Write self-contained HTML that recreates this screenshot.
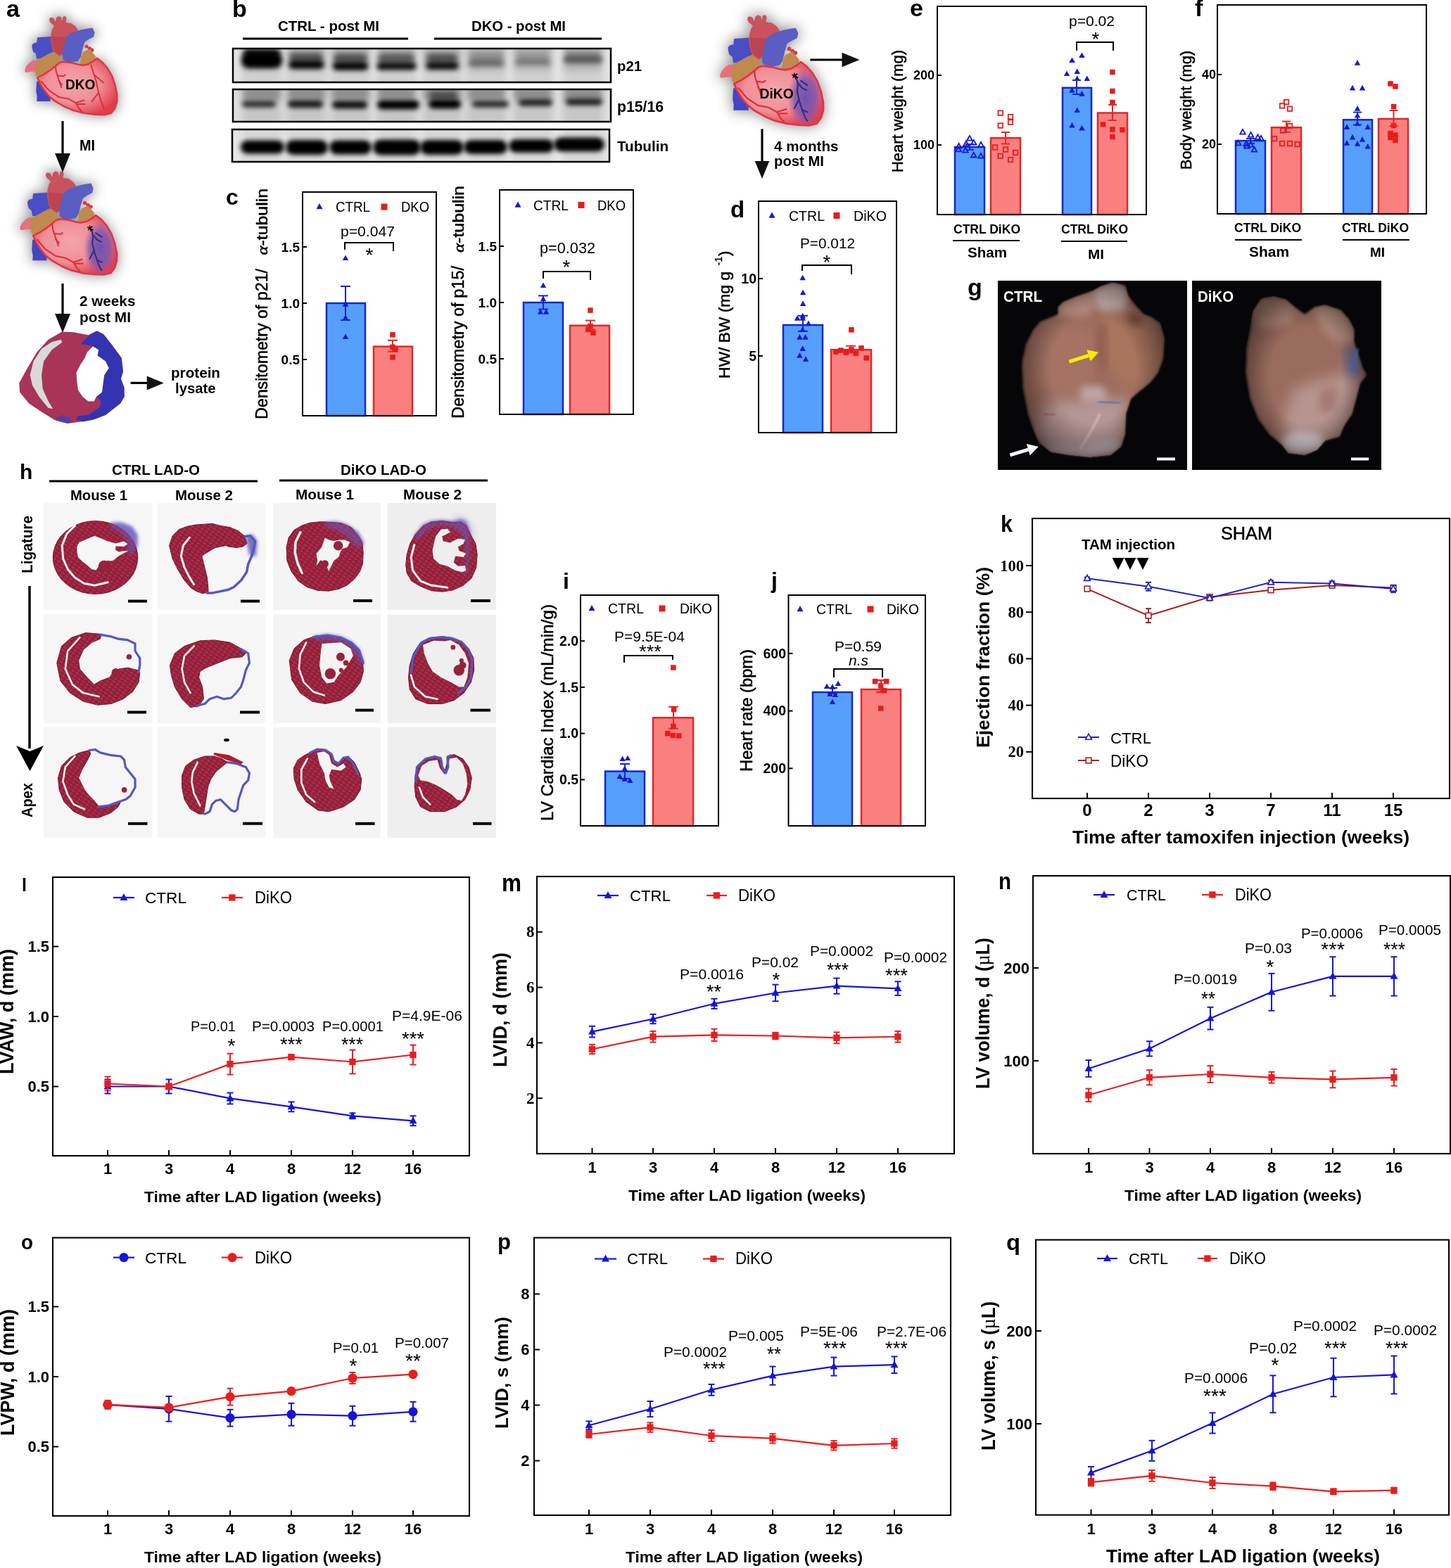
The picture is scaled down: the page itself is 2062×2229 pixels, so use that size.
<!DOCTYPE html>
<html><head><meta charset="utf-8"><title>Figure</title>
<style>html,body{margin:0;padding:0;background:#fff;overflow:hidden;width:2062px;height:2229px;} svg{display:block;}</style></head>
<body>
<svg width="2062" height="2229" viewBox="0 0 2062 2229">
<defs><filter id="bl3" x="-50%" y="-50%" width="200%" height="200%"><feGaussianBlur stdDeviation="3"/></filter>
<filter id="bl5" x="-50%" y="-50%" width="200%" height="200%"><feGaussianBlur stdDeviation="5"/></filter>
<filter id="bl3b" x="-50%" y="-80%" width="200%" height="260%"><feGaussianBlur stdDeviation="3.6 3"/></filter>
<filter id="bl2" x="-50%" y="-50%" width="200%" height="200%"><feGaussianBlur stdDeviation="2"/></filter>
<clipPath id="blotclip0"><rect x="331" y="69" width="537" height="48"/></clipPath>
<clipPath id="blotclip1"><rect x="331" y="127" width="537" height="46"/></clipPath>
<clipPath id="blotclip2"><rect x="330" y="184" width="536" height="46"/></clipPath>
<radialGradient id="ventg" cx="0.45" cy="0.45" r="0.6"><stop offset="0" stop-color="#f4a4ab"/><stop offset="0.55" stop-color="#f09098"/><stop offset="1" stop-color="#e0404e"/></radialGradient>
<radialGradient id="infg" cx="0.5" cy="0.5" r="0.5"><stop offset="0" stop-color="#6a4fb0" stop-opacity="0.95"/><stop offset="0.6" stop-color="#7a55b0" stop-opacity="0.8"/><stop offset="1" stop-color="#9a5aa8" stop-opacity="0"/></radialGradient>
<filter id="hsh" x="-50%" y="-50%" width="200%" height="200%"><feGaussianBlur stdDeviation="8.5"/></filter>
<filter id="hb1" x="-30%" y="-30%" width="160%" height="160%"><feGaussianBlur stdDeviation="0.6"/></filter>
<clipPath id="ventclip"><polygon points="53.1,110.3 62.3,105.7 71.5,99.7 78.9,93.7 84.4,89.1 89.9,87.7 101.0,89.1 112.0,91.9 117.5,92.8 125.8,91.0 133.2,86.4 137.8,82.7 145.1,88.2 152.5,96.5 158.9,107.5 163.5,120.4 166.3,134.2 166.3,144.3 163.5,153.5 158.0,160.9 148.8,163.2 135.0,162.7 119.4,160.9 104.6,157.2 91.8,151.7 78.9,144.3 69.7,137.0 62.3,127.8 56.8,118.6"/></clipPath>
<filter id="gb3" x="-30%" y="-30%" width="160%" height="160%"><feGaussianBlur stdDeviation="3"/></filter>
<filter id="gb6" x="-30%" y="-30%" width="160%" height="160%"><feGaussianBlur stdDeviation="6"/></filter>
<filter id="gb10" x="-30%" y="-30%" width="160%" height="160%"><feGaussianBlur stdDeviation="10"/></filter>
<filter id="gb2" x="-30%" y="-30%" width="160%" height="160%"><feGaussianBlur stdDeviation="1.8"/></filter>
<radialGradient id="vig" cx="0.5" cy="0.5" r="0.55"><stop offset="0.55" stop-color="#000" stop-opacity="0"/><stop offset="1" stop-color="#000" stop-opacity="0.45"/></radialGradient>
<clipPath id="gc1"><rect x="1418" y="399" width="269" height="269"/></clipPath>
<clipPath id="gc2"><rect x="1694" y="399" width="269" height="269"/></clipPath>
<clipPath id="gclipA"><polygon points="1503.9,436.8 1511.2,429.6 1528.6,422.3 1553.4,413.6 1563.6,407.7 1581.0,401.9 1598.5,406.3 1602.9,420.8 1611.6,432.5 1624.7,447.0 1636.3,451.4 1648.0,460.1 1653.8,480.5 1652.4,509.6 1645.1,530.0 1633.4,544.6 1618.9,556.2 1607.2,566.4 1600.0,588.2 1598.5,617.3 1592.7,634.8 1578.1,646.5 1549.0,649.4 1519.9,646.5 1493.7,642.1 1477.7,629.0 1470.4,613.0 1461.7,588.2 1454.4,551.8 1452.9,515.4 1458.8,489.2 1468.9,468.9 1479.1,457.2 1493.7,451.4 1503.9,447.0"/></clipPath>
<clipPath id="gclipB"><polygon points="1781.3,442.7 1793.0,425.2 1810.4,422.3 1827.9,426.7 1839.6,436.8 1854.1,447.0 1868.7,436.8 1883.2,433.9 1905.1,441.2 1916.7,454.3 1924.0,468.9 1924.0,486.3 1929.8,503.8 1935.6,522.7 1941.5,532.9 1932.7,544.6 1926.9,566.4 1921.1,588.2 1909.4,605.7 1903.6,620.3 1883.2,626.1 1871.6,639.2 1854.1,646.5 1830.8,643.5 1822.1,631.9 1804.6,617.3 1788.6,595.5 1777.0,566.4 1771.1,530.0 1772.6,493.6 1777.0,471.8"/></clipPath>
<filter id="hbl" x="-30%" y="-30%" width="160%" height="160%"><feGaussianBlur stdDeviation="2.5"/></filter>
<pattern id="hstreak" width="7" height="5" patternUnits="userSpaceOnUse" patternTransform="rotate(35)"><rect width="7" height="5" fill="none"/><line x1="0" y1="1" x2="4" y2="1" stroke="#e07a8c" stroke-width="0.8" opacity="0.55"/><line x1="3" y1="3.5" x2="6" y2="3.5" stroke="#6a0c20" stroke-width="0.8" opacity="0.5"/></pattern></defs>
<rect x="0" y="0" width="2062" height="2229" fill="#fff"/>
<g clip-path="url(#blotclip0)">
<rect x="331.0" y="69.0" width="537.0" height="48.0" fill="#e2e2e2" />
<rect x="344.0" y="64" width="56" height="58" fill="#000" opacity="0.08" filter="url(#bl5)"/>
<rect x="345.0" y="65" width="54" height="34" fill="#000" opacity="0.16" filter="url(#bl5)"/>
<rect x="407.5" y="64" width="56" height="58" fill="#000" opacity="0.08" filter="url(#bl5)"/>
<rect x="408.5" y="65" width="54" height="34" fill="#000" opacity="0.16" filter="url(#bl5)"/>
<rect x="470.0" y="64" width="56" height="58" fill="#000" opacity="0.08" filter="url(#bl5)"/>
<rect x="471.0" y="65" width="54" height="34" fill="#000" opacity="0.16" filter="url(#bl5)"/>
<rect x="535.5" y="64" width="56" height="58" fill="#000" opacity="0.08" filter="url(#bl5)"/>
<rect x="536.5" y="65" width="54" height="34" fill="#000" opacity="0.16" filter="url(#bl5)"/>
<rect x="600.6" y="64" width="56" height="58" fill="#000" opacity="0.08" filter="url(#bl5)"/>
<rect x="601.6" y="65" width="54" height="34" fill="#000" opacity="0.16" filter="url(#bl5)"/>
<rect x="663.0" y="64" width="56" height="58" fill="#000" opacity="0.08" filter="url(#bl5)"/>
<rect x="664.0" y="65" width="54" height="34" fill="#000" opacity="0.16" filter="url(#bl5)"/>
<rect x="729.0" y="64" width="56" height="58" fill="#000" opacity="0.08" filter="url(#bl5)"/>
<rect x="730.0" y="65" width="54" height="34" fill="#000" opacity="0.16" filter="url(#bl5)"/>
<rect x="800.5" y="64" width="56" height="58" fill="#000" opacity="0.08" filter="url(#bl5)"/>
<rect x="801.5" y="65" width="54" height="34" fill="#000" opacity="0.16" filter="url(#bl5)"/>
<rect x="343.0" y="75.0" width="58.0" height="22.0" rx="11.0" fill="#000" opacity="1.00" filter="url(#bl3b)"/>
<rect x="346.0" y="70.0" width="52.0" height="12.0" rx="6.0" fill="#000" opacity="0.90" filter="url(#bl3b)"/>
<rect x="410.5" y="86.0" width="50.0" height="12.0" rx="6.0" fill="#000" opacity="0.95" filter="url(#bl3b)"/>
<rect x="411.0" y="75.0" width="48.0" height="14.0" rx="7.0" fill="#000" opacity="0.50" filter="url(#bl3b)"/>
<rect x="473.0" y="88.0" width="50.0" height="12.0" rx="6.0" fill="#000" opacity="0.95" filter="url(#bl3b)"/>
<rect x="474.0" y="76.0" width="48.0" height="14.0" rx="7.0" fill="#000" opacity="0.50" filter="url(#bl3b)"/>
<rect x="535.5" y="88.5" width="56.0" height="11.0" rx="5.5" fill="#000" opacity="0.90" filter="url(#bl3b)"/>
<rect x="537.0" y="76.0" width="52.0" height="14.0" rx="7.0" fill="#000" opacity="0.45" filter="url(#bl3b)"/>
<rect x="605.6" y="88.0" width="46.0" height="11.0" rx="5.5" fill="#000" opacity="0.90" filter="url(#bl3b)"/>
<rect x="606.0" y="76.0" width="44.0" height="14.0" rx="7.0" fill="#000" opacity="0.50" filter="url(#bl3b)"/>
<rect x="666.0" y="85.0" width="50.0" height="10.0" rx="5.0" fill="#000" opacity="0.35" filter="url(#bl3b)"/>
<rect x="667.0" y="75.0" width="48.0" height="12.0" rx="6.0" fill="#000" opacity="0.18" filter="url(#bl3b)"/>
<rect x="732.0" y="83.5" width="50.0" height="9.0" rx="4.5" fill="#000" opacity="0.28" filter="url(#bl3b)"/>
<rect x="734.0" y="75.0" width="46.0" height="10.0" rx="5.0" fill="#000" opacity="0.12" filter="url(#bl3b)"/>
<rect x="800.5" y="80.0" width="56.0" height="10.0" rx="5.0" fill="#000" opacity="0.45" filter="url(#bl3b)"/>
<rect x="802.0" y="73.0" width="52.0" height="10.0" rx="5.0" fill="#000" opacity="0.20" filter="url(#bl3b)"/>
</g>
<rect x="331.0" y="69.0" width="537.0" height="48.0" fill="none" stroke="#000" stroke-width="2.5" />
<g clip-path="url(#blotclip1)">
<rect x="331.0" y="127.0" width="537.0" height="46.0" fill="#dedede" />
<rect x="344.0" y="122" width="56" height="56" fill="#000" opacity="0.1" filter="url(#bl5)"/>
<rect x="345.0" y="123" width="54" height="20" fill="#000" opacity="0.28" filter="url(#bl5)"/>
<rect x="407.5" y="122" width="56" height="56" fill="#000" opacity="0.1" filter="url(#bl5)"/>
<rect x="408.5" y="123" width="54" height="20" fill="#000" opacity="0.28" filter="url(#bl5)"/>
<rect x="470.0" y="122" width="56" height="56" fill="#000" opacity="0.1" filter="url(#bl5)"/>
<rect x="471.0" y="123" width="54" height="20" fill="#000" opacity="0.28" filter="url(#bl5)"/>
<rect x="535.5" y="122" width="56" height="56" fill="#000" opacity="0.1" filter="url(#bl5)"/>
<rect x="536.5" y="123" width="54" height="20" fill="#000" opacity="0.28" filter="url(#bl5)"/>
<rect x="600.6" y="122" width="56" height="56" fill="#000" opacity="0.1" filter="url(#bl5)"/>
<rect x="601.6" y="123" width="54" height="20" fill="#000" opacity="0.28" filter="url(#bl5)"/>
<rect x="663.0" y="122" width="56" height="56" fill="#000" opacity="0.1" filter="url(#bl5)"/>
<rect x="664.0" y="123" width="54" height="20" fill="#000" opacity="0.28" filter="url(#bl5)"/>
<rect x="729.0" y="122" width="56" height="56" fill="#000" opacity="0.1" filter="url(#bl5)"/>
<rect x="730.0" y="123" width="54" height="20" fill="#000" opacity="0.28" filter="url(#bl5)"/>
<rect x="800.5" y="122" width="56" height="56" fill="#000" opacity="0.1" filter="url(#bl5)"/>
<rect x="801.5" y="123" width="54" height="20" fill="#000" opacity="0.28" filter="url(#bl5)"/>
<rect x="344.0" y="143.0" width="48.0" height="10.0" rx="5.0" fill="#000" opacity="0.72" filter="url(#bl3b)"/>
<rect x="409.0" y="142.5" width="50.0" height="11.0" rx="5.5" fill="#000" opacity="0.85" filter="url(#bl3b)"/>
<rect x="472.0" y="143.5" width="50.0" height="11.0" rx="5.5" fill="#000" opacity="0.92" filter="url(#bl3b)"/>
<rect x="536.0" y="142.5" width="60.0" height="13.0" rx="6.5" fill="#000" opacity="1.00" filter="url(#bl3b)"/>
<rect x="609.0" y="141.5" width="46.0" height="13.0" rx="6.5" fill="#000" opacity="1.00" filter="url(#bl3b)"/>
<rect x="610.0" y="130.0" width="40.0" height="12.0" rx="6.0" fill="#000" opacity="0.45" filter="url(#bl3b)"/>
<rect x="671.0" y="143.0" width="52.0" height="10.0" rx="5.0" fill="#000" opacity="0.75" filter="url(#bl3b)"/>
<rect x="737.0" y="141.0" width="48.0" height="10.0" rx="5.0" fill="#000" opacity="0.80" filter="url(#bl3b)"/>
<rect x="804.0" y="140.0" width="52.0" height="10.0" rx="5.0" fill="#000" opacity="0.80" filter="url(#bl3b)"/>
</g>
<rect x="331.0" y="127.0" width="537.0" height="46.0" fill="none" stroke="#000" stroke-width="2.5" />
<g clip-path="url(#blotclip2)">
<rect x="330.0" y="184.0" width="536.0" height="46.0" fill="#e6e6e6" />
<rect x="344.0" y="179" width="56" height="56" fill="#000" opacity="0.06" filter="url(#bl5)"/>
<rect x="407.5" y="179" width="56" height="56" fill="#000" opacity="0.06" filter="url(#bl5)"/>
<rect x="470.0" y="179" width="56" height="56" fill="#000" opacity="0.06" filter="url(#bl5)"/>
<rect x="535.5" y="179" width="56" height="56" fill="#000" opacity="0.06" filter="url(#bl5)"/>
<rect x="600.6" y="179" width="56" height="56" fill="#000" opacity="0.06" filter="url(#bl5)"/>
<rect x="663.0" y="179" width="56" height="56" fill="#000" opacity="0.06" filter="url(#bl5)"/>
<rect x="729.0" y="179" width="56" height="56" fill="#000" opacity="0.06" filter="url(#bl5)"/>
<rect x="800.5" y="179" width="56" height="56" fill="#000" opacity="0.06" filter="url(#bl5)"/>
<rect x="342.0" y="199.5" width="62.0" height="19.0" rx="9.5" fill="#000" opacity="1.00" filter="url(#bl3b)"/>
<rect x="406.0" y="199.0" width="60.0" height="21.0" rx="10.5" fill="#000" opacity="1.00" filter="url(#bl3b)"/>
<rect x="468.0" y="199.5" width="60.0" height="20.0" rx="10.0" fill="#000" opacity="1.00" filter="url(#bl3b)"/>
<rect x="530.0" y="198.5" width="68.0" height="22.0" rx="11.0" fill="#000" opacity="1.00" filter="url(#bl3b)"/>
<rect x="597.0" y="199.0" width="62.0" height="21.0" rx="10.5" fill="#000" opacity="1.00" filter="url(#bl3b)"/>
<rect x="659.0" y="199.0" width="62.0" height="20.0" rx="10.0" fill="#000" opacity="1.00" filter="url(#bl3b)"/>
<rect x="723.0" y="198.0" width="64.0" height="19.0" rx="9.5" fill="#000" opacity="1.00" filter="url(#bl3b)"/>
<rect x="787.0" y="195.5" width="72.0" height="20.0" rx="10.0" fill="#000" opacity="1.00" filter="url(#bl3b)"/>
</g>
<rect x="330.0" y="184.0" width="536.0" height="46.0" fill="none" stroke="#000" stroke-width="2.5" />
<text x="395.0" y="43.5" font-size="20.5" font-family="'Liberation Sans', Arial, sans-serif" font-weight="bold" textLength="144.0" lengthAdjust="spacingAndGlyphs" >CTRL - post MI</text>
<text x="670.0" y="43.5" font-size="20.3" font-family="'Liberation Sans', Arial, sans-serif" font-weight="bold" textLength="134.0" lengthAdjust="spacingAndGlyphs" >DKO - post MI</text>
<line x1="345.0" y1="55.0" x2="580.0" y2="55.0" stroke="#000" stroke-width="3.2" />
<line x1="617.0" y1="55.0" x2="855.0" y2="55.0" stroke="#000" stroke-width="3.2" />
<text x="877.0" y="101.0" font-size="21" font-family="'Liberation Sans', Arial, sans-serif" font-weight="bold" textLength="35.0" lengthAdjust="spacingAndGlyphs" >p21</text>
<text x="877.0" y="159.0" font-size="21.2" font-family="'Liberation Sans', Arial, sans-serif" font-weight="bold" textLength="66.0" lengthAdjust="spacingAndGlyphs" >p15/16</text>
<text x="877.0" y="214.5" font-size="20.7" font-family="'Liberation Sans', Arial, sans-serif" font-weight="bold" textLength="73.0" lengthAdjust="spacingAndGlyphs" >Tubulin</text>
<text x="330.0" y="24.0" font-size="34" font-family="'Liberation Sans', Arial, sans-serif" font-weight="bold" >b</text>
<text x="9.0" y="24.0" font-size="34" font-family="'Liberation Sans', Arial, sans-serif" font-weight="bold" >a</text>
<g transform="translate(0,0)">
<g filter="url(#hsh)" opacity="0.9">
<polygon points="53.1,110.3 62.3,105.7 71.5,99.7 78.9,93.7 84.4,89.1 89.9,87.7 101.0,89.1 112.0,91.9 117.5,92.8 125.8,91.0 133.2,86.4 137.8,82.7 145.1,88.2 152.5,96.5 158.9,107.5 163.5,120.4 166.3,134.2 166.3,144.3 163.5,153.5 158.0,160.9 148.8,163.2 135.0,162.7 119.4,160.9 104.6,157.2 91.8,151.7 78.9,144.3 69.7,137.0 62.3,127.8 56.8,118.6" fill="#8a8a8a" stroke="#8a8a8a" stroke-width="4"/>
<polygon points="45.3,64.3 47.6,61.5 52.2,60.6 53.1,53.2 71.5,51.9 77.0,57.8 78.9,74.4 71.5,79.9 58.6,83.6 52.2,83.6 50.8,76.2 47.1,73.5 45.8,68.9" fill="#8a8a8a" stroke="#8a8a8a" stroke-width="4"/>
<polygon points="93.6,53.2 99.1,48.6 106.5,45.0 115.7,42.2 124.9,40.4 131.3,39.4 134.5,45.9 133.2,52.3 125.8,56.0 120.3,59.7 117.5,68.9 114.8,80.8 111.1,86.4 102.8,88.2 93.6,87.7 89.0,83.6 88.5,74.4 90.8,65.2" fill="#8a8a8a" stroke="#8a8a8a" stroke-width="4"/>
<polygon points="69.7,28.4 71.5,24.7 76.1,25.6 78.9,31.2 79.8,25.6 83.5,22.9 87.2,24.7 88.1,30.2 89.5,23.8 92.7,22.9 94.5,25.6 93.6,32.1 101.0,33.0 107.4,37.6 111.1,43.1 107.4,46.8 100.0,49.6 94.5,54.2 93.6,61.5 92.7,69.8 89.0,77.2 84.4,79.9 78.9,77.2 74.3,69.8 72.0,57.8 72.4,48.6 74.3,41.3 77.0,36.7 71.5,32.1" fill="#8a8a8a" stroke="#8a8a8a" stroke-width="4"/>
<polygon points="50.4,86.4 59.6,81.8 69.7,76.2 76.1,73.5 84.4,79.9 86.2,86.4 80.7,91.9 72.4,97.4 63.2,103.8 55.0,108.9 50.8,107.5 49.9,97.4" fill="#8a8a8a" stroke="#8a8a8a" stroke-width="4"/>
<polygon points="35.2,99.2 37.5,93.7 42.1,89.1 47.6,85.4 50.8,86.4 50.4,102.0 44.8,101.5 38.4,102.9 35.6,102.5" fill="#8a8a8a" stroke="#8a8a8a" stroke-width="4"/>
<polygon points="52.2,115.8 65.1,115.8 71.5,129.6 71.5,143.9 52.2,143.9 52.7,137.0 51.3,129.6" fill="#8a8a8a" stroke="#8a8a8a" stroke-width="4"/>
</g>
<polygon points="52.2,115.8 65.1,115.8 71.5,129.6 71.5,143.9 52.2,143.9 52.7,137.0 51.3,129.6" fill="#4246c2"/>
<polygon points="45.3,64.3 47.6,61.5 52.2,60.6 53.1,53.2 71.5,51.9 77.0,57.8 78.9,74.4 71.5,79.9 58.6,83.6 52.2,83.6 50.8,76.2 47.1,73.5 45.8,68.9" fill="#4a4ec4"/>
<polygon points="69.7,28.4 71.5,24.7 76.1,25.6 78.9,31.2 79.8,25.6 83.5,22.9 87.2,24.7 88.1,30.2 89.5,23.8 92.7,22.9 94.5,25.6 93.6,32.1 101.0,33.0 107.4,37.6 111.1,43.1 107.4,46.8 100.0,49.6 94.5,54.2 93.6,61.5 92.7,69.8 89.0,77.2 84.4,79.9 78.9,77.2 74.3,69.8 72.0,57.8 72.4,48.6 74.3,41.3 77.0,36.7 71.5,32.1" fill="#c9525c"/>
<polygon points="73.4,51.4 93.6,53.2 92.7,69.8 89.0,76.2 84.4,78.1 78.9,74.4 74.7,67.0" fill="#b9404f" opacity="0.8"/>
<polygon points="93.6,53.2 99.1,48.6 106.5,45.0 115.7,42.2 124.9,40.4 131.3,39.4 134.5,45.9 133.2,52.3 125.8,56.0 120.3,59.7 117.5,68.9 114.8,80.8 111.1,86.4 102.8,88.2 93.6,87.7 89.0,83.6 88.5,74.4 90.8,65.2" fill="#5a5dc2"/>
<polygon points="35.2,99.2 37.5,93.7 42.1,89.1 47.6,85.4 50.8,86.4 50.4,102.0 44.8,101.5 38.4,102.9 35.6,102.5" fill="#e6707e"/>
<polygon points="50.4,86.4 59.6,81.8 69.7,76.2 76.1,73.5 84.4,79.9 86.2,86.4 80.7,91.9 72.4,97.4 63.2,103.8 55.0,108.9 50.8,107.5 49.9,97.4" fill="#c08a4e"/>
<circle cx="123.0" cy="66.1" r="2.6" fill="#d83a48"/>
<circle cx="127.2" cy="68.9" r="2.6" fill="#d83a48"/>
<circle cx="130.9" cy="71.2" r="2.6" fill="#d83a48"/>
<polygon points="114.8,80.8 117.5,74.4 122.1,71.6 127.6,69.8 135.9,79.9 135.0,86.4 128.6,91.0 121.2,94.6 115.7,95.6 113.8,91.0" fill="#c08a4e"/>
<polygon points="53.1,110.3 62.3,105.7 71.5,99.7 78.9,93.7 84.4,89.1 89.9,87.7 101.0,89.1 112.0,91.9 117.5,92.8 125.8,91.0 133.2,86.4 137.8,82.7 145.1,88.2 152.5,96.5 158.9,107.5 163.5,120.4 166.3,134.2 166.3,144.3 163.5,153.5 158.0,160.9 148.8,163.2 135.0,162.7 119.4,160.9 104.6,157.2 91.8,151.7 78.9,144.3 69.7,137.0 62.3,127.8 56.8,118.6" fill="url(#ventg)" stroke="#e03444" stroke-width="2.4" stroke-linejoin="round"/>
<polyline points="78.9,94.6 79.8,102.0 83.5,113.0 87.2,124.1" fill="none" stroke="#d8303e" stroke-width="2" stroke-linecap="round" stroke-linejoin="round"/>
<polyline points="82.6,107.5 89.9,108.4 92.7,106.6" fill="none" stroke="#d8303e" stroke-width="2" stroke-linecap="round" stroke-linejoin="round"/>
<polyline points="83.5,114.9 88.1,120.4" fill="none" stroke="#d8303e" stroke-width="2" stroke-linecap="round" stroke-linejoin="round"/>
<polyline points="58.6,115.8 69.7,128.7 83.5,137.9 97.3,140.6 107.4,146.2 112.0,153.5 116.6,159.0" fill="none" stroke="#d8303e" stroke-width="2" stroke-linecap="round" stroke-linejoin="round"/>
<polyline points="107.4,146.2 119.4,142.5" fill="none" stroke="#d8303e" stroke-width="2" stroke-linecap="round" stroke-linejoin="round"/>
<polyline points="110.2,148.0 120.3,148.0" fill="none" stroke="#d8303e" stroke-width="2" stroke-linecap="round" stroke-linejoin="round"/>
<polyline points="129.5,92.8 132.2,102.0 136.8,115.8 139.6,129.6 143.3,143.4 147.9,154.4" fill="none" stroke="#d8303e" stroke-width="2" stroke-linecap="round" stroke-linejoin="round"/>
<polyline points="135.0,107.5 147.0,117.6" fill="none" stroke="#d8303e" stroke-width="2" stroke-linecap="round" stroke-linejoin="round"/>
<polyline points="139.6,132.4 130.4,144.3" fill="none" stroke="#d8303e" stroke-width="2" stroke-linecap="round" stroke-linejoin="round"/>
</g>
<text x="93.0" y="126.8" font-size="21" font-family="'Liberation Sans', Arial, sans-serif" font-weight="bold" textLength="42.5" lengthAdjust="spacingAndGlyphs" >DKO</text>
<g transform="translate(-8.6,219.2) scale(1.05)">
<g filter="url(#hsh)" opacity="0.9">
<polygon points="53.1,110.3 62.3,105.7 71.5,99.7 78.9,93.7 84.4,89.1 89.9,87.7 101.0,89.1 112.0,91.9 117.5,92.8 125.8,91.0 133.2,86.4 137.8,82.7 145.1,88.2 152.5,96.5 158.9,107.5 163.5,120.4 166.3,134.2 166.3,144.3 163.5,153.5 158.0,160.9 148.8,163.2 135.0,162.7 119.4,160.9 104.6,157.2 91.8,151.7 78.9,144.3 69.7,137.0 62.3,127.8 56.8,118.6" fill="#8a8a8a" stroke="#8a8a8a" stroke-width="4"/>
<polygon points="45.3,64.3 47.6,61.5 52.2,60.6 53.1,53.2 71.5,51.9 77.0,57.8 78.9,74.4 71.5,79.9 58.6,83.6 52.2,83.6 50.8,76.2 47.1,73.5 45.8,68.9" fill="#8a8a8a" stroke="#8a8a8a" stroke-width="4"/>
<polygon points="93.6,53.2 99.1,48.6 106.5,45.0 115.7,42.2 124.9,40.4 131.3,39.4 134.5,45.9 133.2,52.3 125.8,56.0 120.3,59.7 117.5,68.9 114.8,80.8 111.1,86.4 102.8,88.2 93.6,87.7 89.0,83.6 88.5,74.4 90.8,65.2" fill="#8a8a8a" stroke="#8a8a8a" stroke-width="4"/>
<polygon points="69.7,28.4 71.5,24.7 76.1,25.6 78.9,31.2 79.8,25.6 83.5,22.9 87.2,24.7 88.1,30.2 89.5,23.8 92.7,22.9 94.5,25.6 93.6,32.1 101.0,33.0 107.4,37.6 111.1,43.1 107.4,46.8 100.0,49.6 94.5,54.2 93.6,61.5 92.7,69.8 89.0,77.2 84.4,79.9 78.9,77.2 74.3,69.8 72.0,57.8 72.4,48.6 74.3,41.3 77.0,36.7 71.5,32.1" fill="#8a8a8a" stroke="#8a8a8a" stroke-width="4"/>
<polygon points="50.4,86.4 59.6,81.8 69.7,76.2 76.1,73.5 84.4,79.9 86.2,86.4 80.7,91.9 72.4,97.4 63.2,103.8 55.0,108.9 50.8,107.5 49.9,97.4" fill="#8a8a8a" stroke="#8a8a8a" stroke-width="4"/>
<polygon points="35.2,99.2 37.5,93.7 42.1,89.1 47.6,85.4 50.8,86.4 50.4,102.0 44.8,101.5 38.4,102.9 35.6,102.5" fill="#8a8a8a" stroke="#8a8a8a" stroke-width="4"/>
<polygon points="52.2,115.8 65.1,115.8 71.5,129.6 71.5,143.9 52.2,143.9 52.7,137.0 51.3,129.6" fill="#8a8a8a" stroke="#8a8a8a" stroke-width="4"/>
</g>
<polygon points="52.2,115.8 65.1,115.8 71.5,129.6 71.5,143.9 52.2,143.9 52.7,137.0 51.3,129.6" fill="#4246c2"/>
<polygon points="45.3,64.3 47.6,61.5 52.2,60.6 53.1,53.2 71.5,51.9 77.0,57.8 78.9,74.4 71.5,79.9 58.6,83.6 52.2,83.6 50.8,76.2 47.1,73.5 45.8,68.9" fill="#4a4ec4"/>
<polygon points="69.7,28.4 71.5,24.7 76.1,25.6 78.9,31.2 79.8,25.6 83.5,22.9 87.2,24.7 88.1,30.2 89.5,23.8 92.7,22.9 94.5,25.6 93.6,32.1 101.0,33.0 107.4,37.6 111.1,43.1 107.4,46.8 100.0,49.6 94.5,54.2 93.6,61.5 92.7,69.8 89.0,77.2 84.4,79.9 78.9,77.2 74.3,69.8 72.0,57.8 72.4,48.6 74.3,41.3 77.0,36.7 71.5,32.1" fill="#c9525c"/>
<polygon points="73.4,51.4 93.6,53.2 92.7,69.8 89.0,76.2 84.4,78.1 78.9,74.4 74.7,67.0" fill="#b9404f" opacity="0.8"/>
<polygon points="93.6,53.2 99.1,48.6 106.5,45.0 115.7,42.2 124.9,40.4 131.3,39.4 134.5,45.9 133.2,52.3 125.8,56.0 120.3,59.7 117.5,68.9 114.8,80.8 111.1,86.4 102.8,88.2 93.6,87.7 89.0,83.6 88.5,74.4 90.8,65.2" fill="#5a5dc2"/>
<polygon points="35.2,99.2 37.5,93.7 42.1,89.1 47.6,85.4 50.8,86.4 50.4,102.0 44.8,101.5 38.4,102.9 35.6,102.5" fill="#e6707e"/>
<polygon points="50.4,86.4 59.6,81.8 69.7,76.2 76.1,73.5 84.4,79.9 86.2,86.4 80.7,91.9 72.4,97.4 63.2,103.8 55.0,108.9 50.8,107.5 49.9,97.4" fill="#c08a4e"/>
<circle cx="123.0" cy="66.1" r="2.6" fill="#d83a48"/>
<circle cx="127.2" cy="68.9" r="2.6" fill="#d83a48"/>
<circle cx="130.9" cy="71.2" r="2.6" fill="#d83a48"/>
<polygon points="114.8,80.8 117.5,74.4 122.1,71.6 127.6,69.8 135.9,79.9 135.0,86.4 128.6,91.0 121.2,94.6 115.7,95.6 113.8,91.0" fill="#c08a4e"/>
<polygon points="53.1,110.3 62.3,105.7 71.5,99.7 78.9,93.7 84.4,89.1 89.9,87.7 101.0,89.1 112.0,91.9 117.5,92.8 125.8,91.0 133.2,86.4 137.8,82.7 145.1,88.2 152.5,96.5 158.9,107.5 163.5,120.4 166.3,134.2 166.3,144.3 163.5,153.5 158.0,160.9 148.8,163.2 135.0,162.7 119.4,160.9 104.6,157.2 91.8,151.7 78.9,144.3 69.7,137.0 62.3,127.8 56.8,118.6" fill="url(#ventg)" stroke="#e03444" stroke-width="2.4" stroke-linejoin="round"/>
<g clip-path="url(#ventclip)"><ellipse cx="143.3" cy="127.8" rx="22.1" ry="38.6" fill="url(#infg)"/></g>
<polyline points="78.9,94.6 79.8,102.0 83.5,113.0 87.2,124.1" fill="none" stroke="#d8303e" stroke-width="2" stroke-linecap="round" stroke-linejoin="round"/>
<polyline points="82.6,107.5 89.9,108.4 92.7,106.6" fill="none" stroke="#d8303e" stroke-width="2" stroke-linecap="round" stroke-linejoin="round"/>
<polyline points="83.5,114.9 88.1,120.4" fill="none" stroke="#d8303e" stroke-width="2" stroke-linecap="round" stroke-linejoin="round"/>
<polyline points="58.6,115.8 69.7,128.7 83.5,137.9 97.3,140.6 107.4,146.2 112.0,153.5 116.6,159.0" fill="none" stroke="#d8303e" stroke-width="2" stroke-linecap="round" stroke-linejoin="round"/>
<polyline points="107.4,146.2 119.4,142.5" fill="none" stroke="#d8303e" stroke-width="2" stroke-linecap="round" stroke-linejoin="round"/>
<polyline points="110.2,148.0 120.3,148.0" fill="none" stroke="#d8303e" stroke-width="2" stroke-linecap="round" stroke-linejoin="round"/>
<polyline points="132.2,102.0 134.1,111.2 133.2,120.4 135.9,132.4 139.6,143.4 143.3,153.5 146.0,157.2" fill="none" stroke="#3a2a80" stroke-width="2" stroke-linecap="round" stroke-linejoin="round"/>
<polyline points="134.1,109.4 139.6,115.8 145.1,118.6" fill="none" stroke="#3a2a80" stroke-width="2" stroke-linecap="round" stroke-linejoin="round"/>
<polyline points="135.9,129.6 129.5,141.6" fill="none" stroke="#3a2a80" stroke-width="2" stroke-linecap="round" stroke-linejoin="round"/>
<polyline points="139.6,143.4 146.0,146.2" fill="none" stroke="#3a2a80" stroke-width="2" stroke-linecap="round" stroke-linejoin="round"/>
<polyline points="137.8,106.6 146.0,112.1" fill="none" stroke="#3a2a80" stroke-width="2" stroke-linecap="round" stroke-linejoin="round"/>
<path d="M126.4,98.6 L134.4,102.6 M129.4,96.6 L131.4,104.6 M127.4,102.6 L133.4,97.6" stroke="#1a0a10" stroke-width="1.6"/>
</g>
<line x1="89.0" y1="172.0" x2="89.0" y2="220.0" stroke="#000" stroke-width="3.2" />
<polygon points="78.0,218.0 100.0,218.0 89.0,245.0" fill="#111" />
<text x="113.0" y="214.0" font-size="22.5" font-family="'Liberation Sans', Arial, sans-serif" font-weight="bold" textLength="22.0" lengthAdjust="spacingAndGlyphs" >MI</text>
<line x1="89.0" y1="403.0" x2="89.0" y2="448.0" stroke="#000" stroke-width="3.2" />
<polygon points="78.0,446.0 100.0,446.0 89.0,473.0" fill="#111" />
<text x="113.0" y="434.5" font-size="20.7" font-family="'Liberation Sans', Arial, sans-serif" font-weight="bold" textLength="79.4" lengthAdjust="spacingAndGlyphs" >2 weeks</text>
<text x="113.0" y="458.0" font-size="20.9" font-family="'Liberation Sans', Arial, sans-serif" font-weight="bold" textLength="73.0" lengthAdjust="spacingAndGlyphs" >post MI</text>
<polygon points="88.2,471.4 104.4,472.2 125.5,476.2 136.9,470.6 146.6,474.6 159.6,490.8 172.6,508.7 175.0,528.2 171.8,537.9 175.8,550.9 176.7,563.9 171.0,573.6 149.9,589.9 125.5,598.0 96.3,602.0 76.8,596.4 60.6,586.6 41.1,573.6 28.1,557.4 27.3,544.4 37.9,524.9 52.5,500.6 68.7,482.7" fill="#a83458"/>
<polygon points="114.2,489.2 125.5,477.9 138.5,470.6 148.2,476.2 172.6,508.7 175.0,528.2 171.8,537.9 176.7,550.9 176.7,563.9 171.0,573.6 149.9,589.9 133.6,596.4 117.4,599.6 107.7,596.4 110.9,591.5 125.5,589.9 141.8,578.5 143.4,570.4 136.9,563.9 145.0,557.4 146.6,544.4 148.2,533.1 154.7,523.3 149.9,513.6 138.5,505.5 140.1,497.3 132.0,492.5 123.9,490.0" fill="#3434b0"/>
<polygon points="76.8,596.4 88.2,589.9 96.3,593.1 104.4,599.6 96.3,602.0 84.9,599.6" fill="#4040b0" opacity="0.8"/>
<polygon points="132.0,492.5 140.1,497.3 138.5,505.5 149.9,513.6 154.7,523.3 148.2,533.1 146.6,544.4 145.0,557.4 136.9,563.9 133.6,570.4 125.5,570.4 117.4,563.9 110.9,554.2 109.3,541.2 108.5,529.8 114.2,518.4 120.6,508.7 123.9,500.6" fill="#fff"/>
<polygon points="86.6,482.7 88.2,486.8 73.6,497.3 62.2,513.6 59.0,533.1 60.6,552.5 68.7,570.4 75.2,580.9 68.7,580.1 55.7,563.9 46.0,547.7 42.7,533.1 47.6,513.6 59.0,495.7 73.6,486.0" fill="#d9d9d9"/>
<line x1="185.6" y1="544.4" x2="210.7" y2="544.4" stroke="#000" stroke-width="3.2" />
<polygon points="208.7,534.4 208.7,554.4 232.7,544.4" fill="#111" />
<text x="243.0" y="537.0" font-size="20.6" font-family="'Liberation Sans', Arial, sans-serif" font-weight="bold" textLength="70.0" lengthAdjust="spacingAndGlyphs" >protein</text>
<text x="249.0" y="558.5" font-size="20.3" font-family="'Liberation Sans', Arial, sans-serif" font-weight="bold" textLength="57.5" lengthAdjust="spacingAndGlyphs" >lysate</text>
<g transform="translate(983.7,-4.5) scale(1.12)">
<g filter="url(#hsh)" opacity="0.9">
<polygon points="53.1,110.3 62.3,105.7 71.5,99.7 78.9,93.7 84.4,89.1 89.9,87.7 101.0,89.1 112.0,91.9 117.5,92.8 125.8,91.0 133.2,86.4 137.8,82.7 145.1,88.2 152.5,96.5 158.9,107.5 163.5,120.4 166.3,134.2 166.3,144.3 163.5,153.5 158.0,160.9 148.8,163.2 135.0,162.7 119.4,160.9 104.6,157.2 91.8,151.7 78.9,144.3 69.7,137.0 62.3,127.8 56.8,118.6" fill="#8a8a8a" stroke="#8a8a8a" stroke-width="4"/>
<polygon points="45.3,64.3 47.6,61.5 52.2,60.6 53.1,53.2 71.5,51.9 77.0,57.8 78.9,74.4 71.5,79.9 58.6,83.6 52.2,83.6 50.8,76.2 47.1,73.5 45.8,68.9" fill="#8a8a8a" stroke="#8a8a8a" stroke-width="4"/>
<polygon points="93.6,53.2 99.1,48.6 106.5,45.0 115.7,42.2 124.9,40.4 131.3,39.4 134.5,45.9 133.2,52.3 125.8,56.0 120.3,59.7 117.5,68.9 114.8,80.8 111.1,86.4 102.8,88.2 93.6,87.7 89.0,83.6 88.5,74.4 90.8,65.2" fill="#8a8a8a" stroke="#8a8a8a" stroke-width="4"/>
<polygon points="69.7,28.4 71.5,24.7 76.1,25.6 78.9,31.2 79.8,25.6 83.5,22.9 87.2,24.7 88.1,30.2 89.5,23.8 92.7,22.9 94.5,25.6 93.6,32.1 101.0,33.0 107.4,37.6 111.1,43.1 107.4,46.8 100.0,49.6 94.5,54.2 93.6,61.5 92.7,69.8 89.0,77.2 84.4,79.9 78.9,77.2 74.3,69.8 72.0,57.8 72.4,48.6 74.3,41.3 77.0,36.7 71.5,32.1" fill="#8a8a8a" stroke="#8a8a8a" stroke-width="4"/>
<polygon points="50.4,86.4 59.6,81.8 69.7,76.2 76.1,73.5 84.4,79.9 86.2,86.4 80.7,91.9 72.4,97.4 63.2,103.8 55.0,108.9 50.8,107.5 49.9,97.4" fill="#8a8a8a" stroke="#8a8a8a" stroke-width="4"/>
<polygon points="35.2,99.2 37.5,93.7 42.1,89.1 47.6,85.4 50.8,86.4 50.4,102.0 44.8,101.5 38.4,102.9 35.6,102.5" fill="#8a8a8a" stroke="#8a8a8a" stroke-width="4"/>
<polygon points="52.2,115.8 65.1,115.8 71.5,129.6 71.5,143.9 52.2,143.9 52.7,137.0 51.3,129.6" fill="#8a8a8a" stroke="#8a8a8a" stroke-width="4"/>
</g>
<polygon points="52.2,115.8 65.1,115.8 71.5,129.6 71.5,143.9 52.2,143.9 52.7,137.0 51.3,129.6" fill="#4246c2"/>
<polygon points="45.3,64.3 47.6,61.5 52.2,60.6 53.1,53.2 71.5,51.9 77.0,57.8 78.9,74.4 71.5,79.9 58.6,83.6 52.2,83.6 50.8,76.2 47.1,73.5 45.8,68.9" fill="#4a4ec4"/>
<polygon points="69.7,28.4 71.5,24.7 76.1,25.6 78.9,31.2 79.8,25.6 83.5,22.9 87.2,24.7 88.1,30.2 89.5,23.8 92.7,22.9 94.5,25.6 93.6,32.1 101.0,33.0 107.4,37.6 111.1,43.1 107.4,46.8 100.0,49.6 94.5,54.2 93.6,61.5 92.7,69.8 89.0,77.2 84.4,79.9 78.9,77.2 74.3,69.8 72.0,57.8 72.4,48.6 74.3,41.3 77.0,36.7 71.5,32.1" fill="#c9525c"/>
<polygon points="73.4,51.4 93.6,53.2 92.7,69.8 89.0,76.2 84.4,78.1 78.9,74.4 74.7,67.0" fill="#b9404f" opacity="0.8"/>
<polygon points="93.6,53.2 99.1,48.6 106.5,45.0 115.7,42.2 124.9,40.4 131.3,39.4 134.5,45.9 133.2,52.3 125.8,56.0 120.3,59.7 117.5,68.9 114.8,80.8 111.1,86.4 102.8,88.2 93.6,87.7 89.0,83.6 88.5,74.4 90.8,65.2" fill="#5a5dc2"/>
<polygon points="35.2,99.2 37.5,93.7 42.1,89.1 47.6,85.4 50.8,86.4 50.4,102.0 44.8,101.5 38.4,102.9 35.6,102.5" fill="#e6707e"/>
<polygon points="50.4,86.4 59.6,81.8 69.7,76.2 76.1,73.5 84.4,79.9 86.2,86.4 80.7,91.9 72.4,97.4 63.2,103.8 55.0,108.9 50.8,107.5 49.9,97.4" fill="#c08a4e"/>
<circle cx="123.0" cy="66.1" r="2.6" fill="#d83a48"/>
<circle cx="127.2" cy="68.9" r="2.6" fill="#d83a48"/>
<circle cx="130.9" cy="71.2" r="2.6" fill="#d83a48"/>
<polygon points="114.8,80.8 117.5,74.4 122.1,71.6 127.6,69.8 135.9,79.9 135.0,86.4 128.6,91.0 121.2,94.6 115.7,95.6 113.8,91.0" fill="#c08a4e"/>
<polygon points="53.1,110.3 62.3,105.7 71.5,99.7 78.9,93.7 84.4,89.1 89.9,87.7 101.0,89.1 112.0,91.9 117.5,92.8 125.8,91.0 133.2,86.4 137.8,82.7 145.1,88.2 152.5,96.5 158.9,107.5 163.5,120.4 166.3,134.2 166.3,144.3 163.5,153.5 158.0,160.9 148.8,163.2 135.0,162.7 119.4,160.9 104.6,157.2 91.8,151.7 78.9,144.3 69.7,137.0 62.3,127.8 56.8,118.6" fill="url(#ventg)" stroke="#e03444" stroke-width="2.4" stroke-linejoin="round"/>
<g clip-path="url(#ventclip)"><ellipse cx="143.3" cy="127.8" rx="22.1" ry="38.6" fill="url(#infg)"/></g>
<polyline points="78.9,94.6 79.8,102.0 83.5,113.0 87.2,124.1" fill="none" stroke="#d8303e" stroke-width="2" stroke-linecap="round" stroke-linejoin="round"/>
<polyline points="82.6,107.5 89.9,108.4 92.7,106.6" fill="none" stroke="#d8303e" stroke-width="2" stroke-linecap="round" stroke-linejoin="round"/>
<polyline points="83.5,114.9 88.1,120.4" fill="none" stroke="#d8303e" stroke-width="2" stroke-linecap="round" stroke-linejoin="round"/>
<polyline points="58.6,115.8 69.7,128.7 83.5,137.9 97.3,140.6 107.4,146.2 112.0,153.5 116.6,159.0" fill="none" stroke="#d8303e" stroke-width="2" stroke-linecap="round" stroke-linejoin="round"/>
<polyline points="107.4,146.2 119.4,142.5" fill="none" stroke="#d8303e" stroke-width="2" stroke-linecap="round" stroke-linejoin="round"/>
<polyline points="110.2,148.0 120.3,148.0" fill="none" stroke="#d8303e" stroke-width="2" stroke-linecap="round" stroke-linejoin="round"/>
<polyline points="132.2,102.0 134.1,111.2 133.2,120.4 135.9,132.4 139.6,143.4 143.3,153.5 146.0,157.2" fill="none" stroke="#3a2a80" stroke-width="2" stroke-linecap="round" stroke-linejoin="round"/>
<polyline points="134.1,109.4 139.6,115.8 145.1,118.6" fill="none" stroke="#3a2a80" stroke-width="2" stroke-linecap="round" stroke-linejoin="round"/>
<polyline points="135.9,129.6 129.5,141.6" fill="none" stroke="#3a2a80" stroke-width="2" stroke-linecap="round" stroke-linejoin="round"/>
<polyline points="139.6,143.4 146.0,146.2" fill="none" stroke="#3a2a80" stroke-width="2" stroke-linecap="round" stroke-linejoin="round"/>
<polyline points="137.8,106.6 146.0,112.1" fill="none" stroke="#3a2a80" stroke-width="2" stroke-linecap="round" stroke-linejoin="round"/>
<path d="M126.4,98.6 L134.4,102.6 M129.4,96.6 L131.4,104.6 M127.4,102.6 L133.4,97.6" stroke="#1a0a10" stroke-width="1.6"/>
</g>
<text x="1079.5" y="140.0" font-size="20" font-family="'Liberation Sans', Arial, sans-serif" font-weight="bold" textLength="48.1" lengthAdjust="spacingAndGlyphs" >DiKO</text>
<line x1="1151.4" y1="85.0" x2="1198.5" y2="85.0" stroke="#000" stroke-width="3.2" />
<polygon points="1196.5,74.7 1196.5,95.3 1221.5,85.0" fill="#111" />
<line x1="1083.0" y1="183.3" x2="1083.0" y2="231.0" stroke="#000" stroke-width="3.2" />
<polygon points="1072.7,229.0 1093.3,229.0 1083.0,254.0" fill="#111" />
<text x="1100.0" y="215.3" font-size="20.6" font-family="'Liberation Sans', Arial, sans-serif" font-weight="bold" textLength="91.5" lengthAdjust="spacingAndGlyphs" >4 months</text>
<text x="1100.0" y="236.0" font-size="20.3" font-family="'Liberation Sans', Arial, sans-serif" font-weight="bold" textLength="71.0" lengthAdjust="spacingAndGlyphs" >post MI</text>
<text x="1375.0" y="420.0" font-size="34" font-family="'Liberation Sans', Arial, sans-serif" font-weight="bold" >g</text>
<rect x="1418.0" y="399.0" width="269.0" height="269.0" fill="#060608" />
<rect x="1694.0" y="399.0" width="269.0" height="269.0" fill="#060608" />
<g clip-path="url(#gc1)">
<polygon points="1503.9,436.8 1511.2,429.6 1528.6,422.3 1553.4,413.6 1563.6,407.7 1581.0,401.9 1598.5,406.3 1602.9,420.8 1611.6,432.5 1624.7,447.0 1636.3,451.4 1648.0,460.1 1653.8,480.5 1652.4,509.6 1645.1,530.0 1633.4,544.6 1618.9,556.2 1607.2,566.4 1600.0,588.2 1598.5,617.3 1592.7,634.8 1578.1,646.5 1549.0,649.4 1519.9,646.5 1493.7,642.1 1477.7,629.0 1470.4,613.0 1461.7,588.2 1454.4,551.8 1452.9,515.4 1458.8,489.2 1468.9,468.9 1479.1,457.2 1493.7,451.4 1503.9,447.0" fill="#9c6c5e" filter="url(#gb2)"/>
<g clip-path="url(#gclipA)">
<polygon points="1476.2,471.8 1519.9,460.1 1556.3,464.5 1563.6,515.4 1549.0,559.1 1505.3,566.4 1476.2,544.6" fill="#a87466" opacity="0.8" filter="url(#gb10)"/>
<polygon points="1563.6,442.7 1600.0,442.7 1624.7,447.0 1648.0,460.1 1653.8,480.5 1652.4,509.6 1645.1,530.0 1633.4,544.6 1618.9,556.2 1600.0,551.8 1585.4,537.3 1570.8,515.4 1563.6,486.3 1560.6,457.2" fill="#b07a5e" opacity="0.65" filter="url(#gb10)"/>
<polygon points="1601.4,447.0 1621.8,448.5 1624.7,460.1 1611.6,463.0 1602.9,457.2" fill="#5a2a1c" opacity="0.6" filter="url(#gb6)"/>
<polygon points="1560.6,460.1 1572.3,463.0 1572.3,515.4 1563.6,530.0 1557.7,500.9" fill="#7a4038" opacity="0.4" filter="url(#gb6)"/>
<polygon points="1503.9,436.8 1511.2,429.6 1528.6,422.3 1553.4,415.0 1557.7,435.4 1549.0,447.0 1528.6,449.9 1505.3,448.5" fill="#c4968a" opacity="0.9" filter="url(#gb6)"/>
<polygon points="1553.4,413.6 1563.6,407.7 1581.0,401.9 1598.5,406.3 1602.9,420.8 1600.0,439.8 1578.1,442.7 1560.6,439.8 1554.8,428.1" fill="#d4c0bc" opacity="0.9" filter="url(#gb6)"/>
<polygon points="1470.4,605.7 1487.9,573.7 1534.4,567.9 1578.1,564.9 1607.2,567.9 1600.0,588.2 1598.5,617.3 1592.7,634.8 1578.1,646.5 1549.0,649.4 1519.9,646.5 1493.7,642.1 1477.7,629.0" fill="#b89c9c" opacity="0.9" filter="url(#gb10)"/>
<polygon points="1534.4,548.9 1569.4,548.9 1572.3,569.3 1537.4,570.8" fill="#c8b4b8" opacity="0.8" filter="url(#gb6)"/>
<polygon points="1483.5,631.9 1534.4,637.7 1585.4,626.1 1592.7,640.6 1549.0,649.4 1493.7,645.0" fill="#d0ccd8" opacity="0.7" filter="url(#gb6)"/>
<polyline points="1563.6,588.2 1551.9,610.1 1534.4,639.2" fill="none" stroke="#ddd8e0" stroke-width="2.5" opacity="0.7" filter="url(#gb2)"/>
<polyline points="1560.6,570.8 1591.2,572.9" fill="none" stroke="#4a70c0" stroke-width="3" opacity="0.8" filter="url(#gb2)"/>
<polyline points="1483.5,588.2 1499.5,589.7" fill="none" stroke="#c03040" stroke-width="2.5" opacity="0.6" filter="url(#gb2)"/>
<polygon points="1503.9,436.8 1511.2,429.6 1528.6,422.3 1553.4,413.6 1563.6,407.7 1581.0,401.9 1598.5,406.3 1602.9,420.8 1611.6,432.5 1624.7,447.0 1636.3,451.4 1648.0,460.1 1653.8,480.5 1652.4,509.6 1645.1,530.0 1633.4,544.6 1618.9,556.2 1607.2,566.4 1600.0,588.2 1598.5,617.3 1592.7,634.8 1578.1,646.5 1549.0,649.4 1519.9,646.5 1493.7,642.1 1477.7,629.0 1470.4,613.0 1461.7,588.2 1454.4,551.8 1452.9,515.4 1458.8,489.2 1468.9,468.9 1479.1,457.2 1493.7,451.4 1503.9,447.0" fill="url(#vig)"/>
</g></g>
<line x1="1519.3" y1="514.2" x2="1547.0" y2="505.4" stroke="#f8ec00" stroke-width="5" />
<polygon points="1561.3,500.8 1549.6,513.5 1544.4,497.3" fill="#f8ec00" />
<line x1="1435.4" y1="646.8" x2="1461.3" y2="639.2" stroke="#ffffff" stroke-width="5" />
<polygon points="1475.7,635.0 1463.7,647.4 1458.9,631.1" fill="#ffffff" />
<rect x="1644.0" y="650.5" width="26.0" height="4.0" fill="#fff" />
<text x="1426.0" y="429.0" font-size="21.5" font-family="'Liberation Sans', Arial, sans-serif" font-weight="bold" fill="#fff" textLength="55.0" lengthAdjust="spacingAndGlyphs" >CTRL</text>
<g clip-path="url(#gc2)">
<polygon points="1781.3,442.7 1793.0,425.2 1810.4,422.3 1827.9,426.7 1839.6,436.8 1854.1,447.0 1868.7,436.8 1883.2,433.9 1905.1,441.2 1916.7,454.3 1924.0,468.9 1924.0,486.3 1929.8,503.8 1935.6,522.7 1941.5,532.9 1932.7,544.6 1926.9,566.4 1921.1,588.2 1909.4,605.7 1903.6,620.3 1883.2,626.1 1871.6,639.2 1854.1,646.5 1830.8,643.5 1822.1,631.9 1804.6,617.3 1788.6,595.5 1777.0,566.4 1771.1,530.0 1772.6,493.6 1777.0,471.8" fill="#9a6c60" filter="url(#gb2)"/>
<g clip-path="url(#gclipB)">
<polygon points="1781.3,442.7 1793.0,425.2 1810.4,422.3 1827.9,426.7 1839.6,436.8 1836.6,460.1 1810.4,466.0 1784.2,464.5" fill="#bc9080" opacity="0.85" filter="url(#gb6)"/>
<polygon points="1868.7,436.8 1883.2,433.9 1905.1,441.2 1916.7,454.3 1924.0,468.9 1924.0,486.3 1905.1,489.2 1883.2,471.8 1871.6,454.3" fill="#c09888" opacity="0.85" filter="url(#gb6)"/>
<polygon points="1839.6,551.8 1883.2,537.3 1919.6,530.0 1934.2,544.6 1926.9,566.4 1921.1,588.2 1909.4,605.7 1903.6,620.3 1883.2,626.1 1871.6,639.2 1854.1,646.5 1830.8,643.5 1822.1,631.9 1825.0,588.2" fill="#bc9c98" opacity="0.85" filter="url(#gb10)"/>
<polygon points="1822.1,624.6 1839.6,614.4 1876.0,617.3 1883.2,631.9 1868.7,643.5 1839.6,645.0 1825.0,637.7" fill="#e0d8e0" opacity="0.85" filter="url(#gb6)"/>
<polygon points="1878.9,553.3 1900.7,550.4 1897.8,581.0 1880.3,588.2 1874.5,573.7" fill="#7a3a34" opacity="0.3" filter="url(#gb6)"/>
<polygon points="1912.3,493.6 1932.7,492.2 1935.6,537.3 1912.3,532.9" fill="#4a6ab0" opacity="0.55" filter="url(#gb6)"/>
<polygon points="1781.3,442.7 1793.0,425.2 1810.4,422.3 1827.9,426.7 1839.6,436.8 1854.1,447.0 1868.7,436.8 1883.2,433.9 1905.1,441.2 1916.7,454.3 1924.0,468.9 1924.0,486.3 1929.8,503.8 1935.6,522.7 1941.5,532.9 1932.7,544.6 1926.9,566.4 1921.1,588.2 1909.4,605.7 1903.6,620.3 1883.2,626.1 1871.6,639.2 1854.1,646.5 1830.8,643.5 1822.1,631.9 1804.6,617.3 1788.6,595.5 1777.0,566.4 1771.1,530.0 1772.6,493.6 1777.0,471.8" fill="url(#vig)"/>
</g>
<polyline points="1929.8,495.1 1921.1,527.1" fill="none" stroke="#3a60c0" stroke-width="3" opacity="0.8" filter="url(#gb2)"/>
</g>
<rect x="1920.0" y="650.5" width="25.0" height="4.0" fill="#fff" />
<text x="1702.0" y="429.0" font-size="21.5" font-family="'Liberation Sans', Arial, sans-serif" font-weight="bold" fill="#fff" textLength="51.0" lengthAdjust="spacingAndGlyphs" >DiKO</text>
<text x="28.0" y="681.0" font-size="30" font-family="'Liberation Sans', Arial, sans-serif" font-weight="bold" >h</text>
<text x="159.0" y="675.0" font-size="20.5" font-family="'Liberation Sans', Arial, sans-serif" font-weight="bold" textLength="125.0" lengthAdjust="spacingAndGlyphs" >CTRL LAD-O</text>
<text x="484.0" y="675.0" font-size="20.5" font-family="'Liberation Sans', Arial, sans-serif" font-weight="bold" textLength="122.0" lengthAdjust="spacingAndGlyphs" >DiKO LAD-O</text>
<line x1="70.0" y1="684.0" x2="366.0" y2="684.0" stroke="#000" stroke-width="3.2" />
<line x1="397.0" y1="683.0" x2="693.0" y2="683.0" stroke="#000" stroke-width="3.2" />
<text x="100.0" y="711.0" font-size="20.2" font-family="'Liberation Sans', Arial, sans-serif" font-weight="bold" textLength="81.0" lengthAdjust="spacingAndGlyphs" >Mouse 1</text>
<text x="249.0" y="711.0" font-size="20.5" font-family="'Liberation Sans', Arial, sans-serif" font-weight="bold" textLength="82.0" lengthAdjust="spacingAndGlyphs" >Mouse 2</text>
<text x="420.0" y="709.5" font-size="20.8" font-family="'Liberation Sans', Arial, sans-serif" font-weight="bold" textLength="83.0" lengthAdjust="spacingAndGlyphs" >Mouse 1</text>
<text x="573.0" y="709.5" font-size="20.8" font-family="'Liberation Sans', Arial, sans-serif" font-weight="bold" textLength="83.0" lengthAdjust="spacingAndGlyphs" >Mouse 2</text>
<text x="46.0" y="815.0" font-size="22" font-family="'Liberation Sans', Arial, sans-serif" font-weight="bold" textLength="82.0" lengthAdjust="spacingAndGlyphs" transform="rotate(-90 46.0 815.0)" >Ligature</text>
<text x="46.0" y="1162.0" font-size="22" font-family="'Liberation Sans', Arial, sans-serif" font-weight="bold" textLength="49.0" lengthAdjust="spacingAndGlyphs" transform="rotate(-90 46.0 1162.0)" >Apex</text>
<line x1="42.0" y1="833.0" x2="42.0" y2="1064.0" stroke="#000" stroke-width="3.5" />
<polygon points="23.0,1060.0 42.5,1068.0 62.0,1060.0 42.5,1096.0" fill="#000" />
<rect x="62.0" y="715.0" width="154.5" height="152.0" fill="#f6f6f6" />
<rect x="224.0" y="715.0" width="153.5" height="152.0" fill="#f6f6f6" />
<rect x="388.0" y="715.0" width="153.0" height="152.0" fill="#f4f4f4" />
<rect x="550.5" y="715.0" width="154.5" height="152.0" fill="#eeeeee" />
<rect x="62.0" y="873.5" width="154.5" height="154.5" fill="#f6f6f6" />
<rect x="224.0" y="873.5" width="153.5" height="154.5" fill="#f6f6f6" />
<rect x="388.0" y="873.5" width="153.0" height="154.5" fill="#f4f4f4" />
<rect x="550.5" y="873.5" width="154.5" height="154.5" fill="#efefef" />
<rect x="62.0" y="1033.5" width="154.5" height="157.5" fill="#f5f5f5" />
<rect x="224.0" y="1033.5" width="153.5" height="157.5" fill="#f6f6f6" />
<rect x="388.0" y="1033.5" width="153.0" height="157.5" fill="#f4f4f4" />
<rect x="550.5" y="1033.5" width="154.5" height="157.5" fill="#efefef" />
<polygon points="157.1,743.6 172.3,742.9 187.4,748.9 195.0,760.3 195.0,775.5 188.2,790.6 180.6,783.0 180.6,769.4 170.0,757.3 157.1,749.7" fill="#6a62c0" opacity="0.75" filter="url(#hbl)"/>
<polygon points="195.8,792.5 195.0,800.6 192.8,808.5 189.2,816.1 184.3,823.0 178.1,829.2 170.9,834.5 162.9,838.7 154.1,841.9 145.0,843.8 135.5,844.4 126.1,843.8 116.9,841.9 108.2,838.7 100.1,834.5 92.9,829.2 86.8,823.0 81.9,816.1 78.3,808.5 76.0,800.6 75.3,792.5 76.0,784.4 78.3,776.5 81.9,768.9 86.8,762.0 92.9,755.8 100.1,750.5 108.2,746.3 116.9,743.1 126.1,741.2 135.5,740.6 145.0,741.2 154.1,743.1 162.9,746.3 170.9,750.5 178.1,755.8 184.3,762.0 189.2,768.9 192.8,776.5 195.0,784.4" fill="#98213c" stroke="#7c1028" stroke-width="1" stroke-linejoin="round"/>
<polygon points="195.8,792.5 195.0,800.6 192.8,808.5 189.2,816.1 184.3,823.0 178.1,829.2 170.9,834.5 162.9,838.7 154.1,841.9 145.0,843.8 135.5,844.4 126.1,843.8 116.9,841.9 108.2,838.7 100.1,834.5 92.9,829.2 86.8,823.0 81.9,816.1 78.3,808.5 76.0,800.6 75.3,792.5 76.0,784.4 78.3,776.5 81.9,768.9 86.8,762.0 92.9,755.8 100.1,750.5 108.2,746.3 116.9,743.1 126.1,741.2 135.5,740.6 145.0,741.2 154.1,743.1 162.9,746.3 170.9,750.5 178.1,755.8 184.3,762.0 189.2,768.9 192.8,776.5 195.0,784.4" fill="url(#hstreak)"/>
<polygon points="157.1,743.6 172.3,742.9 187.4,748.9 195.0,760.3 195.0,775.5 188.2,790.6 180.6,783.0 180.6,769.4 170.0,757.3 157.1,749.7" fill="#6a5cc0" opacity="0.55" filter="url(#hbl)"/>
<polygon points="109.4,777.0 112.4,770.9 123.0,766.4 134.4,761.8 144.2,765.6 153.3,769.4 164.7,772.4 176.1,769.4 181.4,773.2 176.1,777.0 164.7,776.2 163.9,781.5 168.5,784.5 177.6,783.0 182.1,783.0 168.5,790.6 160.9,796.7 157.1,797.4 153.3,796.7 145.8,800.5 139.7,805.8 136.7,810.3 130.6,809.5 123.0,802.7 117.0,798.2 110.9,792.1 109.4,784.5" fill="#f6f6f6" stroke-linejoin="round"/>
<circle cx="148.0" cy="805.0" r="8.3" fill="#98213c"/>
<polyline points="106.4,747.4 95.0,758.8 88.2,775.5 89.7,794.4 96.5,809.5 106.4,820.9 119.2,829.2 134.4,832.3 153.3,827.7" fill="none" stroke="#fbf4f6" stroke-width="3" stroke-linecap="round" stroke-linejoin="round"/>
<polygon points="349.7,762.6 358.8,760.3 364.8,769.4 363.3,790.6 355.0,789.1" fill="#6a62c0" opacity="0.75" filter="url(#hbl)"/>
<polygon points="240.6,775.5 245.2,761.8 254.2,752.7 266.4,748.2 279.2,745.9 290.6,745.2 302.0,744.4 313.3,747.4 327.0,749.7 337.6,754.2 347.4,761.8 351.2,772.4 345.2,777.0 336.1,778.5 324.7,777.0 320.9,775.5 313.3,777.0 305.8,778.5 298.2,783.0 290.6,787.6 286.8,790.6 290.6,805.8 294.4,820.9 295.9,836.1 295.9,842.1 287.6,843.6 279.2,840.6 271.7,836.1 261.8,824.7 252.7,809.5 245.2,794.4" fill="#98213c" stroke="#7c1028" stroke-width="1" stroke-linejoin="round"/>
<polygon points="240.6,775.5 245.2,761.8 254.2,752.7 266.4,748.2 279.2,745.9 290.6,745.2 302.0,744.4 313.3,747.4 327.0,749.7 337.6,754.2 347.4,761.8 351.2,772.4 345.2,777.0 336.1,778.5 324.7,777.0 320.9,775.5 313.3,777.0 305.8,778.5 298.2,783.0 290.6,787.6 286.8,790.6 290.6,805.8 294.4,820.9 295.9,836.1 295.9,842.1 287.6,843.6 279.2,840.6 271.7,836.1 261.8,824.7 252.7,809.5 245.2,794.4" fill="url(#hstreak)"/>
<polygon points="349.7,762.6 358.8,760.3 364.8,769.4 363.3,790.6 355.0,789.1" fill="#6a5cc0" opacity="0.55" filter="url(#hbl)"/>
<polyline points="348.2,762.6 355.8,761.8 362.6,769.4 361.1,778.5 358.0,789.8 352.7,802.0 350.5,813.3 342.9,824.7 332.3,834.5 324.7,838.3 313.3,840.6 302.0,842.9 294.4,842.9" fill="none" stroke="#5458c0" stroke-width="3.5" stroke-linejoin="round" stroke-linecap="round"/>
<polyline points="269.4,764.1 260.3,775.5 257.3,790.6 261.8,805.8 269.4,820.9 275.5,830.8" fill="none" stroke="#fbf4f6" stroke-width="3" stroke-linecap="round" stroke-linejoin="round"/>
<polygon points="459.4,743.2 478.3,741.7 493.5,746.2 508.6,756.8 516.2,770.5 514.7,778.0 504.8,776.5 493.5,762.9 478.3,753.8 463.2,749.2" fill="#6a62c0" opacity="0.75" filter="url(#hbl)"/>
<polygon points="407.1,778.0 410.2,764.4 417.7,753.8 429.1,747.0 440.5,743.2 455.6,741.7 470.8,742.4 485.9,743.9 499.5,750.0 508.6,760.6 514.7,770.5 516.2,785.6 515.5,800.8 511.7,812.1 503.3,823.5 493.5,831.8 482.1,837.1 467.0,840.2 451.8,839.4 436.7,834.8 423.8,825.8 413.9,812.1 407.9,797.0" fill="#98213c" stroke="#7c1028" stroke-width="1" stroke-linejoin="round"/>
<polygon points="407.1,778.0 410.2,764.4 417.7,753.8 429.1,747.0 440.5,743.2 455.6,741.7 470.8,742.4 485.9,743.9 499.5,750.0 508.6,760.6 514.7,770.5 516.2,785.6 515.5,800.8 511.7,812.1 503.3,823.5 493.5,831.8 482.1,837.1 467.0,840.2 451.8,839.4 436.7,834.8 423.8,825.8 413.9,812.1 407.9,797.0" fill="url(#hstreak)"/>
<polygon points="459.4,743.2 478.3,741.7 493.5,746.2 508.6,756.8 516.2,770.5 514.7,778.0 504.8,776.5 493.5,762.9 478.3,753.8 463.2,749.2" fill="#6a5cc0" opacity="0.55" filter="url(#hbl)"/>
<polygon points="449.5,787.1 457.1,778.0 461.7,764.4 467.7,767.4 474.5,768.9 482.1,767.4 489.7,767.4 497.3,770.5 493.5,778.0 485.9,780.3 483.6,785.6 481.4,791.7 474.5,797.0 470.8,804.5 467.0,812.1 463.2,800.8 455.6,796.2 449.5,804.5 451.1,797.0" fill="#f4f4f4" stroke-linejoin="round"/>
<circle cx="480.6" cy="775.8" r="6.8" fill="#98213c"/>
<circle cx="461.7" cy="801.5" r="5.3" fill="#98213c"/>
<polyline points="426.8,756.8 420.0,770.5 419.2,785.6 423.0,800.8 429.1,814.4" fill="none" stroke="#fbf4f6" stroke-width="3.5" stroke-linecap="round" stroke-linejoin="round"/>
<polygon points="639.5,731.4 654.7,729.8 669.8,738.9 678.2,754.1 678.2,769.2 669.8,765.5 662.3,750.3 647.1,739.7" fill="#dcdce6" opacity="0.8" filter="url(#hbl)"/>
<polygon points="588.8,762.4 601.7,745.8 613.0,741.2 628.2,739.7 643.3,741.2 654.7,738.2 662.3,741.2 667.6,754.1 667.6,773.0 666.1,795.8 664.5,814.7 658.5,818.5 661.5,795.8 660.8,773.0 654.7,757.9 643.3,750.3 628.2,746.5 613.0,750.3 601.7,759.4 591.8,769.2" fill="#6a62c0" opacity="0.75" filter="url(#hbl)"/>
<polygon points="576.7,803.3 578.2,788.2 582.7,773.0 590.3,759.4 601.7,747.3 613.0,742.0 628.2,740.5 643.3,742.7 654.7,742.0 662.3,746.5 669.8,761.7 675.9,773.0 678.2,788.2 676.7,807.1 669.8,822.3 658.5,832.1 643.3,838.9 628.2,841.2 613.0,839.7 597.9,833.6 585.0,826.1 578.2,814.7" fill="#98213c" stroke="#7c1028" stroke-width="1" stroke-linejoin="round"/>
<polygon points="576.7,803.3 578.2,788.2 582.7,773.0 590.3,759.4 601.7,747.3 613.0,742.0 628.2,740.5 643.3,742.7 654.7,742.0 662.3,746.5 669.8,761.7 675.9,773.0 678.2,788.2 676.7,807.1 669.8,822.3 658.5,832.1 643.3,838.9 628.2,841.2 613.0,839.7 597.9,833.6 585.0,826.1 578.2,814.7" fill="url(#hstreak)"/>
<polygon points="588.8,762.4 601.7,745.8 613.0,741.2 628.2,739.7 643.3,741.2 654.7,738.2 662.3,741.2 667.6,754.1 667.6,773.0 666.1,795.8 664.5,814.7 658.5,818.5 661.5,795.8 660.8,773.0 654.7,757.9 643.3,750.3 628.2,746.5 613.0,750.3 601.7,759.4 591.8,769.2" fill="#6a5cc0" opacity="0.55" filter="url(#hbl)"/>
<polygon points="614.5,782.1 619.1,762.4 626.7,752.6 635.8,751.8 640.3,756.4 628.2,762.4 629.7,769.2 639.5,771.5 650.9,765.5 660.8,767.0 658.5,773.0 650.9,777.6 652.4,782.9 662.3,786.7 658.5,792.0 647.1,790.5 644.8,799.5 650.9,804.8 660.8,804.1 662.3,810.9 657.0,813.2 647.1,810.9 635.8,804.8 624.4,801.8 616.1,794.2" fill="#eeeeee" stroke-linejoin="round"/>
<polyline points="588.8,774.5 584.2,792.0 586.5,810.9 597.9,826.1 613.0,832.1 635.8,835.2" fill="none" stroke="#fbf4f6" stroke-width="3" stroke-linecap="round" stroke-linejoin="round"/>
<polygon points="80.8,942.4 87.6,918.5 101.3,906.5 121.8,899.6 144.1,901.4 142.4,908.2 130.4,913.3 118.4,923.6 111.6,939.0 113.3,950.9 123.6,962.9 133.8,973.2 142.4,968.0 156.0,962.9 161.2,954.4 169.7,950.9 181.7,949.2 195.4,952.7 198.8,956.1 197.1,969.8 188.5,983.4 174.9,993.7 157.8,1000.5 138.9,1002.2 118.4,997.1 99.6,985.1 85.9,968.0" fill="#98213c" stroke="#7c1028" stroke-width="1" stroke-linejoin="round"/>
<polygon points="80.8,942.4 87.6,918.5 101.3,906.5 121.8,899.6 144.1,901.4 142.4,908.2 130.4,913.3 118.4,923.6 111.6,939.0 113.3,950.9 123.6,962.9 133.8,973.2 142.4,968.0 156.0,962.9 161.2,954.4 169.7,950.9 181.7,949.2 195.4,952.7 198.8,956.1 197.1,969.8 188.5,983.4 174.9,993.7 157.8,1000.5 138.9,1002.2 118.4,997.1 99.6,985.1 85.9,968.0" fill="url(#hstreak)"/>
<circle cx="183.4" cy="933.8" r="3.8" fill="#98213c"/>
<circle cx="164.6" cy="956.1" r="6.0" fill="#98213c"/>
<polyline points="142.4,902.2 157.8,904.8 168.0,908.2 181.7,909.9 192.0,915.0 192.0,925.3 198.8,935.6 198.8,945.8 197.1,954.4" fill="none" stroke="#5458c0" stroke-width="3.2" stroke-linejoin="round" stroke-linecap="round"/>
<polyline points="113.3,906.5 96.2,925.3 92.8,950.9 103.0,973.2 118.4,985.1 140.7,990.3" fill="none" stroke="#fbf4f6" stroke-width="2.6" stroke-linecap="round" stroke-linejoin="round"/>
<polygon points="241.5,945.8 248.4,928.7 262.1,918.5 284.3,910.8 304.8,909.9 327.0,913.3 342.4,921.9 349.3,928.7 344.1,933.8 327.0,935.6 309.9,942.4 292.8,949.2 284.3,954.4 282.6,962.9 287.7,976.6 289.4,993.7 284.3,1000.5 279.2,1004.0 270.6,1005.7 258.6,993.7 248.4,976.6 243.3,959.5" fill="#98213c" stroke="#7c1028" stroke-width="1" stroke-linejoin="round"/>
<polygon points="241.5,945.8 248.4,928.7 262.1,918.5 284.3,910.8 304.8,909.9 327.0,913.3 342.4,921.9 349.3,928.7 344.1,933.8 327.0,935.6 309.9,942.4 292.8,949.2 284.3,954.4 282.6,962.9 287.7,976.6 289.4,993.7 284.3,1000.5 279.2,1004.0 270.6,1005.7 258.6,993.7 248.4,976.6 243.3,959.5" fill="url(#hstreak)"/>
<polyline points="342.4,922.7 352.7,928.7 354.4,942.4 349.3,952.7 345.9,966.3 342.4,976.6 335.6,985.1 328.8,992.0 318.5,993.7 308.2,990.3 298.0,993.7 291.1,1000.5 284.3,1001.9 279.2,1004.0" fill="none" stroke="#5458c0" stroke-width="3.2" stroke-linejoin="round" stroke-linecap="round"/>
<polyline points="275.7,918.5 262.1,932.1 258.6,950.9 262.1,969.8 270.6,985.1" fill="none" stroke="#fbf4f6" stroke-width="2.6" stroke-linecap="round" stroke-linejoin="round"/>
<polygon points="445.4,904.8 465.9,902.2 484.8,905.6 500.1,913.3 510.4,923.6 516.4,942.4 512.1,945.8 505.3,932.1 495.0,920.2 481.3,913.3 465.9,910.8 450.6,911.6" fill="#6a62c0" opacity="0.75" filter="url(#hbl)"/>
<polygon points="411.2,939.0 418.1,921.9 431.7,909.9 448.8,903.9 465.9,903.1 483.0,906.5 498.4,913.3 508.7,923.6 515.5,939.0 516.4,954.4 512.1,969.8 501.9,983.4 484.8,995.4 462.5,1000.5 443.7,997.1 426.6,985.1 414.6,966.3" fill="#98213c" stroke="#7c1028" stroke-width="1" stroke-linejoin="round"/>
<polygon points="411.2,939.0 418.1,921.9 431.7,909.9 448.8,903.9 465.9,903.1 483.0,906.5 498.4,913.3 508.7,923.6 515.5,939.0 516.4,954.4 512.1,969.8 501.9,983.4 484.8,995.4 462.5,1000.5 443.7,997.1 426.6,985.1 414.6,966.3" fill="url(#hstreak)"/>
<polygon points="445.4,904.8 465.9,902.2 484.8,905.6 500.1,913.3 510.4,923.6 516.4,942.4 512.1,945.8 505.3,932.1 495.0,920.2 481.3,913.3 465.9,910.8 450.6,911.6" fill="#6a5cc0" opacity="0.55" filter="url(#hbl)"/>
<polygon points="457.4,915.0 484.8,913.3 498.4,921.9 501.9,932.1 491.6,949.2 481.3,959.5 474.5,969.8 464.2,971.5 457.4,962.9 454.0,945.8 455.7,928.7" fill="#f4f4f4" stroke-linejoin="round"/>
<circle cx="483.9" cy="933.8" r="6.0" fill="#98213c"/>
<circle cx="469.4" cy="957.8" r="7.7" fill="#98213c"/>
<circle cx="491.6" cy="942.4" r="3.8" fill="#98213c"/>
<circle cx="484.8" cy="952.7" r="3.1" fill="#98213c"/>
<polyline points="445.4,905.6 465.9,903.1 484.8,906.5 500.1,914.2 510.4,924.4 516.4,942.4" fill="none" stroke="#5458c0" stroke-width="3.2" stroke-linejoin="round" stroke-linecap="round"/>
<polyline points="435.2,913.3 426.6,930.4 424.9,950.9 431.7,969.8 445.4,983.4 460.8,988.6" fill="none" stroke="#fbf4f6" stroke-width="2.6" stroke-linecap="round" stroke-linejoin="round"/>
<polygon points="582.2,945.8 587.4,928.7 597.6,913.3 611.3,906.5 628.4,904.8 642.1,906.5 655.8,911.6 666.0,921.9 672.9,935.6 673.7,952.7 669.4,969.8 659.2,985.1 645.5,995.4 628.4,1000.5 607.9,1000.5 590.8,993.7 582.2,980.0 580.5,962.9" fill="#98213c" stroke="#7c1028" stroke-width="1" stroke-linejoin="round"/>
<polygon points="582.2,945.8 587.4,928.7 597.6,913.3 611.3,906.5 628.4,904.8 642.1,906.5 655.8,911.6 666.0,921.9 672.9,935.6 673.7,952.7 669.4,969.8 659.2,985.1 645.5,995.4 628.4,1000.5 607.9,1000.5 590.8,993.7 582.2,980.0 580.5,962.9" fill="url(#hstreak)"/>
<polygon points="601.0,916.7 616.4,910.8 631.8,911.6 640.4,909.9 652.3,916.7 660.9,928.7 666.0,942.4 664.3,962.9 659.2,976.6 652.3,976.6 640.4,969.8 626.7,962.9 614.7,954.4 607.9,942.4 602.7,928.7" fill="#efefef" stroke-linejoin="round"/>
<circle cx="643.8" cy="920.2" r="3.4" fill="#98213c"/>
<circle cx="652.3" cy="952.7" r="7.7" fill="#98213c"/>
<circle cx="657.5" cy="945.8" r="5.1" fill="#98213c"/>
<circle cx="655.8" cy="939.0" r="3.1" fill="#98213c"/>
<polyline points="583.9,956.1 587.4,932.1 599.3,913.3 611.3,907.3 628.4,905.6 642.1,907.3 655.8,912.5 666.0,923.6 671.1,939.0 669.4,962.9 662.6,976.6 650.6,985.1" fill="none" stroke="#5458c0" stroke-width="3.2" stroke-linejoin="round" stroke-linecap="round"/>
<polyline points="583.9,959.5 589.1,976.6 604.5,990.3 621.6,993.7" fill="none" stroke="#fbf4f6" stroke-width="2.6" stroke-linecap="round" stroke-linejoin="round"/>
<polygon points="82.5,1105.8 87.6,1088.7 99.6,1076.7 113.3,1069.9 127.0,1066.5 128.7,1071.6 123.6,1081.9 116.7,1093.8 111.6,1105.8 120.1,1122.9 127.0,1131.5 133.8,1138.3 140.7,1146.9 152.6,1146.9 164.6,1143.4 171.4,1140.0 168.0,1146.9 157.8,1155.4 140.7,1162.2 123.6,1162.2 104.7,1153.7 91.1,1140.0 84.2,1122.9" fill="#98213c" stroke="#7c1028" stroke-width="1" stroke-linejoin="round"/>
<polygon points="82.5,1105.8 87.6,1088.7 99.6,1076.7 113.3,1069.9 127.0,1066.5 128.7,1071.6 123.6,1081.9 116.7,1093.8 111.6,1105.8 120.1,1122.9 127.0,1131.5 133.8,1138.3 140.7,1146.9 152.6,1146.9 164.6,1143.4 171.4,1140.0 168.0,1146.9 157.8,1155.4 140.7,1162.2 123.6,1162.2 104.7,1153.7 91.1,1140.0 84.2,1122.9" fill="url(#hstreak)"/>
<circle cx="176.6" cy="1122.9" r="3.8" fill="#98213c"/>
<polyline points="127.0,1066.5 135.5,1065.6 142.4,1069.9 156.0,1073.3 171.4,1075.0 176.6,1080.2 178.3,1090.4 185.1,1099.0 192.0,1107.5 192.0,1119.5 185.1,1131.5 178.3,1136.6 168.0,1140.0 154.3,1145.1 140.7,1146.9" fill="none" stroke="#5458c0" stroke-width="3.2" stroke-linejoin="round" stroke-linecap="round"/>
<polyline points="106.5,1075.0 92.8,1090.4 89.4,1110.9 96.2,1129.8 104.7,1143.4 120.1,1150.3" fill="none" stroke="#fbf4f6" stroke-width="2.6" stroke-linecap="round" stroke-linejoin="round"/>
<polygon points="258.6,1102.4 263.8,1088.7 275.7,1080.2 291.1,1075.0 304.8,1075.0 315.1,1078.5 323.6,1083.6 316.8,1088.7 306.5,1097.3 299.7,1107.5 296.3,1116.1 294.6,1124.6 292.8,1136.6 291.1,1146.9 289.4,1157.1 282.6,1157.1 270.6,1150.3 262.1,1136.6 258.6,1119.5" fill="#98213c" stroke="#7c1028" stroke-width="1" stroke-linejoin="round"/>
<polygon points="258.6,1102.4 263.8,1088.7 275.7,1080.2 291.1,1075.0 304.8,1075.0 315.1,1078.5 323.6,1083.6 316.8,1088.7 306.5,1097.3 299.7,1107.5 296.3,1116.1 294.6,1124.6 292.8,1136.6 291.1,1146.9 289.4,1157.1 282.6,1157.1 270.6,1150.3 262.1,1136.6 258.6,1119.5" fill="url(#hstreak)"/>
<polyline points="323.6,1083.6 335.6,1085.3 349.3,1090.4 354.4,1099.0 352.7,1109.2 345.9,1116.1 342.4,1126.3 339.0,1136.6 337.3,1150.3 333.9,1153.7 328.8,1152.0 320.2,1143.4 313.4,1136.6 306.5,1138.3 301.4,1143.4 298.0,1153.7 291.1,1157.1" fill="none" stroke="#5458c0" stroke-width="3.2" stroke-linejoin="round" stroke-linecap="round"/>
<polyline points="280.9,1083.6 274.0,1097.3 272.3,1110.9 275.7,1128.0 284.3,1145.1" fill="none" stroke="#fbf4f6" stroke-width="2.6" stroke-linecap="round" stroke-linejoin="round"/>
<polygon points="304.8,1069.9 325.3,1073.3 345.9,1083.6 342.4,1086.2 321.9,1080.2 303.1,1072.5" fill="#b01c30"/>
<polygon points="417.2,1092.1 423.2,1080.2 433.5,1073.3 442.0,1069.1 450.6,1064.8 460.8,1065.6 469.4,1069.9 474.5,1080.2 481.3,1085.3 488.2,1078.5 495.0,1075.0 503.6,1083.6 510.4,1097.3 513.8,1107.5 512.1,1122.9 503.6,1136.6 488.2,1146.9 467.7,1153.7 452.3,1152.0 435.2,1140.0 423.2,1122.9 418.1,1107.5" fill="#98213c" stroke="#7c1028" stroke-width="1" stroke-linejoin="round"/>
<polygon points="417.2,1092.1 423.2,1080.2 433.5,1073.3 442.0,1069.1 450.6,1064.8 460.8,1065.6 469.4,1069.9 474.5,1080.2 481.3,1085.3 488.2,1078.5 495.0,1075.0 503.6,1083.6 510.4,1097.3 513.8,1107.5 512.1,1122.9 503.6,1136.6 488.2,1146.9 467.7,1153.7 452.3,1152.0 435.2,1140.0 423.2,1122.9 418.1,1107.5" fill="url(#hstreak)"/>
<polygon points="450.6,1069.9 460.8,1068.2 467.7,1073.3 471.1,1085.3 479.6,1090.4 488.2,1085.3 491.6,1090.4 484.8,1095.6 471.1,1093.8 467.7,1102.4 469.4,1110.9 474.5,1121.2 467.7,1119.5 462.5,1109.2 460.8,1099.0 454.0,1085.3" fill="#f4f4f4" stroke-linejoin="round"/>
<polyline points="440.3,1070.3 450.6,1065.1 462.5,1066.0 471.1,1072.0 474.5,1081.9 481.3,1085.3 488.2,1077.1 495.0,1076.2 501.9,1085.3 508.7,1100.7" fill="none" stroke="#5458c0" stroke-width="3.2" stroke-linejoin="round" stroke-linecap="round"/>
<polyline points="436.9,1078.5 428.3,1093.8 428.3,1112.7 435.2,1129.8 447.1,1140.0" fill="none" stroke="#fbf4f6" stroke-width="2.6" stroke-linecap="round" stroke-linejoin="round"/>
<polygon points="589.9,1102.4 594.2,1087.0 604.5,1078.5 618.1,1075.0 626.7,1076.7 628.4,1088.7 631.8,1097.3 635.2,1085.3 635.2,1075.0 645.5,1072.5 657.5,1078.5 666.0,1090.4 670.3,1105.8 667.7,1122.9 660.9,1136.6 648.9,1146.9 631.8,1153.7 611.3,1153.7 597.6,1146.9 590.8,1133.2 589.1,1117.8" fill="#98213c" stroke="#7c1028" stroke-width="1" stroke-linejoin="round"/>
<polygon points="589.9,1102.4 594.2,1087.0 604.5,1078.5 618.1,1075.0 626.7,1076.7 628.4,1088.7 631.8,1097.3 635.2,1085.3 635.2,1075.0 645.5,1072.5 657.5,1078.5 666.0,1090.4 670.3,1105.8 667.7,1122.9 660.9,1136.6 648.9,1146.9 631.8,1153.7 611.3,1153.7 597.6,1146.9 590.8,1133.2 589.1,1117.8" fill="url(#hstreak)"/>
<polygon points="594.2,1102.4 599.3,1088.7 609.6,1081.9 621.6,1080.2 625.0,1092.1 631.8,1100.7 636.9,1093.8 638.7,1078.5 648.9,1076.7 657.5,1085.3 662.6,1099.0 664.3,1114.4 660.9,1129.8 655.8,1138.3 648.9,1136.6 642.1,1129.8 631.8,1122.9 619.8,1116.1 607.9,1110.9 597.6,1109.2" fill="#efefef" stroke-linejoin="round"/>
<polyline points="590.4,1110.9 592.5,1090.4 604.5,1078.8 618.1,1075.4 626.7,1078.8 628.4,1090.4 633.5,1099.0 636.9,1090.4 636.1,1076.7 640.4,1073.7" fill="none" stroke="#5458c0" stroke-width="3.2" stroke-linejoin="round" stroke-linecap="round"/>
<polyline points="595.9,1119.5 601.0,1133.2 611.3,1143.4" fill="none" stroke="#fbf4f6" stroke-width="2.6" stroke-linecap="round" stroke-linejoin="round"/>
<ellipse cx="322" cy="1052" rx="4" ry="2.2" fill="#111"/>
<rect x="182.0" y="852.6" width="27.0" height="4.0" fill="#000" />
<rect x="342.0" y="852.6" width="27.0" height="4.0" fill="#000" />
<rect x="502.0" y="852.0" width="27.0" height="4.0" fill="#000" />
<rect x="669.0" y="852.0" width="28.0" height="4.0" fill="#000" />
<rect x="181.0" y="1010.5" width="27.0" height="4.0" fill="#000" />
<rect x="341.0" y="1010.5" width="28.0" height="4.0" fill="#000" />
<rect x="505.0" y="1007.6" width="26.0" height="4.0" fill="#000" />
<rect x="668.5" y="1007.6" width="28.5" height="4.0" fill="#000" />
<rect x="182.0" y="1168.8" width="27.5" height="4.0" fill="#000" />
<rect x="345.0" y="1168.7" width="28.0" height="4.0" fill="#000" />
<rect x="505.0" y="1168.8" width="27.6" height="4.0" fill="#000" />
<rect x="672.0" y="1168.8" width="26.5" height="4.0" fill="#000" />
<text x="321.0" y="290.5" font-size="32" font-family="'Liberation Sans', Arial, sans-serif" font-weight="bold" >c</text>
<rect x="464.0" y="431.0" width="55.0" height="160.0" fill="#559ffa" stroke="#1428c8" stroke-width="2.5" />
<rect x="531.0" y="492.6" width="55.0" height="98.4" fill="#fa8080" stroke="#e02828" stroke-width="2.5" />
<rect x="430.0" y="273.0" width="190.0" height="318.0" fill="none" stroke="#000" stroke-width="2" />
<line x1="430.0" y1="351.0" x2="436.0" y2="351.0" stroke="#000" stroke-width="2" />
<line x1="430.0" y1="431.0" x2="436.0" y2="431.0" stroke="#000" stroke-width="2" />
<line x1="430.0" y1="511.0" x2="436.0" y2="511.0" stroke="#000" stroke-width="2" />
<text x="426.0" y="357.6" font-size="19" font-family="'Liberation Sans', Arial, sans-serif" font-weight="bold" text-anchor="end" >1.5</text>
<text x="426.0" y="437.6" font-size="19" font-family="'Liberation Sans', Arial, sans-serif" font-weight="bold" text-anchor="end" >1.0</text>
<text x="426.0" y="517.6" font-size="19" font-family="'Liberation Sans', Arial, sans-serif" font-weight="bold" text-anchor="end" >0.5</text>
<text x="380.0" y="596.0" font-size="23.2" font-family="'Liberation Sans', Arial, sans-serif" textLength="214.0" lengthAdjust="spacingAndGlyphs" transform="rotate(-90 380.0 596.0)" stroke="#000" stroke-width="0.55">Densitometry of p21/</text>
<text x="380.0" y="362.5" font-size="22" font-family="'Liberation Sans', Arial, sans-serif" textLength="94.5" lengthAdjust="spacingAndGlyphs" stroke="#000" stroke-width="0.55" transform="rotate(-90 380.0 362.5)"><tspan font-family="'Liberation Serif', 'Times New Roman', serif" font-style="italic">α</tspan>-tubulin</text>
<polygon points="454.0,289.1 458.5,297.2 449.5,297.2" fill="#1717d0"/>
<text x="477.0" y="301.0" font-size="19.5" font-family="'Liberation Sans', Arial, sans-serif" textLength="49.0" lengthAdjust="spacingAndGlyphs" >CTRL</text>
<rect x="541.5" y="289.5" width="9.0" height="9.0" fill="#e81c1c"/>
<text x="570.0" y="301.0" font-size="19.5" font-family="'Liberation Sans', Arial, sans-serif" textLength="40.0" lengthAdjust="spacingAndGlyphs" >DKO</text>
<text x="484.0" y="335.5" font-size="21.1" font-family="'Liberation Sans', Arial, sans-serif" textLength="77.0" lengthAdjust="spacingAndGlyphs" >p=0.047</text>
<polyline points="490.0,355.0 490.0,345.0 559.0,345.0 559.0,357.0" fill="none" stroke="#000" stroke-width="2" />
<text x="525.0" y="372.0" font-size="28" font-family="'Liberation Sans', Arial, sans-serif" text-anchor="middle" >*</text>
<line x1="491.0" y1="407.0" x2="491.0" y2="455.0" stroke="#1428c8" stroke-width="2" />
<line x1="484.0" y1="407.0" x2="498.0" y2="407.0" stroke="#1428c8" stroke-width="2" />
<line x1="484.0" y1="455.0" x2="498.0" y2="455.0" stroke="#1428c8" stroke-width="2" />
<polygon points="491.0,362.4 495.2,370.1 486.8,370.1" fill="#1717d0"/>
<polygon points="491.0,428.0 495.2,435.7 486.8,435.7" fill="#1717d0"/>
<polygon points="491.0,447.2 495.2,454.9 486.8,454.9" fill="#1717d0"/>
<polygon points="491.0,474.4 495.2,482.1 486.8,482.1" fill="#1717d0"/>
<line x1="558.0" y1="483.8" x2="558.0" y2="499.8" stroke="#e02828" stroke-width="2" />
<line x1="551.0" y1="483.8" x2="565.0" y2="483.8" stroke="#e02828" stroke-width="2" />
<line x1="551.0" y1="499.8" x2="565.0" y2="499.8" stroke="#e02828" stroke-width="2" />
<rect x="554.2" y="472.1" width="7.5" height="7.5" fill="#e81c1c"/>
<rect x="554.2" y="489.6" width="7.5" height="7.5" fill="#e81c1c"/>
<rect x="558.2" y="492.9" width="7.5" height="7.5" fill="#e81c1c"/>
<rect x="554.2" y="504.1" width="7.5" height="7.5" fill="#e81c1c"/>
<rect x="744.0" y="430.0" width="56.0" height="159.0" fill="#559ffa" stroke="#1428c8" stroke-width="2.5" />
<rect x="810.0" y="462.8" width="56.0" height="126.2" fill="#fa8080" stroke="#e02828" stroke-width="2.5" />
<rect x="710.0" y="270.0" width="190.0" height="319.0" fill="none" stroke="#000" stroke-width="2" />
<line x1="710.0" y1="350.0" x2="716.0" y2="350.0" stroke="#000" stroke-width="2" />
<line x1="710.0" y1="430.0" x2="716.0" y2="430.0" stroke="#000" stroke-width="2" />
<line x1="710.0" y1="510.0" x2="716.0" y2="510.0" stroke="#000" stroke-width="2" />
<text x="706.0" y="356.6" font-size="19" font-family="'Liberation Sans', Arial, sans-serif" font-weight="bold" text-anchor="end" >1.5</text>
<text x="706.0" y="436.6" font-size="19" font-family="'Liberation Sans', Arial, sans-serif" font-weight="bold" text-anchor="end" >1.0</text>
<text x="706.0" y="516.6" font-size="19" font-family="'Liberation Sans', Arial, sans-serif" font-weight="bold" text-anchor="end" >0.5</text>
<text x="659.0" y="595.0" font-size="23.5" font-family="'Liberation Sans', Arial, sans-serif" textLength="217.0" lengthAdjust="spacingAndGlyphs" transform="rotate(-90 659.0 595.0)" stroke="#000" stroke-width="0.55">Densitometry of p15/</text>
<text x="659.0" y="359.0" font-size="22" font-family="'Liberation Sans', Arial, sans-serif" textLength="95.0" lengthAdjust="spacingAndGlyphs" stroke="#000" stroke-width="0.55" transform="rotate(-90 659.0 359.0)"><tspan font-family="'Liberation Serif', 'Times New Roman', serif" font-style="italic">α</tspan>-tubulin</text>
<polygon points="736.0,286.6 740.5,294.7 731.5,294.7" fill="#1717d0"/>
<text x="758.0" y="298.5" font-size="19.5" font-family="'Liberation Sans', Arial, sans-serif" textLength="50.0" lengthAdjust="spacingAndGlyphs" >CTRL</text>
<rect x="821.5" y="287.0" width="9.0" height="9.0" fill="#e81c1c"/>
<text x="849.0" y="298.5" font-size="19.5" font-family="'Liberation Sans', Arial, sans-serif" textLength="40.0" lengthAdjust="spacingAndGlyphs" >DKO</text>
<text x="767.0" y="359.5" font-size="21.7" font-family="'Liberation Sans', Arial, sans-serif" textLength="79.0" lengthAdjust="spacingAndGlyphs" >p=0.032</text>
<polyline points="772.0,396.0 772.0,386.0 839.0,386.0 839.0,398.0" fill="none" stroke="#000" stroke-width="2" />
<text x="805.0" y="389.4" font-size="28" font-family="'Liberation Sans', Arial, sans-serif" text-anchor="middle" >*</text>
<line x1="772.0" y1="420.4" x2="772.0" y2="439.6" stroke="#1428c8" stroke-width="2" />
<line x1="765.0" y1="420.4" x2="779.0" y2="420.4" stroke="#1428c8" stroke-width="2" />
<line x1="765.0" y1="439.6" x2="779.0" y2="439.6" stroke="#1428c8" stroke-width="2" />
<polygon points="772.0,401.4 776.2,409.1 767.8,409.1" fill="#1717d0"/>
<polygon points="772.0,420.6 776.2,428.3 767.8,428.3" fill="#1717d0"/>
<polygon points="768.0,439.0 772.2,446.7 763.8,446.7" fill="#1717d0"/>
<polygon points="776.0,439.0 780.2,446.7 771.8,446.7" fill="#1717d0"/>
<line x1="839.0" y1="455.6" x2="839.0" y2="468.4" stroke="#e02828" stroke-width="2" />
<line x1="832.0" y1="455.6" x2="846.0" y2="455.6" stroke="#e02828" stroke-width="2" />
<line x1="832.0" y1="468.4" x2="846.0" y2="468.4" stroke="#e02828" stroke-width="2" />
<rect x="835.2" y="437.4" width="7.5" height="7.5" fill="#e81c1c"/>
<rect x="835.2" y="459.9" width="7.5" height="7.5" fill="#e81c1c"/>
<rect x="832.2" y="464.6" width="7.5" height="7.5" fill="#e81c1c"/>
<rect x="839.2" y="469.4" width="7.5" height="7.5" fill="#e81c1c"/>
<text x="1038.0" y="308.7" font-size="33" font-family="'Liberation Sans', Arial, sans-serif" font-weight="bold" >d</text>
<rect x="1113.0" y="462.0" width="56.0" height="153.0" fill="#559ffa" stroke="#1428c8" stroke-width="2.5" />
<rect x="1181.0" y="497.2" width="57.0" height="117.8" fill="#fa8080" stroke="#e02828" stroke-width="2.5" />
<rect x="1078.0" y="286.0" width="196.0" height="329.0" fill="none" stroke="#000" stroke-width="2" />
<line x1="1078.0" y1="396.0" x2="1084.0" y2="396.0" stroke="#000" stroke-width="2" />
<line x1="1078.0" y1="506.0" x2="1084.0" y2="506.0" stroke="#000" stroke-width="2" />
<text x="1075.0" y="402.8" font-size="19.5" font-family="'Liberation Sans', Arial, sans-serif" font-weight="bold" text-anchor="end" >10</text>
<text x="1075.0" y="512.8" font-size="19.5" font-family="'Liberation Sans', Arial, sans-serif" font-weight="bold" text-anchor="end" >5</text>
<text x="1036.5" y="538.0" font-size="22.8" font-family="'Liberation Sans', Arial, sans-serif" textLength="152.0" lengthAdjust="spacingAndGlyphs" transform="rotate(-90 1036.5 538.0)" stroke="#000" stroke-width="0.55">HW/ BW (mg g</text>
<text x="1025.5" y="377.5" font-size="14.5" font-family="'Liberation Sans', Arial, sans-serif" stroke="#000" stroke-width="0.4" transform="rotate(-90 1025.5 377.5)">-1</text>
<text x="1036.5" y="364" font-size="22" font-family="'Liberation Sans', Arial, sans-serif" stroke="#000" stroke-width="0.55" transform="rotate(-90 1036.5 364)">)</text>
<polygon points="1097.0,301.6 1101.5,309.7 1092.5,309.7" fill="#1717d0"/>
<text x="1121.0" y="313.5" font-size="20" font-family="'Liberation Sans', Arial, sans-serif" textLength="51.0" lengthAdjust="spacingAndGlyphs" >CTRL</text>
<rect x="1184.5" y="302.0" width="9.0" height="9.0" fill="#e81c1c"/>
<text x="1213.0" y="313.5" font-size="20" font-family="'Liberation Sans', Arial, sans-serif" textLength="47.0" lengthAdjust="spacingAndGlyphs" >DiKO</text>
<text x="1137.0" y="353.0" font-size="20.8" font-family="'Liberation Sans', Arial, sans-serif" textLength="78.0" lengthAdjust="spacingAndGlyphs" >P=0.012</text>
<polyline points="1140.0,385.0 1140.0,377.0 1210.0,377.0 1210.0,390.0" fill="none" stroke="#000" stroke-width="2" />
<text x="1175.0" y="381.7" font-size="28" font-family="'Liberation Sans', Arial, sans-serif" text-anchor="middle" >*</text>
<line x1="1141.0" y1="448.8" x2="1141.0" y2="470.8" stroke="#1428c8" stroke-width="2" />
<line x1="1134.0" y1="448.8" x2="1148.0" y2="448.8" stroke="#1428c8" stroke-width="2" />
<line x1="1134.0" y1="470.8" x2="1148.0" y2="470.8" stroke="#1428c8" stroke-width="2" />
<polygon points="1140.7,390.7 1144.9,398.3 1136.4,398.3" fill="#1717d0"/>
<polygon points="1141.1,411.7 1145.4,419.3 1136.9,419.3" fill="#1717d0"/>
<polygon points="1141.1,427.5 1145.4,435.1 1136.9,435.1" fill="#1717d0"/>
<polygon points="1140.7,444.8 1144.9,452.5 1136.4,452.5" fill="#1717d0"/>
<polygon points="1133.1,448.1 1137.4,455.7 1128.9,455.7" fill="#1717d0"/>
<polygon points="1140.7,448.1 1144.9,455.7 1136.4,455.7" fill="#1717d0"/>
<polygon points="1148.9,455.6 1153.2,463.3 1144.7,463.3" fill="#1717d0"/>
<polygon points="1140.7,464.3 1144.9,471.9 1136.4,471.9" fill="#1717d0"/>
<polygon points="1136.4,475.1 1140.6,482.8 1132.1,482.8" fill="#1717d0"/>
<polygon points="1144.6,475.1 1148.8,482.8 1140.3,482.8" fill="#1717d0"/>
<polygon points="1140.7,491.3 1144.9,499.0 1136.4,499.0" fill="#1717d0"/>
<polygon points="1136.4,501.1 1140.6,508.7 1132.1,508.7" fill="#1717d0"/>
<polygon points="1145.0,506.5 1149.3,514.1 1140.8,514.1" fill="#1717d0"/>
<line x1="1209.0" y1="491.7" x2="1209.0" y2="501.6" stroke="#e02828" stroke-width="2" />
<line x1="1202.0" y1="491.7" x2="1216.0" y2="491.7" stroke="#e02828" stroke-width="2" />
<line x1="1202.0" y1="501.6" x2="1216.0" y2="501.6" stroke="#e02828" stroke-width="2" />
<rect x="1206.2" y="465.1" width="7.5" height="7.5" fill="#e81c1c"/>
<rect x="1184.1" y="496.5" width="7.5" height="7.5" fill="#e81c1c"/>
<rect x="1191.1" y="494.3" width="7.5" height="7.5" fill="#e81c1c"/>
<rect x="1198.6" y="497.6" width="7.5" height="7.5" fill="#e81c1c"/>
<rect x="1206.2" y="493.3" width="7.5" height="7.5" fill="#e81c1c"/>
<rect x="1212.7" y="498.7" width="7.5" height="7.5" fill="#e81c1c"/>
<rect x="1220.3" y="491.1" width="7.5" height="7.5" fill="#e81c1c"/>
<rect x="1227.4" y="505.2" width="7.5" height="7.5" fill="#e81c1c"/>
<text x="1293.0" y="22.7" font-size="34" font-family="'Liberation Sans', Arial, sans-serif" font-weight="bold" >e</text>
<rect x="1357.0" y="209.0" width="42.0" height="96.0" fill="#559ffa" stroke="#1428c8" stroke-width="2.5" />
<rect x="1408.0" y="196.1" width="42.0" height="108.9" fill="#fa8080" stroke="#e02828" stroke-width="2.5" />
<rect x="1510.0" y="124.8" width="41.0" height="180.2" fill="#559ffa" stroke="#1428c8" stroke-width="2.5" />
<rect x="1560.0" y="160.5" width="42.0" height="144.5" fill="#fa8080" stroke="#e02828" stroke-width="2.5" />
<rect x="1332.0" y="9.0" width="297.0" height="296.0" fill="none" stroke="#000" stroke-width="2" />
<line x1="1332.0" y1="107.0" x2="1338.0" y2="107.0" stroke="#000" stroke-width="2" />
<line x1="1332.0" y1="206.0" x2="1338.0" y2="206.0" stroke="#000" stroke-width="2" />
<text x="1328.0" y="113.3" font-size="18" font-family="'Liberation Sans', Arial, sans-serif" font-weight="bold" text-anchor="end" >200</text>
<text x="1328.0" y="212.3" font-size="18" font-family="'Liberation Sans', Arial, sans-serif" font-weight="bold" text-anchor="end" >100</text>
<text x="1283.0" y="245.0" font-size="21.9" font-family="'Liberation Sans', Arial, sans-serif" textLength="174.0" lengthAdjust="spacingAndGlyphs" transform="rotate(-90 1283.0 245.0)" stroke="#000" stroke-width="0.55">Heart weight (mg)</text>
<polygon points="1378.0,192.9 1381.8,199.7 1374.2,199.7" fill="none" stroke="#1717d0" stroke-width="1.8"/>
<polygon points="1362.6,203.8 1366.3,210.5 1358.8,210.5" fill="none" stroke="#1717d0" stroke-width="1.8"/>
<polygon points="1373.0,200.4 1376.8,207.2 1369.2,207.2" fill="none" stroke="#1717d0" stroke-width="1.8"/>
<polygon points="1383.7,198.9 1387.5,205.7 1380.0,205.7" fill="none" stroke="#1717d0" stroke-width="1.8"/>
<polygon points="1394.0,201.9 1397.8,208.7 1390.2,208.7" fill="none" stroke="#1717d0" stroke-width="1.8"/>
<polygon points="1362.0,208.6 1365.8,215.4 1358.2,215.4" fill="none" stroke="#1717d0" stroke-width="1.8"/>
<polygon points="1372.0,209.9 1375.8,216.7 1368.2,216.7" fill="none" stroke="#1717d0" stroke-width="1.8"/>
<polygon points="1383.7,216.8 1387.5,223.5 1380.0,223.5" fill="none" stroke="#1717d0" stroke-width="1.8"/>
<polygon points="1394.0,217.9 1397.8,224.7 1390.2,224.7" fill="none" stroke="#1717d0" stroke-width="1.8"/>
<line x1="1378.0" y1="205.0" x2="1378.0" y2="212.9" stroke="#1428c8" stroke-width="2" />
<line x1="1372.0" y1="205.0" x2="1384.0" y2="205.0" stroke="#1428c8" stroke-width="2" />
<line x1="1372.0" y1="212.9" x2="1384.0" y2="212.9" stroke="#1428c8" stroke-width="2" />
<rect x="1418.5" y="157.4" width="6.5" height="6.5" fill="none" stroke="#e81c1c" stroke-width="1.8"/>
<rect x="1432.8" y="162.8" width="6.5" height="6.5" fill="none" stroke="#e81c1c" stroke-width="1.8"/>
<rect x="1432.8" y="170.4" width="6.5" height="6.5" fill="none" stroke="#e81c1c" stroke-width="1.8"/>
<rect x="1418.5" y="175.3" width="6.5" height="6.5" fill="none" stroke="#e81c1c" stroke-width="1.8"/>
<rect x="1410.8" y="206.2" width="6.5" height="6.5" fill="none" stroke="#e81c1c" stroke-width="1.8"/>
<rect x="1425.8" y="209.4" width="6.5" height="6.5" fill="none" stroke="#e81c1c" stroke-width="1.8"/>
<rect x="1439.8" y="213.7" width="6.5" height="6.5" fill="none" stroke="#e81c1c" stroke-width="1.8"/>
<rect x="1418.5" y="218.6" width="6.5" height="6.5" fill="none" stroke="#e81c1c" stroke-width="1.8"/>
<rect x="1432.8" y="223.8" width="6.5" height="6.5" fill="none" stroke="#e81c1c" stroke-width="1.8"/>
<line x1="1429.0" y1="188.0" x2="1429.0" y2="204.5" stroke="#e02828" stroke-width="2" />
<line x1="1423.0" y1="188.0" x2="1435.0" y2="188.0" stroke="#e02828" stroke-width="2" />
<line x1="1423.0" y1="204.5" x2="1435.0" y2="204.5" stroke="#e02828" stroke-width="2" />
<polygon points="1537.5,74.4 1541.8,82.1 1533.2,82.1" fill="#1717d0"/>
<polygon points="1523.5,81.4 1527.8,89.1 1519.2,89.1" fill="#1717d0"/>
<polygon points="1516.0,100.4 1520.2,108.1 1511.8,108.1" fill="#1717d0"/>
<polygon points="1530.7,97.4 1535.0,105.1 1526.5,105.1" fill="#1717d0"/>
<polygon points="1544.7,107.4 1549.0,115.1 1540.5,115.1" fill="#1717d0"/>
<polygon points="1530.7,107.4 1535.0,115.1 1526.5,115.1" fill="#1717d0"/>
<polygon points="1523.5,124.1 1527.8,131.8 1519.2,131.8" fill="#1717d0"/>
<polygon points="1537.5,129.0 1541.8,136.7 1533.2,136.7" fill="#1717d0"/>
<polygon points="1530.7,152.4 1535.0,160.1 1526.5,160.1" fill="#1717d0"/>
<polygon points="1523.5,173.9 1527.8,181.6 1519.2,181.6" fill="#1717d0"/>
<polygon points="1537.5,177.8 1541.8,185.5 1533.2,185.5" fill="#1717d0"/>
<line x1="1530.0" y1="114.0" x2="1530.0" y2="134.0" stroke="#1428c8" stroke-width="2" />
<line x1="1524.0" y1="114.0" x2="1536.0" y2="114.0" stroke="#1428c8" stroke-width="2" />
<line x1="1524.0" y1="134.0" x2="1536.0" y2="134.0" stroke="#1428c8" stroke-width="2" />
<rect x="1577.2" y="98.8" width="7.5" height="7.5" fill="#e81c1c"/>
<rect x="1577.2" y="125.8" width="7.5" height="7.5" fill="#e81c1c"/>
<rect x="1577.2" y="141.8" width="7.5" height="7.5" fill="#e81c1c"/>
<rect x="1563.8" y="173.2" width="7.5" height="7.5" fill="#e81c1c"/>
<rect x="1577.2" y="180.2" width="7.5" height="7.5" fill="#e81c1c"/>
<rect x="1591.2" y="180.9" width="7.5" height="7.5" fill="#e81c1c"/>
<rect x="1577.2" y="190.8" width="7.5" height="7.5" fill="#e81c1c"/>
<line x1="1581.0" y1="149.0" x2="1581.0" y2="171.0" stroke="#e02828" stroke-width="2" />
<line x1="1575.0" y1="149.0" x2="1587.0" y2="149.0" stroke="#e02828" stroke-width="2" />
<line x1="1575.0" y1="171.0" x2="1587.0" y2="171.0" stroke="#e02828" stroke-width="2" />
<text x="1519.0" y="37.0" font-size="21.1" font-family="'Liberation Sans', Arial, sans-serif" textLength="65.0" lengthAdjust="spacingAndGlyphs" >p=0.02</text>
<text x="1557.0" y="65.0" font-size="28" font-family="'Liberation Sans', Arial, sans-serif" text-anchor="middle" >*</text>
<polyline points="1530.0,72.0 1530.0,60.0 1582.0,60.0 1582.0,72.0" fill="none" stroke="#000" stroke-width="2" />
<text x="1355.0" y="332.0" font-size="17.5" font-family="'Liberation Sans', Arial, sans-serif" font-weight="bold" textLength="95.0" lengthAdjust="spacingAndGlyphs" >CTRL DiKO</text>
<line x1="1354.0" y1="342.0" x2="1449.0" y2="342.0" stroke="#000" stroke-width="2" />
<text x="1375.0" y="366.0" font-size="20.6" font-family="'Liberation Sans', Arial, sans-serif" font-weight="bold" textLength="56.0" lengthAdjust="spacingAndGlyphs" >Sham</text>
<text x="1508.0" y="332.0" font-size="17.5" font-family="'Liberation Sans', Arial, sans-serif" font-weight="bold" textLength="95.0" lengthAdjust="spacingAndGlyphs" >CTRL DiKO</text>
<line x1="1508.0" y1="343.0" x2="1602.0" y2="343.0" stroke="#000" stroke-width="2" />
<text x="1546.0" y="367.5" font-size="19" font-family="'Liberation Sans', Arial, sans-serif" font-weight="bold" textLength="23.0" lengthAdjust="spacingAndGlyphs" >MI</text>
<text x="1698.0" y="23.0" font-size="34" font-family="'Liberation Sans', Arial, sans-serif" font-weight="bold" >f</text>
<rect x="1756.0" y="200.1" width="42.0" height="103.9" fill="#559ffa" stroke="#1428c8" stroke-width="2.5" />
<rect x="1807.0" y="181.2" width="42.0" height="122.8" fill="#fa8080" stroke="#e02828" stroke-width="2.5" />
<rect x="1909.0" y="170.3" width="41.0" height="133.7" fill="#559ffa" stroke="#1428c8" stroke-width="2.5" />
<rect x="1959.0" y="168.9" width="42.0" height="135.1" fill="#fa8080" stroke="#e02828" stroke-width="2.5" />
<rect x="1730.0" y="7.0" width="297.0" height="297.0" fill="none" stroke="#000" stroke-width="2" />
<line x1="1730.0" y1="106.0" x2="1736.0" y2="106.0" stroke="#000" stroke-width="2" />
<line x1="1730.0" y1="205.0" x2="1736.0" y2="205.0" stroke="#000" stroke-width="2" />
<text x="1728.0" y="112.3" font-size="18" font-family="'Liberation Sans', Arial, sans-serif" font-weight="bold" text-anchor="end" >40</text>
<text x="1728.0" y="211.3" font-size="18" font-family="'Liberation Sans', Arial, sans-serif" font-weight="bold" text-anchor="end" >20</text>
<text x="1693.0" y="241.0" font-size="21.7" font-family="'Liberation Sans', Arial, sans-serif" textLength="169.0" lengthAdjust="spacingAndGlyphs" transform="rotate(-90 1693.0 241.0)" stroke="#000" stroke-width="0.55">Body weight (mg)</text>
<polygon points="1766.0,183.9 1769.8,190.7 1762.2,190.7" fill="none" stroke="#1717d0" stroke-width="1.8"/>
<polygon points="1777.6,187.9 1781.3,194.7 1773.8,194.7" fill="none" stroke="#1717d0" stroke-width="1.8"/>
<polygon points="1787.4,191.3 1791.2,198.1 1783.7,198.1" fill="none" stroke="#1717d0" stroke-width="1.8"/>
<polygon points="1792.0,192.9 1795.8,199.7 1788.2,199.7" fill="none" stroke="#1717d0" stroke-width="1.8"/>
<polygon points="1759.7,199.5 1763.5,206.3 1756.0,206.3" fill="none" stroke="#1717d0" stroke-width="1.8"/>
<polygon points="1771.0,200.5 1774.8,207.3 1767.2,207.3" fill="none" stroke="#1717d0" stroke-width="1.8"/>
<polygon points="1777.6,201.9 1781.3,208.7 1773.8,208.7" fill="none" stroke="#1717d0" stroke-width="1.8"/>
<polygon points="1782.5,208.9 1786.2,215.7 1778.8,215.7" fill="none" stroke="#1717d0" stroke-width="1.8"/>
<polygon points="1772.0,203.9 1775.8,210.7 1768.2,210.7" fill="none" stroke="#1717d0" stroke-width="1.8"/>
<line x1="1777.0" y1="197.0" x2="1777.0" y2="204.0" stroke="#1428c8" stroke-width="2" />
<line x1="1771.0" y1="197.0" x2="1783.0" y2="197.0" stroke="#1428c8" stroke-width="2" />
<line x1="1771.0" y1="204.0" x2="1783.0" y2="204.0" stroke="#1428c8" stroke-width="2" />
<rect x="1824.8" y="141.8" width="6.5" height="6.5" fill="none" stroke="#e81c1c" stroke-width="1.8"/>
<rect x="1818.8" y="147.2" width="6.5" height="6.5" fill="none" stroke="#e81c1c" stroke-width="1.8"/>
<rect x="1829.8" y="151.4" width="6.5" height="6.5" fill="none" stroke="#e81c1c" stroke-width="1.8"/>
<rect x="1829.8" y="175.8" width="6.5" height="6.5" fill="none" stroke="#e81c1c" stroke-width="1.8"/>
<rect x="1819.8" y="182.4" width="6.5" height="6.5" fill="none" stroke="#e81c1c" stroke-width="1.8"/>
<rect x="1807.8" y="193.8" width="6.5" height="6.5" fill="none" stroke="#e81c1c" stroke-width="1.8"/>
<rect x="1818.8" y="200.8" width="6.5" height="6.5" fill="none" stroke="#e81c1c" stroke-width="1.8"/>
<rect x="1829.8" y="200.8" width="6.5" height="6.5" fill="none" stroke="#e81c1c" stroke-width="1.8"/>
<rect x="1840.5" y="201.8" width="6.5" height="6.5" fill="none" stroke="#e81c1c" stroke-width="1.8"/>
<line x1="1828.0" y1="172.6" x2="1828.0" y2="188.0" stroke="#e02828" stroke-width="2" />
<line x1="1822.0" y1="172.6" x2="1834.0" y2="172.6" stroke="#e02828" stroke-width="2" />
<line x1="1822.0" y1="188.0" x2="1834.0" y2="188.0" stroke="#e02828" stroke-width="2" />
<polygon points="1929.0,85.0 1933.2,92.7 1924.8,92.7" fill="#1717d0"/>
<polygon points="1922.0,120.8 1926.2,128.5 1917.8,128.5" fill="#1717d0"/>
<polygon points="1936.0,120.8 1940.2,128.5 1931.8,128.5" fill="#1717d0"/>
<polygon points="1929.0,150.1 1933.2,157.8 1924.8,157.8" fill="#1717d0"/>
<polygon points="1929.0,159.9 1933.2,167.6 1924.8,167.6" fill="#1717d0"/>
<polygon points="1929.0,171.4 1933.2,179.1 1924.8,179.1" fill="#1717d0"/>
<polygon points="1914.0,176.2 1918.2,183.9 1909.8,183.9" fill="#1717d0"/>
<polygon points="1943.7,176.2 1948.0,183.9 1939.5,183.9" fill="#1717d0"/>
<polygon points="1922.0,190.8 1926.2,198.5 1917.8,198.5" fill="#1717d0"/>
<polygon points="1936.0,194.1 1940.2,201.8 1931.8,201.8" fill="#1717d0"/>
<polygon points="1914.0,199.0 1918.2,206.7 1909.8,206.7" fill="#1717d0"/>
<polygon points="1929.0,200.0 1933.2,207.7 1924.8,207.7" fill="#1717d0"/>
<polygon points="1943.7,203.9 1948.0,211.6 1939.5,211.6" fill="#1717d0"/>
<line x1="1929.0" y1="159.6" x2="1929.0" y2="177.5" stroke="#1428c8" stroke-width="2" />
<line x1="1923.0" y1="159.6" x2="1935.0" y2="159.6" stroke="#1428c8" stroke-width="2" />
<line x1="1923.0" y1="177.5" x2="1935.0" y2="177.5" stroke="#1428c8" stroke-width="2" />
<rect x="1972.2" y="115.2" width="7.5" height="7.5" fill="#e81c1c"/>
<rect x="1979.2" y="119.2" width="7.5" height="7.5" fill="#e81c1c"/>
<rect x="1976.8" y="147.8" width="7.5" height="7.5" fill="#e81c1c"/>
<rect x="1976.8" y="174.8" width="7.5" height="7.5" fill="#e81c1c"/>
<rect x="1972.2" y="185.8" width="7.5" height="7.5" fill="#e81c1c"/>
<rect x="1979.2" y="188.2" width="7.5" height="7.5" fill="#e81c1c"/>
<rect x="1972.2" y="191.7" width="7.5" height="7.5" fill="#e81c1c"/>
<rect x="1979.2" y="195.6" width="7.5" height="7.5" fill="#e81c1c"/>
<line x1="1980.5" y1="157.0" x2="1980.5" y2="179.0" stroke="#e02828" stroke-width="2" />
<line x1="1974.5" y1="157.0" x2="1986.5" y2="157.0" stroke="#e02828" stroke-width="2" />
<line x1="1974.5" y1="179.0" x2="1986.5" y2="179.0" stroke="#e02828" stroke-width="2" />
<text x="1754.0" y="330.0" font-size="17.5" font-family="'Liberation Sans', Arial, sans-serif" font-weight="bold" textLength="95.0" lengthAdjust="spacingAndGlyphs" >CTRL DiKO</text>
<line x1="1755.0" y1="341.0" x2="1850.0" y2="341.0" stroke="#000" stroke-width="2" />
<text x="1775.0" y="365.0" font-size="20.9" font-family="'Liberation Sans', Arial, sans-serif" font-weight="bold" textLength="57.0" lengthAdjust="spacingAndGlyphs" >Sham</text>
<text x="1907.0" y="330.0" font-size="17.5" font-family="'Liberation Sans', Arial, sans-serif" font-weight="bold" textLength="95.0" lengthAdjust="spacingAndGlyphs" >CTRL DiKO</text>
<line x1="1908.0" y1="341.0" x2="2003.0" y2="341.0" stroke="#000" stroke-width="2" />
<text x="1947.0" y="365.0" font-size="19" font-family="'Liberation Sans', Arial, sans-serif" font-weight="bold" textLength="21.0" lengthAdjust="spacingAndGlyphs" >MI</text>
<text x="800.0" y="836.5" font-size="32" font-family="'Liberation Sans', Arial, sans-serif" font-weight="bold" >i</text>
<rect x="860.0" y="1096.5" width="56.0" height="77.5" fill="#559ffa" stroke="#1428c8" stroke-width="2.5" />
<rect x="928.0" y="1020.3" width="57.0" height="153.7" fill="#fa8080" stroke="#e02828" stroke-width="2.5" />
<rect x="825.0" y="846.0" width="196.0" height="328.0" fill="none" stroke="#000" stroke-width="2" />
<line x1="825.0" y1="911.2" x2="831.0" y2="911.2" stroke="#000" stroke-width="2" />
<line x1="825.0" y1="976.9" x2="831.0" y2="976.9" stroke="#000" stroke-width="2" />
<line x1="825.0" y1="1042.6" x2="831.0" y2="1042.6" stroke="#000" stroke-width="2" />
<line x1="825.0" y1="1108.3" x2="831.0" y2="1108.3" stroke="#000" stroke-width="2" />
<text x="822.0" y="918.0" font-size="19.5" font-family="'Liberation Sans', Arial, sans-serif" font-weight="bold" text-anchor="end" >2.0</text>
<text x="822.0" y="983.7" font-size="19.5" font-family="'Liberation Sans', Arial, sans-serif" font-weight="bold" text-anchor="end" >1.5</text>
<text x="822.0" y="1049.4" font-size="19.5" font-family="'Liberation Sans', Arial, sans-serif" font-weight="bold" text-anchor="end" >1.0</text>
<text x="822.0" y="1115.1" font-size="19.5" font-family="'Liberation Sans', Arial, sans-serif" font-weight="bold" text-anchor="end" >0.5</text>
<text x="786.0" y="1167.0" font-size="24.3" font-family="'Liberation Sans', Arial, sans-serif" textLength="308.0" lengthAdjust="spacingAndGlyphs" transform="rotate(-90 786.0 1167.0)" stroke="#000" stroke-width="0.55">LV Cardiac Index (mL/min/g)</text>
<polygon points="841.0,860.1 845.5,868.2 836.5,868.2" fill="#1717d0"/>
<text x="864.0" y="872.0" font-size="20" font-family="'Liberation Sans', Arial, sans-serif" textLength="51.0" lengthAdjust="spacingAndGlyphs" >CTRL</text>
<rect x="936.5" y="860.5" width="9.0" height="9.0" fill="#e81c1c"/>
<text x="966.0" y="872.0" font-size="20" font-family="'Liberation Sans', Arial, sans-serif" textLength="46.0" lengthAdjust="spacingAndGlyphs" >DiKO</text>
<text x="873.0" y="912.0" font-size="21.0" font-family="'Liberation Sans', Arial, sans-serif" textLength="100.0" lengthAdjust="spacingAndGlyphs" >P=9.5E-04</text>
<text x="924.0" y="935.0" font-size="25" font-family="'Liberation Sans', Arial, sans-serif" text-anchor="middle" textLength="32.0" lengthAdjust="spacingAndGlyphs" >***</text>
<polyline points="887.0,942.0 887.0,932.0 956.0,932.0 956.0,938.0" fill="none" stroke="#000" stroke-width="2" />
<line x1="888.0" y1="1086.0" x2="888.0" y2="1107.0" stroke="#1428c8" stroke-width="2" />
<line x1="881.0" y1="1086.0" x2="895.0" y2="1086.0" stroke="#1428c8" stroke-width="2" />
<line x1="881.0" y1="1107.0" x2="895.0" y2="1107.0" stroke="#1428c8" stroke-width="2" />
<polygon points="884.6,1074.4 888.9,1082.1 880.4,1082.1" fill="#1717d0"/>
<polygon points="892.0,1073.4 896.2,1081.1 887.8,1081.1" fill="#1717d0"/>
<polygon points="887.8,1088.4 892.0,1096.1 883.5,1096.1" fill="#1717d0"/>
<polygon points="880.7,1099.4 885.0,1107.1 876.5,1107.1" fill="#1717d0"/>
<polygon points="887.8,1103.1 892.0,1110.8 883.5,1110.8" fill="#1717d0"/>
<polygon points="895.4,1105.4 899.6,1113.1 891.1,1113.1" fill="#1717d0"/>
<line x1="957.0" y1="1004.7" x2="957.0" y2="1035.7" stroke="#e02828" stroke-width="2" />
<line x1="950.0" y1="1004.7" x2="964.0" y2="1004.7" stroke="#e02828" stroke-width="2" />
<line x1="950.0" y1="1035.7" x2="964.0" y2="1035.7" stroke="#e02828" stroke-width="2" />
<rect x="953.1" y="945.2" width="7.5" height="7.5" fill="#e81c1c"/>
<rect x="953.8" y="1004.9" width="7.5" height="7.5" fill="#e81c1c"/>
<rect x="953.1" y="1028.7" width="7.5" height="7.5" fill="#e81c1c"/>
<rect x="945.1" y="1039.0" width="7.5" height="7.5" fill="#e81c1c"/>
<rect x="952.6" y="1041.7" width="7.5" height="7.5" fill="#e81c1c"/>
<rect x="961.0" y="1042.2" width="7.5" height="7.5" fill="#e81c1c"/>
<text x="1096.0" y="836.0" font-size="32" font-family="'Liberation Sans', Arial, sans-serif" font-weight="bold" >j</text>
<rect x="1155.0" y="984.0" width="56.0" height="190.0" fill="#559ffa" stroke="#1428c8" stroke-width="2.5" />
<rect x="1224.0" y="980.0" width="56.0" height="194.0" fill="#fa8080" stroke="#e02828" stroke-width="2.5" />
<rect x="1120.5" y="846.0" width="194.5" height="328.0" fill="none" stroke="#000" stroke-width="2" />
<line x1="1120.5" y1="928.9" x2="1126.5" y2="928.9" stroke="#000" stroke-width="2" />
<line x1="1120.5" y1="1010.6" x2="1126.5" y2="1010.6" stroke="#000" stroke-width="2" />
<line x1="1120.5" y1="1092.3" x2="1126.5" y2="1092.3" stroke="#000" stroke-width="2" />
<text x="1117.0" y="935.7" font-size="19.5" font-family="'Liberation Sans', Arial, sans-serif" font-weight="bold" text-anchor="end" >600</text>
<text x="1117.0" y="1017.4" font-size="19.5" font-family="'Liberation Sans', Arial, sans-serif" font-weight="bold" text-anchor="end" >400</text>
<text x="1117.0" y="1099.1" font-size="19.5" font-family="'Liberation Sans', Arial, sans-serif" font-weight="bold" text-anchor="end" >200</text>
<text x="1069.0" y="1097.0" font-size="23.7" font-family="'Liberation Sans', Arial, sans-serif" textLength="174.0" lengthAdjust="spacingAndGlyphs" transform="rotate(-90 1069.0 1097.0)" stroke="#000" stroke-width="0.55">Heart rate (bpm)</text>
<polygon points="1137.0,861.1 1141.5,869.2 1132.5,869.2" fill="#1717d0"/>
<text x="1160.0" y="873.0" font-size="20" font-family="'Liberation Sans', Arial, sans-serif" textLength="51.0" lengthAdjust="spacingAndGlyphs" >CTRL</text>
<rect x="1232.5" y="861.5" width="9.0" height="9.0" fill="#e81c1c"/>
<text x="1260.0" y="873.0" font-size="20" font-family="'Liberation Sans', Arial, sans-serif" textLength="46.0" lengthAdjust="spacingAndGlyphs" >DiKO</text>
<text x="1186.0" y="926.0" font-size="21.0" font-family="'Liberation Sans', Arial, sans-serif" textLength="67.0" lengthAdjust="spacingAndGlyphs" >P=0.59</text>
<text x="1206.0" y="946.0" font-size="19.5" font-family="'Liberation Sans', Arial, sans-serif" font-style="italic" textLength="28.0" lengthAdjust="spacingAndGlyphs" >n.s</text>
<polyline points="1185.0,963.0 1185.0,951.0 1254.0,951.0 1254.0,963.0" fill="none" stroke="#000" stroke-width="2" />
<line x1="1183.0" y1="978.0" x2="1183.0" y2="986.0" stroke="#1428c8" stroke-width="2" />
<line x1="1176.0" y1="978.0" x2="1190.0" y2="978.0" stroke="#1428c8" stroke-width="2" />
<line x1="1176.0" y1="986.0" x2="1190.0" y2="986.0" stroke="#1428c8" stroke-width="2" />
<polygon points="1175.0,971.4 1179.2,979.1 1170.8,979.1" fill="#1717d0"/>
<polygon points="1183.0,972.0 1187.2,979.7 1178.8,979.7" fill="#1717d0"/>
<polygon points="1191.0,967.4 1195.2,975.1 1186.8,975.1" fill="#1717d0"/>
<polygon points="1179.6,982.4 1183.8,990.1 1175.3,990.1" fill="#1717d0"/>
<polygon points="1187.0,983.4 1191.2,991.1 1182.8,991.1" fill="#1717d0"/>
<polygon points="1183.0,993.4 1187.2,1001.1 1178.8,1001.1" fill="#1717d0"/>
<line x1="1252.0" y1="967.0" x2="1252.0" y2="984.0" stroke="#e02828" stroke-width="2.5" />
<line x1="1245.0" y1="967.0" x2="1259.0" y2="967.0" stroke="#e02828" stroke-width="2.5" />
<line x1="1245.0" y1="984.0" x2="1259.0" y2="984.0" stroke="#e02828" stroke-width="2.5" />
<rect x="1239.8" y="964.9" width="7.5" height="7.5" fill="#e81c1c"/>
<rect x="1256.0" y="964.9" width="7.5" height="7.5" fill="#e81c1c"/>
<rect x="1248.0" y="971.2" width="7.5" height="7.5" fill="#e81c1c"/>
<rect x="1252.8" y="977.9" width="7.5" height="7.5" fill="#e81c1c"/>
<rect x="1248.0" y="1003.2" width="7.5" height="7.5" fill="#e81c1c"/>
<text x="1422.0" y="756.0" font-size="34" font-family="'Liberation Sans', Arial, sans-serif" font-weight="bold" textLength="17.0" lengthAdjust="spacingAndGlyphs" >k</text>
<rect x="1467.0" y="737.0" width="593.0" height="398.0" fill="none" stroke="#000" stroke-width="2.1" />
<line x1="1545.0" y1="1135.0" x2="1545.0" y2="1127.0" stroke="#000" stroke-width="2" />
<line x1="1632.0" y1="1135.0" x2="1632.0" y2="1127.0" stroke="#000" stroke-width="2" />
<line x1="1719.0" y1="1135.0" x2="1719.0" y2="1127.0" stroke="#000" stroke-width="2" />
<line x1="1806.0" y1="1135.0" x2="1806.0" y2="1127.0" stroke="#000" stroke-width="2" />
<line x1="1893.0" y1="1135.0" x2="1893.0" y2="1127.0" stroke="#000" stroke-width="2" />
<line x1="1980.0" y1="1135.0" x2="1980.0" y2="1127.0" stroke="#000" stroke-width="2" />
<line x1="1458.0" y1="804.0" x2="1467.0" y2="804.0" stroke="#000" stroke-width="2" />
<line x1="1458.0" y1="870.2" x2="1467.0" y2="870.2" stroke="#000" stroke-width="2" />
<line x1="1458.0" y1="936.4" x2="1467.0" y2="936.4" stroke="#000" stroke-width="2" />
<line x1="1458.0" y1="1002.6" x2="1467.0" y2="1002.6" stroke="#000" stroke-width="2" />
<line x1="1458.0" y1="1068.8" x2="1467.0" y2="1068.8" stroke="#000" stroke-width="2" />
<text x="1455.0" y="811.5" font-size="22.5" font-family="'Liberation Serif', 'Times New Roman', serif" font-weight="bold" text-anchor="end" >100</text>
<text x="1455.0" y="877.7" font-size="22.5" font-family="'Liberation Serif', 'Times New Roman', serif" font-weight="bold" text-anchor="end" >80</text>
<text x="1455.0" y="943.9" font-size="22.5" font-family="'Liberation Serif', 'Times New Roman', serif" font-weight="bold" text-anchor="end" >60</text>
<text x="1455.0" y="1010.1" font-size="22.5" font-family="'Liberation Serif', 'Times New Roman', serif" font-weight="bold" text-anchor="end" >40</text>
<text x="1455.0" y="1076.3" font-size="22.5" font-family="'Liberation Serif', 'Times New Roman', serif" font-weight="bold" text-anchor="end" >20</text>
<text x="1545.0" y="1160.0" font-size="24" font-family="'Liberation Sans', Arial, sans-serif" font-weight="bold" text-anchor="middle" >0</text>
<text x="1632.0" y="1160.0" font-size="24" font-family="'Liberation Sans', Arial, sans-serif" font-weight="bold" text-anchor="middle" >2</text>
<text x="1719.0" y="1160.0" font-size="24" font-family="'Liberation Sans', Arial, sans-serif" font-weight="bold" text-anchor="middle" >3</text>
<text x="1806.0" y="1160.0" font-size="24" font-family="'Liberation Sans', Arial, sans-serif" font-weight="bold" text-anchor="middle" >7</text>
<text x="1893.0" y="1160.0" font-size="24" font-family="'Liberation Sans', Arial, sans-serif" font-weight="bold" text-anchor="middle" >11</text>
<text x="1980.0" y="1160.0" font-size="24" font-family="'Liberation Sans', Arial, sans-serif" font-weight="bold" text-anchor="middle" >15</text>
<text x="1405.5" y="1063.0" font-size="26.6" font-family="'Liberation Sans', Arial, sans-serif" font-weight="bold" textLength="257.0" lengthAdjust="spacingAndGlyphs" transform="rotate(-90 1405.5 1063.0)" >Ejection fraction (%)</text>
<text x="1524.0" y="1199.0" font-size="26.5" font-family="'Liberation Sans', Arial, sans-serif" font-weight="bold" textLength="479.0" lengthAdjust="spacingAndGlyphs" >Time after tamoxifen injection (weeks)</text>
<polyline points="1545.0,837.1 1632.0,875.2 1719.0,848.7 1806.0,838.8 1893.0,832.1 1980.0,835.4" fill="none" stroke="#a81c1c" stroke-width="2" />
<line x1="1545.0" y1="835.1" x2="1545.0" y2="839.1" stroke="#a81c1c" stroke-width="2" />
<line x1="1541.0" y1="835.1" x2="1549.0" y2="835.1" stroke="#a81c1c" stroke-width="2" />
<line x1="1541.0" y1="839.1" x2="1549.0" y2="839.1" stroke="#a81c1c" stroke-width="2" />
<line x1="1632.0" y1="865.2" x2="1632.0" y2="885.1" stroke="#a81c1c" stroke-width="2" />
<line x1="1628.0" y1="865.2" x2="1636.0" y2="865.2" stroke="#a81c1c" stroke-width="2" />
<line x1="1628.0" y1="885.1" x2="1636.0" y2="885.1" stroke="#a81c1c" stroke-width="2" />
<line x1="1719.0" y1="846.0" x2="1719.0" y2="851.3" stroke="#a81c1c" stroke-width="2" />
<line x1="1715.0" y1="846.0" x2="1723.0" y2="846.0" stroke="#a81c1c" stroke-width="2" />
<line x1="1715.0" y1="851.3" x2="1723.0" y2="851.3" stroke="#a81c1c" stroke-width="2" />
<line x1="1806.0" y1="836.1" x2="1806.0" y2="841.4" stroke="#a81c1c" stroke-width="2" />
<line x1="1802.0" y1="836.1" x2="1810.0" y2="836.1" stroke="#a81c1c" stroke-width="2" />
<line x1="1802.0" y1="841.4" x2="1810.0" y2="841.4" stroke="#a81c1c" stroke-width="2" />
<line x1="1893.0" y1="830.1" x2="1893.0" y2="834.1" stroke="#a81c1c" stroke-width="2" />
<line x1="1889.0" y1="830.1" x2="1897.0" y2="830.1" stroke="#a81c1c" stroke-width="2" />
<line x1="1889.0" y1="834.1" x2="1897.0" y2="834.1" stroke="#a81c1c" stroke-width="2" />
<line x1="1980.0" y1="832.5" x2="1980.0" y2="838.4" stroke="#a81c1c" stroke-width="2" />
<line x1="1976.0" y1="832.5" x2="1984.0" y2="832.5" stroke="#a81c1c" stroke-width="2" />
<line x1="1976.0" y1="838.4" x2="1984.0" y2="838.4" stroke="#a81c1c" stroke-width="2" />
<rect x="1541.2" y="833.2" width="7.7" height="7.7" fill="white" stroke="#a81c1c" stroke-width="1.6"/>
<rect x="1628.2" y="871.3" width="7.7" height="7.7" fill="white" stroke="#a81c1c" stroke-width="1.6"/>
<rect x="1715.2" y="844.8" width="7.7" height="7.7" fill="white" stroke="#a81c1c" stroke-width="1.6"/>
<rect x="1802.2" y="834.9" width="7.7" height="7.7" fill="white" stroke="#a81c1c" stroke-width="1.6"/>
<rect x="1889.2" y="828.3" width="7.7" height="7.7" fill="white" stroke="#a81c1c" stroke-width="1.6"/>
<rect x="1976.2" y="831.6" width="7.7" height="7.7" fill="white" stroke="#a81c1c" stroke-width="1.6"/>
<polyline points="1545.0,822.2 1632.0,833.8 1719.0,850.3 1806.0,827.8 1893.0,829.5 1980.0,837.1" fill="none" stroke="#2222c0" stroke-width="2" />
<line x1="1545.0" y1="820.5" x2="1545.0" y2="823.9" stroke="#2222c0" stroke-width="2" />
<line x1="1541.0" y1="820.5" x2="1549.0" y2="820.5" stroke="#2222c0" stroke-width="2" />
<line x1="1541.0" y1="823.9" x2="1549.0" y2="823.9" stroke="#2222c0" stroke-width="2" />
<line x1="1632.0" y1="827.8" x2="1632.0" y2="839.7" stroke="#2222c0" stroke-width="2" />
<line x1="1628.0" y1="827.8" x2="1636.0" y2="827.8" stroke="#2222c0" stroke-width="2" />
<line x1="1628.0" y1="839.7" x2="1636.0" y2="839.7" stroke="#2222c0" stroke-width="2" />
<line x1="1719.0" y1="847.0" x2="1719.0" y2="853.6" stroke="#2222c0" stroke-width="2" />
<line x1="1715.0" y1="847.0" x2="1723.0" y2="847.0" stroke="#2222c0" stroke-width="2" />
<line x1="1715.0" y1="853.6" x2="1723.0" y2="853.6" stroke="#2222c0" stroke-width="2" />
<line x1="1806.0" y1="825.2" x2="1806.0" y2="830.5" stroke="#2222c0" stroke-width="2" />
<line x1="1802.0" y1="825.2" x2="1810.0" y2="825.2" stroke="#2222c0" stroke-width="2" />
<line x1="1802.0" y1="830.5" x2="1810.0" y2="830.5" stroke="#2222c0" stroke-width="2" />
<line x1="1893.0" y1="826.2" x2="1893.0" y2="832.8" stroke="#2222c0" stroke-width="2" />
<line x1="1889.0" y1="826.2" x2="1897.0" y2="826.2" stroke="#2222c0" stroke-width="2" />
<line x1="1889.0" y1="832.8" x2="1897.0" y2="832.8" stroke="#2222c0" stroke-width="2" />
<line x1="1980.0" y1="832.1" x2="1980.0" y2="842.1" stroke="#2222c0" stroke-width="2" />
<line x1="1976.0" y1="832.1" x2="1984.0" y2="832.1" stroke="#2222c0" stroke-width="2" />
<line x1="1976.0" y1="842.1" x2="1984.0" y2="842.1" stroke="#2222c0" stroke-width="2" />
<polygon points="1545.0,817.5 1549.4,825.4 1540.6,825.4" fill="white" stroke="#2222c0" stroke-width="1.6"/>
<polygon points="1632.0,829.0 1636.4,837.0 1627.6,837.0" fill="white" stroke="#2222c0" stroke-width="1.6"/>
<polygon points="1719.0,845.6 1723.4,853.5 1714.6,853.5" fill="white" stroke="#2222c0" stroke-width="1.6"/>
<polygon points="1806.0,823.1 1810.4,831.0 1801.6,831.0" fill="white" stroke="#2222c0" stroke-width="1.6"/>
<polygon points="1893.0,824.7 1897.4,832.7 1888.6,832.7" fill="white" stroke="#2222c0" stroke-width="1.6"/>
<polygon points="1980.0,832.3 1984.4,840.3 1975.6,840.3" fill="white" stroke="#2222c0" stroke-width="1.6"/>
<line x1="1532.0" y1="1048.0" x2="1562.0" y2="1048.0" stroke="#2222c0" stroke-width="2" />
<polygon points="1547.0,1043.2 1551.4,1051.2 1542.6,1051.2" fill="white" stroke="#2222c0" stroke-width="1.6"/>
<text x="1578.0" y="1057.0" font-size="22.2" font-family="'Liberation Sans', Arial, sans-serif" textLength="58.0" lengthAdjust="spacingAndGlyphs" >CTRL</text>
<line x1="1532.0" y1="1081.0" x2="1562.0" y2="1081.0" stroke="#a81c1c" stroke-width="2" />
<rect x="1543.2" y="1077.2" width="7.7" height="7.7" fill="white" stroke="#a81c1c" stroke-width="1.6"/>
<text x="1578.0" y="1090.0" font-size="24" font-family="'Liberation Sans', Arial, sans-serif" textLength="54.0" lengthAdjust="spacingAndGlyphs" >DiKO</text>
<text x="1735.0" y="766.5" font-size="25.3" font-family="'Liberation Sans', Arial, sans-serif" textLength="73.0" lengthAdjust="spacingAndGlyphs" stroke="#000" stroke-width="0.5">SHAM</text>
<text x="1537.0" y="780.5" font-size="20.5" font-family="'Liberation Sans', Arial, sans-serif" font-weight="bold" textLength="133.0" lengthAdjust="spacingAndGlyphs" >TAM injection</text>
<polygon points="1580.5,793.0 1597.5,793.0 1589.0,810.0" fill="#000" />
<polygon points="1597.5,793.0 1614.5,793.0 1606.0,810.0" fill="#000" />
<polygon points="1615.5,793.0 1632.5,793.0 1624.0,810.0" fill="#000" />
<text x="31.0" y="1267.0" font-size="26.5" font-family="'Liberation Sans', Arial, sans-serif" font-weight="bold" textLength="7.0" lengthAdjust="spacingAndGlyphs" >l</text>
<rect x="75.0" y="1247.0" width="592.0" height="396.0" fill="none" stroke="#000" stroke-width="2.1" />
<line x1="153.0" y1="1643.0" x2="153.0" y2="1635.0" stroke="#000" stroke-width="2" />
<line x1="240.0" y1="1643.0" x2="240.0" y2="1635.0" stroke="#000" stroke-width="2" />
<line x1="327.0" y1="1643.0" x2="327.0" y2="1635.0" stroke="#000" stroke-width="2" />
<line x1="414.0" y1="1643.0" x2="414.0" y2="1635.0" stroke="#000" stroke-width="2" />
<line x1="501.0" y1="1643.0" x2="501.0" y2="1635.0" stroke="#000" stroke-width="2" />
<line x1="587.0" y1="1643.0" x2="587.0" y2="1635.0" stroke="#000" stroke-width="2" />
<line x1="75.0" y1="1345.5" x2="83.0" y2="1345.5" stroke="#000" stroke-width="2" />
<line x1="75.0" y1="1445.0" x2="83.0" y2="1445.0" stroke="#000" stroke-width="2" />
<line x1="75.0" y1="1544.5" x2="83.0" y2="1544.5" stroke="#000" stroke-width="2" />
<text x="70.0" y="1353.2" font-size="22" font-family="'Liberation Sans', Arial, sans-serif" font-weight="bold" text-anchor="end" >1.5</text>
<text x="70.0" y="1452.7" font-size="22" font-family="'Liberation Sans', Arial, sans-serif" font-weight="bold" text-anchor="end" >1.0</text>
<text x="70.0" y="1552.2" font-size="22" font-family="'Liberation Sans', Arial, sans-serif" font-weight="bold" text-anchor="end" >0.5</text>
<text x="153.0" y="1669.0" font-size="22" font-family="'Liberation Sans', Arial, sans-serif" font-weight="bold" text-anchor="middle" >1</text>
<text x="240.0" y="1669.0" font-size="22" font-family="'Liberation Sans', Arial, sans-serif" font-weight="bold" text-anchor="middle" >3</text>
<text x="327.0" y="1669.0" font-size="22" font-family="'Liberation Sans', Arial, sans-serif" font-weight="bold" text-anchor="middle" >4</text>
<text x="414.0" y="1669.0" font-size="22" font-family="'Liberation Sans', Arial, sans-serif" font-weight="bold" text-anchor="middle" >8</text>
<text x="501.0" y="1669.0" font-size="22" font-family="'Liberation Sans', Arial, sans-serif" font-weight="bold" text-anchor="middle" >12</text>
<text x="587.0" y="1669.0" font-size="22" font-family="'Liberation Sans', Arial, sans-serif" font-weight="bold" text-anchor="middle" >16</text>
<text x="19.0" y="1527.0" font-size="27.1" font-family="'Liberation Sans', Arial, sans-serif" font-weight="bold" textLength="178.0" lengthAdjust="spacingAndGlyphs" transform="rotate(-90 19.0 1527.0)" >LVAW, d (mm)</text>
<text x="205.0" y="1709.0" font-size="22.7" font-family="'Liberation Sans', Arial, sans-serif" font-weight="bold" textLength="337.0" lengthAdjust="spacingAndGlyphs" >Time after LAD ligation (weeks)</text>
<polyline points="153.0,1544.5 240.0,1544.5 327.0,1561.4 414.0,1573.4 501.0,1586.3 587.0,1593.3" fill="none" stroke="#1515d8" stroke-width="2.2" />
<line x1="153.0" y1="1534.5" x2="153.0" y2="1554.5" stroke="#1515d8" stroke-width="2" />
<line x1="148.5" y1="1534.5" x2="157.5" y2="1534.5" stroke="#1515d8" stroke-width="2" />
<line x1="148.5" y1="1554.5" x2="157.5" y2="1554.5" stroke="#1515d8" stroke-width="2" />
<line x1="240.0" y1="1534.5" x2="240.0" y2="1554.5" stroke="#1515d8" stroke-width="2" />
<line x1="235.5" y1="1534.5" x2="244.5" y2="1534.5" stroke="#1515d8" stroke-width="2" />
<line x1="235.5" y1="1554.5" x2="244.5" y2="1554.5" stroke="#1515d8" stroke-width="2" />
<line x1="327.0" y1="1553.5" x2="327.0" y2="1569.4" stroke="#1515d8" stroke-width="2" />
<line x1="322.5" y1="1553.5" x2="331.5" y2="1553.5" stroke="#1515d8" stroke-width="2" />
<line x1="322.5" y1="1569.4" x2="331.5" y2="1569.4" stroke="#1515d8" stroke-width="2" />
<line x1="414.0" y1="1566.4" x2="414.0" y2="1580.3" stroke="#1515d8" stroke-width="2" />
<line x1="409.5" y1="1566.4" x2="418.5" y2="1566.4" stroke="#1515d8" stroke-width="2" />
<line x1="409.5" y1="1580.3" x2="418.5" y2="1580.3" stroke="#1515d8" stroke-width="2" />
<line x1="501.0" y1="1582.3" x2="501.0" y2="1590.3" stroke="#1515d8" stroke-width="2" />
<line x1="496.5" y1="1582.3" x2="505.5" y2="1582.3" stroke="#1515d8" stroke-width="2" />
<line x1="496.5" y1="1590.3" x2="505.5" y2="1590.3" stroke="#1515d8" stroke-width="2" />
<line x1="587.0" y1="1586.3" x2="587.0" y2="1600.2" stroke="#1515d8" stroke-width="2" />
<line x1="582.5" y1="1586.3" x2="591.5" y2="1586.3" stroke="#1515d8" stroke-width="2" />
<line x1="582.5" y1="1600.2" x2="591.5" y2="1600.2" stroke="#1515d8" stroke-width="2" />
<polygon points="153.0,1538.6 158.5,1548.5 147.5,1548.5" fill="#1515d8"/>
<polygon points="240.0,1538.6 245.5,1548.5 234.5,1548.5" fill="#1515d8"/>
<polygon points="327.0,1555.5 332.5,1565.4 321.5,1565.4" fill="#1515d8"/>
<polygon points="414.0,1567.4 419.5,1577.3 408.5,1577.3" fill="#1515d8"/>
<polygon points="501.0,1580.3 506.5,1590.2 495.5,1590.2" fill="#1515d8"/>
<polygon points="587.0,1587.3 592.5,1597.2 581.5,1597.2" fill="#1515d8"/>
<polyline points="153.0,1540.5 240.0,1544.5 327.0,1512.7 414.0,1502.7 501.0,1509.5 587.0,1499.5" fill="none" stroke="#e81e1e" stroke-width="2.2" />
<line x1="153.0" y1="1530.6" x2="153.0" y2="1550.5" stroke="#e81e1e" stroke-width="2" />
<line x1="148.5" y1="1530.6" x2="157.5" y2="1530.6" stroke="#e81e1e" stroke-width="2" />
<line x1="148.5" y1="1550.5" x2="157.5" y2="1550.5" stroke="#e81e1e" stroke-width="2" />
<line x1="240.0" y1="1540.5" x2="240.0" y2="1548.5" stroke="#e81e1e" stroke-width="2" />
<line x1="235.5" y1="1540.5" x2="244.5" y2="1540.5" stroke="#e81e1e" stroke-width="2" />
<line x1="235.5" y1="1548.5" x2="244.5" y2="1548.5" stroke="#e81e1e" stroke-width="2" />
<line x1="327.0" y1="1497.7" x2="327.0" y2="1527.6" stroke="#e81e1e" stroke-width="2" />
<line x1="322.5" y1="1497.7" x2="331.5" y2="1497.7" stroke="#e81e1e" stroke-width="2" />
<line x1="322.5" y1="1527.6" x2="331.5" y2="1527.6" stroke="#e81e1e" stroke-width="2" />
<line x1="414.0" y1="1499.7" x2="414.0" y2="1505.7" stroke="#e81e1e" stroke-width="2" />
<line x1="409.5" y1="1499.7" x2="418.5" y2="1499.7" stroke="#e81e1e" stroke-width="2" />
<line x1="409.5" y1="1505.7" x2="418.5" y2="1505.7" stroke="#e81e1e" stroke-width="2" />
<line x1="501.0" y1="1492.6" x2="501.0" y2="1526.4" stroke="#e81e1e" stroke-width="2" />
<line x1="496.5" y1="1492.6" x2="505.5" y2="1492.6" stroke="#e81e1e" stroke-width="2" />
<line x1="496.5" y1="1526.4" x2="505.5" y2="1526.4" stroke="#e81e1e" stroke-width="2" />
<line x1="587.0" y1="1485.6" x2="587.0" y2="1513.5" stroke="#e81e1e" stroke-width="2" />
<line x1="582.5" y1="1485.6" x2="591.5" y2="1485.6" stroke="#e81e1e" stroke-width="2" />
<line x1="582.5" y1="1513.5" x2="591.5" y2="1513.5" stroke="#e81e1e" stroke-width="2" />
<rect x="148.3" y="1535.8" width="9.3" height="9.3" fill="#e81e1e"/>
<rect x="235.3" y="1539.8" width="9.3" height="9.3" fill="#e81e1e"/>
<rect x="322.3" y="1508.0" width="9.3" height="9.3" fill="#e81e1e"/>
<rect x="409.3" y="1498.0" width="9.3" height="9.3" fill="#e81e1e"/>
<rect x="496.3" y="1504.8" width="9.3" height="9.3" fill="#e81e1e"/>
<rect x="582.3" y="1494.9" width="9.3" height="9.3" fill="#e81e1e"/>
<line x1="161.0" y1="1276.0" x2="191.0" y2="1276.0" stroke="#1515d8" stroke-width="2.2" />
<polygon points="176.0,1270.1 181.5,1280.0 170.5,1280.0" fill="#1515d8"/>
<text x="206.0" y="1283.9" font-size="22.6" font-family="'Liberation Sans', Arial, sans-serif" textLength="59.0" lengthAdjust="spacingAndGlyphs" >CTRL</text>
<line x1="315.0" y1="1276.0" x2="345.0" y2="1276.0" stroke="#e81e1e" stroke-width="2.2" />
<rect x="325.3" y="1271.3" width="9.3" height="9.3" fill="#e81e1e"/>
<text x="362.0" y="1283.9" font-size="23" font-family="'Liberation Sans', Arial, sans-serif" textLength="53.0" lengthAdjust="spacingAndGlyphs" >DiKO</text>
<text x="271.0" y="1466.0" font-size="20.0" font-family="'Liberation Sans', Arial, sans-serif" textLength="64.0" lengthAdjust="spacingAndGlyphs" >P=0.01</text>
<text x="329.0" y="1495.6" font-size="28" font-family="'Liberation Sans', Arial, sans-serif" text-anchor="middle" >*</text>
<text x="358.0" y="1466.0" font-size="20.6" font-family="'Liberation Sans', Arial, sans-serif" textLength="89.0" lengthAdjust="spacingAndGlyphs" >P=0.0003</text>
<text x="398.0" y="1493.6" font-size="28" font-family="'Liberation Sans', Arial, sans-serif" textLength="32.0" lengthAdjust="spacingAndGlyphs" >***</text>
<text x="458.0" y="1466.0" font-size="20.2" font-family="'Liberation Sans', Arial, sans-serif" textLength="87.0" lengthAdjust="spacingAndGlyphs" >P=0.0001</text>
<text x="485.0" y="1493.6" font-size="28" font-family="'Liberation Sans', Arial, sans-serif" textLength="31.0" lengthAdjust="spacingAndGlyphs" >***</text>
<text x="557.0" y="1451.0" font-size="21.0" font-family="'Liberation Sans', Arial, sans-serif" textLength="100.0" lengthAdjust="spacingAndGlyphs" >P=4.9E-06</text>
<text x="571.0" y="1485.6" font-size="28" font-family="'Liberation Sans', Arial, sans-serif" textLength="32.0" lengthAdjust="spacingAndGlyphs" >***</text>
<text x="713.0" y="1267.0" font-size="35" font-family="'Liberation Sans', Arial, sans-serif" font-weight="bold" textLength="28.0" lengthAdjust="spacingAndGlyphs" >m</text>
<rect x="763.0" y="1246.0" width="593.0" height="394.0" fill="none" stroke="#000" stroke-width="2.1" />
<line x1="841.5" y1="1640.0" x2="841.5" y2="1632.0" stroke="#000" stroke-width="2" />
<line x1="928.0" y1="1640.0" x2="928.0" y2="1632.0" stroke="#000" stroke-width="2" />
<line x1="1015.0" y1="1640.0" x2="1015.0" y2="1632.0" stroke="#000" stroke-width="2" />
<line x1="1102.0" y1="1640.0" x2="1102.0" y2="1632.0" stroke="#000" stroke-width="2" />
<line x1="1189.0" y1="1640.0" x2="1189.0" y2="1632.0" stroke="#000" stroke-width="2" />
<line x1="1276.0" y1="1640.0" x2="1276.0" y2="1632.0" stroke="#000" stroke-width="2" />
<line x1="763.0" y1="1324.8" x2="771.0" y2="1324.8" stroke="#000" stroke-width="2" />
<line x1="763.0" y1="1403.6" x2="771.0" y2="1403.6" stroke="#000" stroke-width="2" />
<line x1="763.0" y1="1482.4" x2="771.0" y2="1482.4" stroke="#000" stroke-width="2" />
<line x1="763.0" y1="1561.2" x2="771.0" y2="1561.2" stroke="#000" stroke-width="2" />
<text x="759.5" y="1332.4" font-size="23" font-family="'Liberation Serif', 'Times New Roman', serif" font-weight="bold" text-anchor="end" >8</text>
<text x="759.5" y="1411.2" font-size="23" font-family="'Liberation Serif', 'Times New Roman', serif" font-weight="bold" text-anchor="end" >6</text>
<text x="759.5" y="1490.0" font-size="23" font-family="'Liberation Serif', 'Times New Roman', serif" font-weight="bold" text-anchor="end" >4</text>
<text x="759.5" y="1568.8" font-size="23" font-family="'Liberation Serif', 'Times New Roman', serif" font-weight="bold" text-anchor="end" >2</text>
<text x="841.5" y="1667.0" font-size="22" font-family="'Liberation Sans', Arial, sans-serif" font-weight="bold" text-anchor="middle" >1</text>
<text x="928.0" y="1667.0" font-size="22" font-family="'Liberation Sans', Arial, sans-serif" font-weight="bold" text-anchor="middle" >3</text>
<text x="1015.0" y="1667.0" font-size="22" font-family="'Liberation Sans', Arial, sans-serif" font-weight="bold" text-anchor="middle" >4</text>
<text x="1102.0" y="1667.0" font-size="22" font-family="'Liberation Sans', Arial, sans-serif" font-weight="bold" text-anchor="middle" >8</text>
<text x="1189.0" y="1667.0" font-size="22" font-family="'Liberation Sans', Arial, sans-serif" font-weight="bold" text-anchor="middle" >12</text>
<text x="1276.0" y="1667.0" font-size="22" font-family="'Liberation Sans', Arial, sans-serif" font-weight="bold" text-anchor="middle" >16</text>
<text x="719.5" y="1517.0" font-size="26.8" font-family="'Liberation Sans', Arial, sans-serif" font-weight="bold" textLength="163.0" lengthAdjust="spacingAndGlyphs" transform="rotate(-90 719.5 1517.0)" >LVID, d (mm)</text>
<text x="893.0" y="1707.0" font-size="22.7" font-family="'Liberation Sans', Arial, sans-serif" font-weight="bold" textLength="337.0" lengthAdjust="spacingAndGlyphs" >Time after LAD ligation (weeks)</text>
<polyline points="841.5,1466.6 928.0,1448.5 1015.0,1426.8 1102.0,1411.5 1189.0,1401.6 1276.0,1405.2" fill="none" stroke="#1515d8" stroke-width="2.2" />
<line x1="841.5" y1="1458.8" x2="841.5" y2="1474.5" stroke="#1515d8" stroke-width="2" />
<line x1="837.0" y1="1458.8" x2="846.0" y2="1458.8" stroke="#1515d8" stroke-width="2" />
<line x1="837.0" y1="1474.5" x2="846.0" y2="1474.5" stroke="#1515d8" stroke-width="2" />
<line x1="928.0" y1="1441.8" x2="928.0" y2="1455.2" stroke="#1515d8" stroke-width="2" />
<line x1="923.5" y1="1441.8" x2="932.5" y2="1441.8" stroke="#1515d8" stroke-width="2" />
<line x1="923.5" y1="1455.2" x2="932.5" y2="1455.2" stroke="#1515d8" stroke-width="2" />
<line x1="1015.0" y1="1419.8" x2="1015.0" y2="1433.9" stroke="#1515d8" stroke-width="2" />
<line x1="1010.5" y1="1419.8" x2="1019.5" y2="1419.8" stroke="#1515d8" stroke-width="2" />
<line x1="1010.5" y1="1433.9" x2="1019.5" y2="1433.9" stroke="#1515d8" stroke-width="2" />
<line x1="1102.0" y1="1399.7" x2="1102.0" y2="1423.3" stroke="#1515d8" stroke-width="2" />
<line x1="1097.5" y1="1399.7" x2="1106.5" y2="1399.7" stroke="#1515d8" stroke-width="2" />
<line x1="1097.5" y1="1423.3" x2="1106.5" y2="1423.3" stroke="#1515d8" stroke-width="2" />
<line x1="1189.0" y1="1390.6" x2="1189.0" y2="1412.7" stroke="#1515d8" stroke-width="2" />
<line x1="1184.5" y1="1390.6" x2="1193.5" y2="1390.6" stroke="#1515d8" stroke-width="2" />
<line x1="1184.5" y1="1412.7" x2="1193.5" y2="1412.7" stroke="#1515d8" stroke-width="2" />
<line x1="1276.0" y1="1395.3" x2="1276.0" y2="1415.0" stroke="#1515d8" stroke-width="2" />
<line x1="1271.5" y1="1395.3" x2="1280.5" y2="1395.3" stroke="#1515d8" stroke-width="2" />
<line x1="1271.5" y1="1415.0" x2="1280.5" y2="1415.0" stroke="#1515d8" stroke-width="2" />
<polygon points="841.5,1460.7 847.0,1470.6 836.0,1470.6" fill="#1515d8"/>
<polygon points="928.0,1442.6 933.5,1452.5 922.5,1452.5" fill="#1515d8"/>
<polygon points="1015.0,1420.9 1020.5,1430.8 1009.5,1430.8" fill="#1515d8"/>
<polygon points="1102.0,1405.5 1107.5,1415.4 1096.5,1415.4" fill="#1515d8"/>
<polygon points="1189.0,1395.7 1194.5,1405.6 1183.5,1405.6" fill="#1515d8"/>
<polygon points="1276.0,1399.2 1281.5,1409.1 1270.5,1409.1" fill="#1515d8"/>
<polyline points="841.5,1491.5 928.0,1473.7 1015.0,1471.4 1102.0,1472.5 1189.0,1475.3 1276.0,1473.7" fill="none" stroke="#e81e1e" stroke-width="2.2" />
<line x1="841.5" y1="1484.8" x2="841.5" y2="1498.2" stroke="#e81e1e" stroke-width="2" />
<line x1="837.0" y1="1484.8" x2="846.0" y2="1484.8" stroke="#e81e1e" stroke-width="2" />
<line x1="837.0" y1="1498.2" x2="846.0" y2="1498.2" stroke="#e81e1e" stroke-width="2" />
<line x1="928.0" y1="1465.9" x2="928.0" y2="1481.6" stroke="#e81e1e" stroke-width="2" />
<line x1="923.5" y1="1465.9" x2="932.5" y2="1465.9" stroke="#e81e1e" stroke-width="2" />
<line x1="923.5" y1="1481.6" x2="932.5" y2="1481.6" stroke="#e81e1e" stroke-width="2" />
<line x1="1015.0" y1="1462.7" x2="1015.0" y2="1480.0" stroke="#e81e1e" stroke-width="2" />
<line x1="1010.5" y1="1462.7" x2="1019.5" y2="1462.7" stroke="#e81e1e" stroke-width="2" />
<line x1="1010.5" y1="1480.0" x2="1019.5" y2="1480.0" stroke="#e81e1e" stroke-width="2" />
<line x1="1102.0" y1="1467.8" x2="1102.0" y2="1477.3" stroke="#e81e1e" stroke-width="2" />
<line x1="1097.5" y1="1467.8" x2="1106.5" y2="1467.8" stroke="#e81e1e" stroke-width="2" />
<line x1="1097.5" y1="1477.3" x2="1106.5" y2="1477.3" stroke="#e81e1e" stroke-width="2" />
<line x1="1189.0" y1="1467.4" x2="1189.0" y2="1483.2" stroke="#e81e1e" stroke-width="2" />
<line x1="1184.5" y1="1467.4" x2="1193.5" y2="1467.4" stroke="#e81e1e" stroke-width="2" />
<line x1="1184.5" y1="1483.2" x2="1193.5" y2="1483.2" stroke="#e81e1e" stroke-width="2" />
<line x1="1276.0" y1="1465.9" x2="1276.0" y2="1481.6" stroke="#e81e1e" stroke-width="2" />
<line x1="1271.5" y1="1465.9" x2="1280.5" y2="1465.9" stroke="#e81e1e" stroke-width="2" />
<line x1="1271.5" y1="1481.6" x2="1280.5" y2="1481.6" stroke="#e81e1e" stroke-width="2" />
<rect x="836.8" y="1486.8" width="9.3" height="9.3" fill="#e81e1e"/>
<rect x="923.3" y="1469.1" width="9.3" height="9.3" fill="#e81e1e"/>
<rect x="1010.3" y="1466.7" width="9.3" height="9.3" fill="#e81e1e"/>
<rect x="1097.3" y="1467.9" width="9.3" height="9.3" fill="#e81e1e"/>
<rect x="1184.3" y="1470.6" width="9.3" height="9.3" fill="#e81e1e"/>
<rect x="1271.3" y="1469.1" width="9.3" height="9.3" fill="#e81e1e"/>
<line x1="849.0" y1="1273.0" x2="879.0" y2="1273.0" stroke="#1515d8" stroke-width="2.2" />
<polygon points="864.0,1267.1 869.5,1277.0 858.5,1277.0" fill="#1515d8"/>
<text x="895.0" y="1280.9" font-size="22.2" font-family="'Liberation Sans', Arial, sans-serif" textLength="58.0" lengthAdjust="spacingAndGlyphs" >CTRL</text>
<line x1="1004.0" y1="1273.0" x2="1033.0" y2="1273.0" stroke="#e81e1e" stroke-width="2.2" />
<rect x="1013.8" y="1268.3" width="9.3" height="9.3" fill="#e81e1e"/>
<text x="1049.0" y="1280.9" font-size="23" font-family="'Liberation Sans', Arial, sans-serif" textLength="53.0" lengthAdjust="spacingAndGlyphs" >DiKO</text>
<text x="966.0" y="1392.0" font-size="21.1" font-family="'Liberation Sans', Arial, sans-serif" textLength="91.0" lengthAdjust="spacingAndGlyphs" >P=0.0016</text>
<text x="1004.0" y="1418.6" font-size="28" font-family="'Liberation Sans', Arial, sans-serif" textLength="21.0" lengthAdjust="spacingAndGlyphs" >**</text>
<text x="1068.0" y="1375.0" font-size="21.0" font-family="'Liberation Sans', Arial, sans-serif" textLength="67.0" lengthAdjust="spacingAndGlyphs" >P=0.02</text>
<text x="1103.0" y="1401.6" font-size="28" font-family="'Liberation Sans', Arial, sans-serif" text-anchor="middle" >*</text>
<text x="1151.0" y="1359.0" font-size="20.9" font-family="'Liberation Sans', Arial, sans-serif" textLength="90.0" lengthAdjust="spacingAndGlyphs" >P=0.0002</text>
<text x="1175.0" y="1387.6" font-size="28" font-family="'Liberation Sans', Arial, sans-serif" textLength="31.0" lengthAdjust="spacingAndGlyphs" >***</text>
<text x="1256.0" y="1368.0" font-size="20.9" font-family="'Liberation Sans', Arial, sans-serif" textLength="90.0" lengthAdjust="spacingAndGlyphs" >P=0.0002</text>
<text x="1258.0" y="1395.6" font-size="28" font-family="'Liberation Sans', Arial, sans-serif" textLength="32.0" lengthAdjust="spacingAndGlyphs" >***</text>
<text x="1419.0" y="1264.0" font-size="34" font-family="'Liberation Sans', Arial, sans-serif" font-weight="bold" textLength="18.0" lengthAdjust="spacingAndGlyphs" >n</text>
<rect x="1468.0" y="1245.0" width="593.0" height="395.0" fill="none" stroke="#000" stroke-width="2.1" />
<line x1="1547.0" y1="1640.0" x2="1547.0" y2="1632.0" stroke="#000" stroke-width="2" />
<line x1="1633.5" y1="1640.0" x2="1633.5" y2="1632.0" stroke="#000" stroke-width="2" />
<line x1="1720.0" y1="1640.0" x2="1720.0" y2="1632.0" stroke="#000" stroke-width="2" />
<line x1="1807.0" y1="1640.0" x2="1807.0" y2="1632.0" stroke="#000" stroke-width="2" />
<line x1="1894.0" y1="1640.0" x2="1894.0" y2="1632.0" stroke="#000" stroke-width="2" />
<line x1="1981.0" y1="1640.0" x2="1981.0" y2="1632.0" stroke="#000" stroke-width="2" />
<line x1="1468.0" y1="1376.0" x2="1476.0" y2="1376.0" stroke="#000" stroke-width="2" />
<line x1="1468.0" y1="1508.0" x2="1476.0" y2="1508.0" stroke="#000" stroke-width="2" />
<text x="1463.0" y="1383.7" font-size="22" font-family="'Liberation Sans', Arial, sans-serif" font-weight="bold" text-anchor="end" >200</text>
<text x="1463.0" y="1515.7" font-size="22" font-family="'Liberation Sans', Arial, sans-serif" font-weight="bold" text-anchor="end" >100</text>
<text x="1547.0" y="1667.0" font-size="22" font-family="'Liberation Sans', Arial, sans-serif" font-weight="bold" text-anchor="middle" >1</text>
<text x="1633.5" y="1667.0" font-size="22" font-family="'Liberation Sans', Arial, sans-serif" font-weight="bold" text-anchor="middle" >3</text>
<text x="1720.0" y="1667.0" font-size="22" font-family="'Liberation Sans', Arial, sans-serif" font-weight="bold" text-anchor="middle" >4</text>
<text x="1807.0" y="1667.0" font-size="22" font-family="'Liberation Sans', Arial, sans-serif" font-weight="bold" text-anchor="middle" >8</text>
<text x="1894.0" y="1667.0" font-size="22" font-family="'Liberation Sans', Arial, sans-serif" font-weight="bold" text-anchor="middle" >12</text>
<text x="1981.0" y="1667.0" font-size="22" font-family="'Liberation Sans', Arial, sans-serif" font-weight="bold" text-anchor="middle" >16</text>
<text x="1405.5" y="1548.0" font-size="27" font-weight="bold" font-family="'Liberation Sans', Arial, sans-serif" textLength="215.0" lengthAdjust="spacingAndGlyphs" transform="rotate(-90 1405.5 1548.0)">LV volume, d (<tspan font-family="'Liberation Serif', 'Times New Roman', serif" font-weight="normal">µ</tspan>L)</text>
<text x="1598.0" y="1707.0" font-size="22.7" font-family="'Liberation Sans', Arial, sans-serif" font-weight="bold" textLength="337.0" lengthAdjust="spacingAndGlyphs" >Time after LAD ligation (weeks)</text>
<polyline points="1547.0,1519.0 1633.5,1490.8 1720.0,1447.7 1807.0,1410.3 1894.0,1387.9 1981.0,1387.9" fill="none" stroke="#1515d8" stroke-width="2.2" />
<line x1="1547.0" y1="1507.1" x2="1547.0" y2="1530.8" stroke="#1515d8" stroke-width="2" />
<line x1="1542.5" y1="1507.1" x2="1551.5" y2="1507.1" stroke="#1515d8" stroke-width="2" />
<line x1="1542.5" y1="1530.8" x2="1551.5" y2="1530.8" stroke="#1515d8" stroke-width="2" />
<line x1="1633.5" y1="1480.3" x2="1633.5" y2="1501.4" stroke="#1515d8" stroke-width="2" />
<line x1="1629.0" y1="1480.3" x2="1638.0" y2="1480.3" stroke="#1515d8" stroke-width="2" />
<line x1="1629.0" y1="1501.4" x2="1638.0" y2="1501.4" stroke="#1515d8" stroke-width="2" />
<line x1="1720.0" y1="1431.8" x2="1720.0" y2="1463.5" stroke="#1515d8" stroke-width="2" />
<line x1="1715.5" y1="1431.8" x2="1724.5" y2="1431.8" stroke="#1515d8" stroke-width="2" />
<line x1="1715.5" y1="1463.5" x2="1724.5" y2="1463.5" stroke="#1515d8" stroke-width="2" />
<line x1="1807.0" y1="1383.9" x2="1807.0" y2="1436.7" stroke="#1515d8" stroke-width="2" />
<line x1="1802.5" y1="1383.9" x2="1811.5" y2="1383.9" stroke="#1515d8" stroke-width="2" />
<line x1="1802.5" y1="1436.7" x2="1811.5" y2="1436.7" stroke="#1515d8" stroke-width="2" />
<line x1="1894.0" y1="1360.2" x2="1894.0" y2="1415.6" stroke="#1515d8" stroke-width="2" />
<line x1="1889.5" y1="1360.2" x2="1898.5" y2="1360.2" stroke="#1515d8" stroke-width="2" />
<line x1="1889.5" y1="1415.6" x2="1898.5" y2="1415.6" stroke="#1515d8" stroke-width="2" />
<line x1="1981.0" y1="1360.2" x2="1981.0" y2="1415.6" stroke="#1515d8" stroke-width="2" />
<line x1="1976.5" y1="1360.2" x2="1985.5" y2="1360.2" stroke="#1515d8" stroke-width="2" />
<line x1="1976.5" y1="1415.6" x2="1985.5" y2="1415.6" stroke="#1515d8" stroke-width="2" />
<polygon points="1547.0,1513.0 1552.5,1522.9 1541.5,1522.9" fill="#1515d8"/>
<polygon points="1633.5,1484.9 1639.0,1494.8 1628.0,1494.8" fill="#1515d8"/>
<polygon points="1720.0,1441.7 1725.5,1451.6 1714.5,1451.6" fill="#1515d8"/>
<polygon points="1807.0,1404.4 1812.5,1414.3 1801.5,1414.3" fill="#1515d8"/>
<polygon points="1894.0,1381.9 1899.5,1391.8 1888.5,1391.8" fill="#1515d8"/>
<polygon points="1981.0,1381.9 1986.5,1391.8 1975.5,1391.8" fill="#1515d8"/>
<polyline points="1547.0,1556.8 1633.5,1531.8 1720.0,1527.0 1807.0,1531.8 1894.0,1534.4 1981.0,1531.8" fill="none" stroke="#e81e1e" stroke-width="2.2" />
<line x1="1547.0" y1="1547.6" x2="1547.0" y2="1566.1" stroke="#e81e1e" stroke-width="2" />
<line x1="1542.5" y1="1547.6" x2="1551.5" y2="1547.6" stroke="#e81e1e" stroke-width="2" />
<line x1="1542.5" y1="1566.1" x2="1551.5" y2="1566.1" stroke="#e81e1e" stroke-width="2" />
<line x1="1633.5" y1="1521.2" x2="1633.5" y2="1542.3" stroke="#e81e1e" stroke-width="2" />
<line x1="1629.0" y1="1521.2" x2="1638.0" y2="1521.2" stroke="#e81e1e" stroke-width="2" />
<line x1="1629.0" y1="1542.3" x2="1638.0" y2="1542.3" stroke="#e81e1e" stroke-width="2" />
<line x1="1720.0" y1="1515.1" x2="1720.0" y2="1538.9" stroke="#e81e1e" stroke-width="2" />
<line x1="1715.5" y1="1515.1" x2="1724.5" y2="1515.1" stroke="#e81e1e" stroke-width="2" />
<line x1="1715.5" y1="1538.9" x2="1724.5" y2="1538.9" stroke="#e81e1e" stroke-width="2" />
<line x1="1807.0" y1="1523.8" x2="1807.0" y2="1539.7" stroke="#e81e1e" stroke-width="2" />
<line x1="1802.5" y1="1523.8" x2="1811.5" y2="1523.8" stroke="#e81e1e" stroke-width="2" />
<line x1="1802.5" y1="1539.7" x2="1811.5" y2="1539.7" stroke="#e81e1e" stroke-width="2" />
<line x1="1894.0" y1="1522.5" x2="1894.0" y2="1546.3" stroke="#e81e1e" stroke-width="2" />
<line x1="1889.5" y1="1522.5" x2="1898.5" y2="1522.5" stroke="#e81e1e" stroke-width="2" />
<line x1="1889.5" y1="1546.3" x2="1898.5" y2="1546.3" stroke="#e81e1e" stroke-width="2" />
<line x1="1981.0" y1="1519.9" x2="1981.0" y2="1543.6" stroke="#e81e1e" stroke-width="2" />
<line x1="1976.5" y1="1519.9" x2="1985.5" y2="1519.9" stroke="#e81e1e" stroke-width="2" />
<line x1="1976.5" y1="1543.6" x2="1985.5" y2="1543.6" stroke="#e81e1e" stroke-width="2" />
<rect x="1542.3" y="1552.2" width="9.3" height="9.3" fill="#e81e1e"/>
<rect x="1628.8" y="1527.1" width="9.3" height="9.3" fill="#e81e1e"/>
<rect x="1715.3" y="1522.3" width="9.3" height="9.3" fill="#e81e1e"/>
<rect x="1802.3" y="1527.1" width="9.3" height="9.3" fill="#e81e1e"/>
<rect x="1889.3" y="1529.7" width="9.3" height="9.3" fill="#e81e1e"/>
<rect x="1976.3" y="1527.1" width="9.3" height="9.3" fill="#e81e1e"/>
<line x1="1554.0" y1="1272.0" x2="1584.0" y2="1272.0" stroke="#1515d8" stroke-width="2.2" />
<polygon points="1569.0,1266.1 1574.5,1276.0 1563.5,1276.0" fill="#1515d8"/>
<text x="1601.0" y="1279.9" font-size="21.5" font-family="'Liberation Sans', Arial, sans-serif" textLength="56.0" lengthAdjust="spacingAndGlyphs" >CTRL</text>
<line x1="1708.0" y1="1272.0" x2="1738.0" y2="1272.0" stroke="#e81e1e" stroke-width="2.2" />
<rect x="1718.3" y="1267.3" width="9.3" height="9.3" fill="#e81e1e"/>
<text x="1755.0" y="1279.9" font-size="23" font-family="'Liberation Sans', Arial, sans-serif" textLength="52.0" lengthAdjust="spacingAndGlyphs" >DiKO</text>
<text x="1668.0" y="1399.0" font-size="20.9" font-family="'Liberation Sans', Arial, sans-serif" textLength="90.0" lengthAdjust="spacingAndGlyphs" >P=0.0019</text>
<text x="1707.0" y="1428.6" font-size="28" font-family="'Liberation Sans', Arial, sans-serif" textLength="20.0" lengthAdjust="spacingAndGlyphs" >**</text>
<text x="1769.0" y="1355.0" font-size="21.0" font-family="'Liberation Sans', Arial, sans-serif" textLength="67.0" lengthAdjust="spacingAndGlyphs" >P=0.03</text>
<text x="1805.0" y="1383.6" font-size="28" font-family="'Liberation Sans', Arial, sans-serif" text-anchor="middle" >*</text>
<text x="1849.0" y="1334.0" font-size="20.4" font-family="'Liberation Sans', Arial, sans-serif" textLength="88.0" lengthAdjust="spacingAndGlyphs" >P=0.0006</text>
<text x="1877.0" y="1358.6" font-size="28" font-family="'Liberation Sans', Arial, sans-serif" textLength="34.0" lengthAdjust="spacingAndGlyphs" >***</text>
<text x="1959.0" y="1329.0" font-size="20.6" font-family="'Liberation Sans', Arial, sans-serif" textLength="89.0" lengthAdjust="spacingAndGlyphs" >P=0.0005</text>
<text x="1966.0" y="1358.6" font-size="28" font-family="'Liberation Sans', Arial, sans-serif" textLength="31.0" lengthAdjust="spacingAndGlyphs" >***</text>
<text x="30.0" y="1775.5" font-size="29" font-family="'Liberation Sans', Arial, sans-serif" font-weight="bold" textLength="17.0" lengthAdjust="spacingAndGlyphs" >o</text>
<rect x="75.0" y="1759.5" width="592.0" height="395.5" fill="none" stroke="#000" stroke-width="2.1" />
<line x1="153.0" y1="2155.0" x2="153.0" y2="2147.0" stroke="#000" stroke-width="2" />
<line x1="240.0" y1="2155.0" x2="240.0" y2="2147.0" stroke="#000" stroke-width="2" />
<line x1="327.0" y1="2155.0" x2="327.0" y2="2147.0" stroke="#000" stroke-width="2" />
<line x1="414.0" y1="2155.0" x2="414.0" y2="2147.0" stroke="#000" stroke-width="2" />
<line x1="501.0" y1="2155.0" x2="501.0" y2="2147.0" stroke="#000" stroke-width="2" />
<line x1="587.0" y1="2155.0" x2="587.0" y2="2147.0" stroke="#000" stroke-width="2" />
<line x1="75.0" y1="1857.5" x2="83.0" y2="1857.5" stroke="#000" stroke-width="2" />
<line x1="75.0" y1="1957.0" x2="83.0" y2="1957.0" stroke="#000" stroke-width="2" />
<line x1="75.0" y1="2056.5" x2="83.0" y2="2056.5" stroke="#000" stroke-width="2" />
<text x="70.0" y="1865.2" font-size="22" font-family="'Liberation Sans', Arial, sans-serif" font-weight="bold" text-anchor="end" >1.5</text>
<text x="70.0" y="1964.7" font-size="22" font-family="'Liberation Sans', Arial, sans-serif" font-weight="bold" text-anchor="end" >1.0</text>
<text x="70.0" y="2064.2" font-size="22" font-family="'Liberation Sans', Arial, sans-serif" font-weight="bold" text-anchor="end" >0.5</text>
<text x="153.0" y="2181.0" font-size="22" font-family="'Liberation Sans', Arial, sans-serif" font-weight="bold" text-anchor="middle" >1</text>
<text x="240.0" y="2181.0" font-size="22" font-family="'Liberation Sans', Arial, sans-serif" font-weight="bold" text-anchor="middle" >3</text>
<text x="327.0" y="2181.0" font-size="22" font-family="'Liberation Sans', Arial, sans-serif" font-weight="bold" text-anchor="middle" >4</text>
<text x="414.0" y="2181.0" font-size="22" font-family="'Liberation Sans', Arial, sans-serif" font-weight="bold" text-anchor="middle" >8</text>
<text x="501.0" y="2181.0" font-size="22" font-family="'Liberation Sans', Arial, sans-serif" font-weight="bold" text-anchor="middle" >12</text>
<text x="587.0" y="2181.0" font-size="22" font-family="'Liberation Sans', Arial, sans-serif" font-weight="bold" text-anchor="middle" >16</text>
<text x="20.0" y="2041.0" font-size="27.1" font-family="'Liberation Sans', Arial, sans-serif" font-weight="bold" textLength="180.0" lengthAdjust="spacingAndGlyphs" transform="rotate(-90 20.0 2041.0)" >LVPW, d (mm)</text>
<text x="205.0" y="2221.0" font-size="22.7" font-family="'Liberation Sans', Arial, sans-serif" font-weight="bold" textLength="337.0" lengthAdjust="spacingAndGlyphs" >Time after LAD ligation (weeks)</text>
<polyline points="153.0,1996.8 240.0,2002.8 327.0,2015.7 414.0,2010.7 501.0,2012.7 587.0,2006.8" fill="none" stroke="#1515d8" stroke-width="2.2" />
<line x1="153.0" y1="1992.8" x2="153.0" y2="2000.8" stroke="#1515d8" stroke-width="2" />
<line x1="148.5" y1="1992.8" x2="157.5" y2="1992.8" stroke="#1515d8" stroke-width="2" />
<line x1="148.5" y1="2000.8" x2="157.5" y2="2000.8" stroke="#1515d8" stroke-width="2" />
<line x1="240.0" y1="1984.9" x2="240.0" y2="2020.7" stroke="#1515d8" stroke-width="2" />
<line x1="235.5" y1="1984.9" x2="244.5" y2="1984.9" stroke="#1515d8" stroke-width="2" />
<line x1="235.5" y1="2020.7" x2="244.5" y2="2020.7" stroke="#1515d8" stroke-width="2" />
<line x1="327.0" y1="2003.8" x2="327.0" y2="2027.6" stroke="#1515d8" stroke-width="2" />
<line x1="322.5" y1="2003.8" x2="331.5" y2="2003.8" stroke="#1515d8" stroke-width="2" />
<line x1="322.5" y1="2027.6" x2="331.5" y2="2027.6" stroke="#1515d8" stroke-width="2" />
<line x1="414.0" y1="1994.8" x2="414.0" y2="2026.7" stroke="#1515d8" stroke-width="2" />
<line x1="409.5" y1="1994.8" x2="418.5" y2="1994.8" stroke="#1515d8" stroke-width="2" />
<line x1="409.5" y1="2026.7" x2="418.5" y2="2026.7" stroke="#1515d8" stroke-width="2" />
<line x1="501.0" y1="1998.8" x2="501.0" y2="2026.7" stroke="#1515d8" stroke-width="2" />
<line x1="496.5" y1="1998.8" x2="505.5" y2="1998.8" stroke="#1515d8" stroke-width="2" />
<line x1="496.5" y1="2026.7" x2="505.5" y2="2026.7" stroke="#1515d8" stroke-width="2" />
<line x1="587.0" y1="1992.8" x2="587.0" y2="2020.7" stroke="#1515d8" stroke-width="2" />
<line x1="582.5" y1="1992.8" x2="591.5" y2="1992.8" stroke="#1515d8" stroke-width="2" />
<line x1="582.5" y1="2020.7" x2="591.5" y2="2020.7" stroke="#1515d8" stroke-width="2" />
<circle cx="153.0" cy="1996.8" r="6.6" fill="#1515d8"/>
<circle cx="240.0" cy="2002.8" r="6.6" fill="#1515d8"/>
<circle cx="327.0" cy="2015.7" r="6.6" fill="#1515d8"/>
<circle cx="414.0" cy="2010.7" r="6.6" fill="#1515d8"/>
<circle cx="501.0" cy="2012.7" r="6.6" fill="#1515d8"/>
<circle cx="587.0" cy="2006.8" r="6.6" fill="#1515d8"/>
<polyline points="153.0,1996.8 240.0,2000.8 327.0,1985.7 414.0,1977.7 501.0,1959.0 587.0,1953.6" fill="none" stroke="#e81e1e" stroke-width="2.2" />
<line x1="153.0" y1="1990.8" x2="153.0" y2="2002.8" stroke="#e81e1e" stroke-width="2" />
<line x1="148.5" y1="1990.8" x2="157.5" y2="1990.8" stroke="#e81e1e" stroke-width="2" />
<line x1="148.5" y1="2002.8" x2="157.5" y2="2002.8" stroke="#e81e1e" stroke-width="2" />
<line x1="240.0" y1="1996.8" x2="240.0" y2="2004.8" stroke="#e81e1e" stroke-width="2" />
<line x1="235.5" y1="1996.8" x2="244.5" y2="1996.8" stroke="#e81e1e" stroke-width="2" />
<line x1="235.5" y1="2004.8" x2="244.5" y2="2004.8" stroke="#e81e1e" stroke-width="2" />
<line x1="327.0" y1="1973.7" x2="327.0" y2="1997.6" stroke="#e81e1e" stroke-width="2" />
<line x1="322.5" y1="1973.7" x2="331.5" y2="1973.7" stroke="#e81e1e" stroke-width="2" />
<line x1="322.5" y1="1997.6" x2="331.5" y2="1997.6" stroke="#e81e1e" stroke-width="2" />
<line x1="414.0" y1="1974.7" x2="414.0" y2="1980.7" stroke="#e81e1e" stroke-width="2" />
<line x1="409.5" y1="1974.7" x2="418.5" y2="1974.7" stroke="#e81e1e" stroke-width="2" />
<line x1="409.5" y1="1980.7" x2="418.5" y2="1980.7" stroke="#e81e1e" stroke-width="2" />
<line x1="501.0" y1="1951.0" x2="501.0" y2="1967.0" stroke="#e81e1e" stroke-width="2" />
<line x1="496.5" y1="1951.0" x2="505.5" y2="1951.0" stroke="#e81e1e" stroke-width="2" />
<line x1="496.5" y1="1967.0" x2="505.5" y2="1967.0" stroke="#e81e1e" stroke-width="2" />
<line x1="587.0" y1="1950.6" x2="587.0" y2="1956.6" stroke="#e81e1e" stroke-width="2" />
<line x1="582.5" y1="1950.6" x2="591.5" y2="1950.6" stroke="#e81e1e" stroke-width="2" />
<line x1="582.5" y1="1956.6" x2="591.5" y2="1956.6" stroke="#e81e1e" stroke-width="2" />
<circle cx="153.0" cy="1996.8" r="6.6" fill="#e81e1e"/>
<circle cx="240.0" cy="2000.8" r="6.6" fill="#e81e1e"/>
<circle cx="327.0" cy="1985.7" r="6.6" fill="#e81e1e"/>
<circle cx="414.0" cy="1977.7" r="6.6" fill="#e81e1e"/>
<circle cx="501.0" cy="1959.0" r="6.6" fill="#e81e1e"/>
<circle cx="587.0" cy="1953.6" r="6.6" fill="#e81e1e"/>
<line x1="161.0" y1="1787.6" x2="191.0" y2="1787.6" stroke="#1515d8" stroke-width="2.2" />
<circle cx="176.0" cy="1787.6" r="6.6" fill="#1515d8"/>
<text x="206.0" y="1795.5" font-size="22.6" font-family="'Liberation Sans', Arial, sans-serif" textLength="59.0" lengthAdjust="spacingAndGlyphs" >CTRL</text>
<line x1="315.0" y1="1787.6" x2="345.0" y2="1787.6" stroke="#e81e1e" stroke-width="2.2" />
<circle cx="330.0" cy="1787.6" r="6.6" fill="#e81e1e"/>
<text x="362.0" y="1795.5" font-size="23" font-family="'Liberation Sans', Arial, sans-serif" textLength="53.0" lengthAdjust="spacingAndGlyphs" >DiKO</text>
<text x="473.0" y="1923.0" font-size="20.3" font-family="'Liberation Sans', Arial, sans-serif" textLength="65.0" lengthAdjust="spacingAndGlyphs" >P=0.01</text>
<text x="502.0" y="1950.6" font-size="28" font-family="'Liberation Sans', Arial, sans-serif" text-anchor="middle" >*</text>
<text x="561.0" y="1916.0" font-size="20.5" font-family="'Liberation Sans', Arial, sans-serif" textLength="77.0" lengthAdjust="spacingAndGlyphs" >P=0.007</text>
<text x="576.0" y="1943.6" font-size="28" font-family="'Liberation Sans', Arial, sans-serif" textLength="22.0" lengthAdjust="spacingAndGlyphs" >**</text>
<text x="707.0" y="1775.5" font-size="31" font-family="'Liberation Sans', Arial, sans-serif" font-weight="bold" textLength="19.0" lengthAdjust="spacingAndGlyphs" >p</text>
<rect x="759.0" y="1759.5" width="592.0" height="394.5" fill="none" stroke="#000" stroke-width="2.1" />
<line x1="837.0" y1="2154.0" x2="837.0" y2="2146.0" stroke="#000" stroke-width="2" />
<line x1="924.0" y1="2154.0" x2="924.0" y2="2146.0" stroke="#000" stroke-width="2" />
<line x1="1011.0" y1="2154.0" x2="1011.0" y2="2146.0" stroke="#000" stroke-width="2" />
<line x1="1098.0" y1="2154.0" x2="1098.0" y2="2146.0" stroke="#000" stroke-width="2" />
<line x1="1185.0" y1="2154.0" x2="1185.0" y2="2146.0" stroke="#000" stroke-width="2" />
<line x1="1271.0" y1="2154.0" x2="1271.0" y2="2146.0" stroke="#000" stroke-width="2" />
<line x1="759.0" y1="1839.5" x2="767.0" y2="1839.5" stroke="#000" stroke-width="2" />
<line x1="759.0" y1="1918.5" x2="767.0" y2="1918.5" stroke="#000" stroke-width="2" />
<line x1="759.0" y1="1997.5" x2="767.0" y2="1997.5" stroke="#000" stroke-width="2" />
<line x1="759.0" y1="2076.5" x2="767.0" y2="2076.5" stroke="#000" stroke-width="2" />
<text x="752.5" y="1847.2" font-size="22" font-family="'Liberation Sans', Arial, sans-serif" font-weight="bold" text-anchor="end" >8</text>
<text x="752.5" y="1926.2" font-size="22" font-family="'Liberation Sans', Arial, sans-serif" font-weight="bold" text-anchor="end" >6</text>
<text x="752.5" y="2005.2" font-size="22" font-family="'Liberation Sans', Arial, sans-serif" font-weight="bold" text-anchor="end" >4</text>
<text x="752.5" y="2084.2" font-size="22" font-family="'Liberation Sans', Arial, sans-serif" font-weight="bold" text-anchor="end" >2</text>
<text x="837.0" y="2181.0" font-size="22" font-family="'Liberation Sans', Arial, sans-serif" font-weight="bold" text-anchor="middle" >1</text>
<text x="924.0" y="2181.0" font-size="22" font-family="'Liberation Sans', Arial, sans-serif" font-weight="bold" text-anchor="middle" >3</text>
<text x="1011.0" y="2181.0" font-size="22" font-family="'Liberation Sans', Arial, sans-serif" font-weight="bold" text-anchor="middle" >4</text>
<text x="1098.0" y="2181.0" font-size="22" font-family="'Liberation Sans', Arial, sans-serif" font-weight="bold" text-anchor="middle" >8</text>
<text x="1185.0" y="2181.0" font-size="22" font-family="'Liberation Sans', Arial, sans-serif" font-weight="bold" text-anchor="middle" >12</text>
<text x="1271.0" y="2181.0" font-size="22" font-family="'Liberation Sans', Arial, sans-serif" font-weight="bold" text-anchor="middle" >16</text>
<text x="721.5" y="2031.0" font-size="26.3" font-family="'Liberation Sans', Arial, sans-serif" font-weight="bold" textLength="159.0" lengthAdjust="spacingAndGlyphs" transform="rotate(-90 721.5 2031.0)" >LVID, s (mm)</text>
<text x="889.0" y="2221.0" font-size="22.7" font-family="'Liberation Sans', Arial, sans-serif" font-weight="bold" textLength="337.0" lengthAdjust="spacingAndGlyphs" >Time after LAD ligation (weeks)</text>
<polyline points="837.0,2026.3 924.0,2003.0 1011.0,1975.8 1098.0,1955.6 1185.0,1942.6 1271.0,1940.2" fill="none" stroke="#1515d8" stroke-width="2.2" />
<line x1="837.0" y1="2020.4" x2="837.0" y2="2032.3" stroke="#1515d8" stroke-width="2" />
<line x1="832.5" y1="2020.4" x2="841.5" y2="2020.4" stroke="#1515d8" stroke-width="2" />
<line x1="832.5" y1="2032.3" x2="841.5" y2="2032.3" stroke="#1515d8" stroke-width="2" />
<line x1="924.0" y1="1992.0" x2="924.0" y2="2014.1" stroke="#1515d8" stroke-width="2" />
<line x1="919.5" y1="1992.0" x2="928.5" y2="1992.0" stroke="#1515d8" stroke-width="2" />
<line x1="919.5" y1="2014.1" x2="928.5" y2="2014.1" stroke="#1515d8" stroke-width="2" />
<line x1="1011.0" y1="1967.9" x2="1011.0" y2="1983.7" stroke="#1515d8" stroke-width="2" />
<line x1="1006.5" y1="1967.9" x2="1015.5" y2="1967.9" stroke="#1515d8" stroke-width="2" />
<line x1="1006.5" y1="1983.7" x2="1015.5" y2="1983.7" stroke="#1515d8" stroke-width="2" />
<line x1="1098.0" y1="1942.6" x2="1098.0" y2="1968.7" stroke="#1515d8" stroke-width="2" />
<line x1="1093.5" y1="1942.6" x2="1102.5" y2="1942.6" stroke="#1515d8" stroke-width="2" />
<line x1="1093.5" y1="1968.7" x2="1102.5" y2="1968.7" stroke="#1515d8" stroke-width="2" />
<line x1="1185.0" y1="1929.6" x2="1185.0" y2="1955.6" stroke="#1515d8" stroke-width="2" />
<line x1="1180.5" y1="1929.6" x2="1189.5" y2="1929.6" stroke="#1515d8" stroke-width="2" />
<line x1="1180.5" y1="1955.6" x2="1189.5" y2="1955.6" stroke="#1515d8" stroke-width="2" />
<line x1="1271.0" y1="1928.4" x2="1271.0" y2="1952.1" stroke="#1515d8" stroke-width="2" />
<line x1="1266.5" y1="1928.4" x2="1275.5" y2="1928.4" stroke="#1515d8" stroke-width="2" />
<line x1="1266.5" y1="1952.1" x2="1275.5" y2="1952.1" stroke="#1515d8" stroke-width="2" />
<polygon points="837.0,2020.4 842.5,2030.3 831.5,2030.3" fill="#1515d8"/>
<polygon points="924.0,1997.1 929.5,2007.0 918.5,2007.0" fill="#1515d8"/>
<polygon points="1011.0,1969.8 1016.5,1979.7 1005.5,1979.7" fill="#1515d8"/>
<polygon points="1098.0,1949.7 1103.5,1959.6 1092.5,1959.6" fill="#1515d8"/>
<polygon points="1185.0,1936.7 1190.5,1946.6 1179.5,1946.6" fill="#1515d8"/>
<polygon points="1271.0,1934.3 1276.5,1944.2 1265.5,1944.2" fill="#1515d8"/>
<polyline points="837.0,2039.0 924.0,2029.1 1011.0,2041.0 1098.0,2044.9 1185.0,2054.8 1271.0,2052.0" fill="none" stroke="#e81e1e" stroke-width="2.2" />
<line x1="837.0" y1="2034.2" x2="837.0" y2="2043.7" stroke="#e81e1e" stroke-width="2" />
<line x1="832.5" y1="2034.2" x2="841.5" y2="2034.2" stroke="#e81e1e" stroke-width="2" />
<line x1="832.5" y1="2043.7" x2="841.5" y2="2043.7" stroke="#e81e1e" stroke-width="2" />
<line x1="924.0" y1="2022.4" x2="924.0" y2="2035.8" stroke="#e81e1e" stroke-width="2" />
<line x1="919.5" y1="2022.4" x2="928.5" y2="2022.4" stroke="#e81e1e" stroke-width="2" />
<line x1="919.5" y1="2035.8" x2="928.5" y2="2035.8" stroke="#e81e1e" stroke-width="2" />
<line x1="1011.0" y1="2033.0" x2="1011.0" y2="2048.8" stroke="#e81e1e" stroke-width="2" />
<line x1="1006.5" y1="2033.0" x2="1015.5" y2="2033.0" stroke="#e81e1e" stroke-width="2" />
<line x1="1006.5" y1="2048.8" x2="1015.5" y2="2048.8" stroke="#e81e1e" stroke-width="2" />
<line x1="1098.0" y1="2038.2" x2="1098.0" y2="2051.6" stroke="#e81e1e" stroke-width="2" />
<line x1="1093.5" y1="2038.2" x2="1102.5" y2="2038.2" stroke="#e81e1e" stroke-width="2" />
<line x1="1093.5" y1="2051.6" x2="1102.5" y2="2051.6" stroke="#e81e1e" stroke-width="2" />
<line x1="1185.0" y1="2048.1" x2="1185.0" y2="2061.5" stroke="#e81e1e" stroke-width="2" />
<line x1="1180.5" y1="2048.1" x2="1189.5" y2="2048.1" stroke="#e81e1e" stroke-width="2" />
<line x1="1180.5" y1="2061.5" x2="1189.5" y2="2061.5" stroke="#e81e1e" stroke-width="2" />
<line x1="1271.0" y1="2045.3" x2="1271.0" y2="2058.7" stroke="#e81e1e" stroke-width="2" />
<line x1="1266.5" y1="2045.3" x2="1275.5" y2="2045.3" stroke="#e81e1e" stroke-width="2" />
<line x1="1266.5" y1="2058.7" x2="1275.5" y2="2058.7" stroke="#e81e1e" stroke-width="2" />
<rect x="832.3" y="2034.3" width="9.3" height="9.3" fill="#e81e1e"/>
<rect x="919.3" y="2024.4" width="9.3" height="9.3" fill="#e81e1e"/>
<rect x="1006.3" y="2036.3" width="9.3" height="9.3" fill="#e81e1e"/>
<rect x="1093.3" y="2040.2" width="9.3" height="9.3" fill="#e81e1e"/>
<rect x="1180.3" y="2050.1" width="9.3" height="9.3" fill="#e81e1e"/>
<rect x="1266.3" y="2047.3" width="9.3" height="9.3" fill="#e81e1e"/>
<line x1="845.0" y1="1789.5" x2="876.0" y2="1789.5" stroke="#1515d8" stroke-width="2.2" />
<polygon points="860.5,1783.6 866.0,1793.5 855.0,1793.5" fill="#1515d8"/>
<text x="891.0" y="1797.4" font-size="22.2" font-family="'Liberation Sans', Arial, sans-serif" textLength="58.0" lengthAdjust="spacingAndGlyphs" >CTRL</text>
<line x1="999.0" y1="1789.5" x2="1029.0" y2="1789.5" stroke="#e81e1e" stroke-width="2.2" />
<rect x="1009.3" y="1784.8" width="9.3" height="9.3" fill="#e81e1e"/>
<text x="1045.0" y="1797.4" font-size="23" font-family="'Liberation Sans', Arial, sans-serif" textLength="53.0" lengthAdjust="spacingAndGlyphs" >DiKO</text>
<text x="943.0" y="1929.0" font-size="20.9" font-family="'Liberation Sans', Arial, sans-serif" textLength="90.0" lengthAdjust="spacingAndGlyphs" >P=0.0002</text>
<text x="999.0" y="1954.6" font-size="28" font-family="'Liberation Sans', Arial, sans-serif" textLength="32.0" lengthAdjust="spacingAndGlyphs" >***</text>
<text x="1035.0" y="1906.0" font-size="21.0" font-family="'Liberation Sans', Arial, sans-serif" textLength="79.0" lengthAdjust="spacingAndGlyphs" >P=0.005</text>
<text x="1090.0" y="1933.6" font-size="28" font-family="'Liberation Sans', Arial, sans-serif" textLength="20.0" lengthAdjust="spacingAndGlyphs" >**</text>
<text x="1137.0" y="1900.0" font-size="20.9" font-family="'Liberation Sans', Arial, sans-serif" textLength="82.0" lengthAdjust="spacingAndGlyphs" >P=5E-06</text>
<text x="1170.0" y="1925.6" font-size="28" font-family="'Liberation Sans', Arial, sans-serif" textLength="33.0" lengthAdjust="spacingAndGlyphs" >***</text>
<text x="1246.0" y="1900.0" font-size="20.8" font-family="'Liberation Sans', Arial, sans-serif" textLength="99.0" lengthAdjust="spacingAndGlyphs" >P=2.7E-06</text>
<text x="1258.0" y="1925.6" font-size="28" font-family="'Liberation Sans', Arial, sans-serif" textLength="32.0" lengthAdjust="spacingAndGlyphs" >***</text>
<text x="1430.0" y="1777.0" font-size="32" font-family="'Liberation Sans', Arial, sans-serif" font-weight="bold" textLength="20.0" lengthAdjust="spacingAndGlyphs" >q</text>
<rect x="1472.0" y="1762.5" width="587.0" height="391.1" fill="none" stroke="#000" stroke-width="2.1" />
<line x1="1550.5" y1="2153.6" x2="1550.5" y2="2145.6" stroke="#000" stroke-width="2" />
<line x1="1637.0" y1="2153.6" x2="1637.0" y2="2145.6" stroke="#000" stroke-width="2" />
<line x1="1723.0" y1="2153.6" x2="1723.0" y2="2145.6" stroke="#000" stroke-width="2" />
<line x1="1809.0" y1="2153.6" x2="1809.0" y2="2145.6" stroke="#000" stroke-width="2" />
<line x1="1895.0" y1="2153.6" x2="1895.0" y2="2145.6" stroke="#000" stroke-width="2" />
<line x1="1981.0" y1="2153.6" x2="1981.0" y2="2145.6" stroke="#000" stroke-width="2" />
<line x1="1472.0" y1="1892.0" x2="1480.0" y2="1892.0" stroke="#000" stroke-width="2" />
<line x1="1472.0" y1="2024.0" x2="1480.0" y2="2024.0" stroke="#000" stroke-width="2" />
<text x="1467.0" y="1899.7" font-size="22" font-family="'Liberation Sans', Arial, sans-serif" font-weight="bold" text-anchor="end" >200</text>
<text x="1467.0" y="2031.7" font-size="22" font-family="'Liberation Sans', Arial, sans-serif" font-weight="bold" text-anchor="end" >100</text>
<text x="1550.5" y="2181.0" font-size="22" font-family="'Liberation Sans', Arial, sans-serif" font-weight="bold" text-anchor="middle" >1</text>
<text x="1637.0" y="2181.0" font-size="22" font-family="'Liberation Sans', Arial, sans-serif" font-weight="bold" text-anchor="middle" >3</text>
<text x="1723.0" y="2181.0" font-size="22" font-family="'Liberation Sans', Arial, sans-serif" font-weight="bold" text-anchor="middle" >4</text>
<text x="1809.0" y="2181.0" font-size="22" font-family="'Liberation Sans', Arial, sans-serif" font-weight="bold" text-anchor="middle" >8</text>
<text x="1895.0" y="2181.0" font-size="22" font-family="'Liberation Sans', Arial, sans-serif" font-weight="bold" text-anchor="middle" >12</text>
<text x="1981.0" y="2181.0" font-size="22" font-family="'Liberation Sans', Arial, sans-serif" font-weight="bold" text-anchor="middle" >16</text>
<text x="1413.5" y="2062.0" font-size="27" font-weight="bold" font-family="'Liberation Sans', Arial, sans-serif" textLength="212.0" lengthAdjust="spacingAndGlyphs" transform="rotate(-90 1413.5 2062.0)">LV volume, s (<tspan font-family="'Liberation Serif', 'Times New Roman', serif" font-weight="normal">µ</tspan>L)</text>
<text x="1572.0" y="2221.0" font-size="26.2" font-family="'Liberation Sans', Arial, sans-serif" font-weight="bold" textLength="389.0" lengthAdjust="spacingAndGlyphs" >Time after LAD ligation (weeks)</text>
<polyline points="1550.5,2093.6 1637.0,2062.3 1723.0,2022.9 1809.0,1981.8 1895.0,1958.0 1981.0,1954.4" fill="none" stroke="#1515d8" stroke-width="2.2" />
<line x1="1550.5" y1="2085.0" x2="1550.5" y2="2102.1" stroke="#1515d8" stroke-width="2" />
<line x1="1546.0" y1="2085.0" x2="1555.0" y2="2085.0" stroke="#1515d8" stroke-width="2" />
<line x1="1546.0" y1="2102.1" x2="1555.0" y2="2102.1" stroke="#1515d8" stroke-width="2" />
<line x1="1637.0" y1="2047.8" x2="1637.0" y2="2076.8" stroke="#1515d8" stroke-width="2" />
<line x1="1632.5" y1="2047.8" x2="1641.5" y2="2047.8" stroke="#1515d8" stroke-width="2" />
<line x1="1632.5" y1="2076.8" x2="1641.5" y2="2076.8" stroke="#1515d8" stroke-width="2" />
<line x1="1723.0" y1="2008.4" x2="1723.0" y2="2037.5" stroke="#1515d8" stroke-width="2" />
<line x1="1718.5" y1="2008.4" x2="1727.5" y2="2008.4" stroke="#1515d8" stroke-width="2" />
<line x1="1718.5" y1="2037.5" x2="1727.5" y2="2037.5" stroke="#1515d8" stroke-width="2" />
<line x1="1809.0" y1="1955.4" x2="1809.0" y2="2008.2" stroke="#1515d8" stroke-width="2" />
<line x1="1804.5" y1="1955.4" x2="1813.5" y2="1955.4" stroke="#1515d8" stroke-width="2" />
<line x1="1804.5" y1="2008.2" x2="1813.5" y2="2008.2" stroke="#1515d8" stroke-width="2" />
<line x1="1895.0" y1="1930.7" x2="1895.0" y2="1985.3" stroke="#1515d8" stroke-width="2" />
<line x1="1890.5" y1="1930.7" x2="1899.5" y2="1930.7" stroke="#1515d8" stroke-width="2" />
<line x1="1890.5" y1="1985.3" x2="1899.5" y2="1985.3" stroke="#1515d8" stroke-width="2" />
<line x1="1981.0" y1="1927.5" x2="1981.0" y2="1981.4" stroke="#1515d8" stroke-width="2" />
<line x1="1976.5" y1="1927.5" x2="1985.5" y2="1927.5" stroke="#1515d8" stroke-width="2" />
<line x1="1976.5" y1="1981.4" x2="1985.5" y2="1981.4" stroke="#1515d8" stroke-width="2" />
<polygon points="1550.5,2087.6 1556.0,2097.5 1545.0,2097.5" fill="#1515d8"/>
<polygon points="1637.0,2056.3 1642.5,2066.2 1631.5,2066.2" fill="#1515d8"/>
<polygon points="1723.0,2017.0 1728.5,2026.9 1717.5,2026.9" fill="#1515d8"/>
<polygon points="1809.0,1975.8 1814.5,1985.7 1803.5,1985.7" fill="#1515d8"/>
<polygon points="1895.0,1952.1 1900.5,1962.0 1889.5,1962.0" fill="#1515d8"/>
<polygon points="1981.0,1948.5 1986.5,1958.4 1975.5,1958.4" fill="#1515d8"/>
<polyline points="1550.5,2107.2 1637.0,2097.9 1723.0,2108.0 1809.0,2112.7 1895.0,2120.4 1981.0,2118.6" fill="none" stroke="#e81e1e" stroke-width="2.2" />
<line x1="1550.5" y1="2101.9" x2="1550.5" y2="2112.4" stroke="#e81e1e" stroke-width="2" />
<line x1="1546.0" y1="2101.9" x2="1555.0" y2="2101.9" stroke="#e81e1e" stroke-width="2" />
<line x1="1546.0" y1="2112.4" x2="1555.0" y2="2112.4" stroke="#e81e1e" stroke-width="2" />
<line x1="1637.0" y1="2090.0" x2="1637.0" y2="2105.8" stroke="#e81e1e" stroke-width="2" />
<line x1="1632.5" y1="2090.0" x2="1641.5" y2="2090.0" stroke="#e81e1e" stroke-width="2" />
<line x1="1632.5" y1="2105.8" x2="1641.5" y2="2105.8" stroke="#e81e1e" stroke-width="2" />
<line x1="1723.0" y1="2100.0" x2="1723.0" y2="2115.9" stroke="#e81e1e" stroke-width="2" />
<line x1="1718.5" y1="2100.0" x2="1727.5" y2="2100.0" stroke="#e81e1e" stroke-width="2" />
<line x1="1718.5" y1="2115.9" x2="1727.5" y2="2115.9" stroke="#e81e1e" stroke-width="2" />
<line x1="1809.0" y1="2107.4" x2="1809.0" y2="2118.0" stroke="#e81e1e" stroke-width="2" />
<line x1="1804.5" y1="2107.4" x2="1813.5" y2="2107.4" stroke="#e81e1e" stroke-width="2" />
<line x1="1804.5" y1="2118.0" x2="1813.5" y2="2118.0" stroke="#e81e1e" stroke-width="2" />
<line x1="1895.0" y1="2116.4" x2="1895.0" y2="2124.3" stroke="#e81e1e" stroke-width="2" />
<line x1="1890.5" y1="2116.4" x2="1899.5" y2="2116.4" stroke="#e81e1e" stroke-width="2" />
<line x1="1890.5" y1="2124.3" x2="1899.5" y2="2124.3" stroke="#e81e1e" stroke-width="2" />
<line x1="1981.0" y1="2114.7" x2="1981.0" y2="2122.6" stroke="#e81e1e" stroke-width="2" />
<line x1="1976.5" y1="2114.7" x2="1985.5" y2="2114.7" stroke="#e81e1e" stroke-width="2" />
<line x1="1976.5" y1="2122.6" x2="1985.5" y2="2122.6" stroke="#e81e1e" stroke-width="2" />
<rect x="1545.8" y="2102.5" width="9.3" height="9.3" fill="#e81e1e"/>
<rect x="1632.3" y="2093.2" width="9.3" height="9.3" fill="#e81e1e"/>
<rect x="1718.3" y="2103.3" width="9.3" height="9.3" fill="#e81e1e"/>
<rect x="1804.3" y="2108.0" width="9.3" height="9.3" fill="#e81e1e"/>
<rect x="1890.3" y="2115.7" width="9.3" height="9.3" fill="#e81e1e"/>
<rect x="1976.3" y="2114.0" width="9.3" height="9.3" fill="#e81e1e"/>
<line x1="1559.0" y1="1789.0" x2="1588.0" y2="1789.0" stroke="#1515d8" stroke-width="2.2" />
<polygon points="1573.5,1783.1 1579.0,1793.0 1568.0,1793.0" fill="#1515d8"/>
<text x="1604.0" y="1796.9" font-size="21.6" font-family="'Liberation Sans', Arial, sans-serif" textLength="56.0" lengthAdjust="spacingAndGlyphs" >CRTL</text>
<line x1="1702.0" y1="1789.0" x2="1730.0" y2="1789.0" stroke="#e81e1e" stroke-width="2.2" />
<rect x="1711.3" y="1784.3" width="9.3" height="9.3" fill="#e81e1e"/>
<text x="1747.0" y="1796.9" font-size="23" font-family="'Liberation Sans', Arial, sans-serif" textLength="52.0" lengthAdjust="spacingAndGlyphs" >DiKO</text>
<text x="1683.0" y="1966.0" font-size="20.9" font-family="'Liberation Sans', Arial, sans-serif" textLength="90.0" lengthAdjust="spacingAndGlyphs" >P=0.0006</text>
<text x="1710.0" y="1993.6" font-size="28" font-family="'Liberation Sans', Arial, sans-serif" textLength="33.0" lengthAdjust="spacingAndGlyphs" >***</text>
<text x="1775.0" y="1924.0" font-size="21.3" font-family="'Liberation Sans', Arial, sans-serif" textLength="68.0" lengthAdjust="spacingAndGlyphs" >P=0.02</text>
<text x="1812.0" y="1949.6" font-size="28" font-family="'Liberation Sans', Arial, sans-serif" text-anchor="middle" >*</text>
<text x="1838.0" y="1892.0" font-size="20.9" font-family="'Liberation Sans', Arial, sans-serif" textLength="90.0" lengthAdjust="spacingAndGlyphs" >P=0.0002</text>
<text x="1882.0" y="1925.6" font-size="28" font-family="'Liberation Sans', Arial, sans-serif" textLength="32.0" lengthAdjust="spacingAndGlyphs" >***</text>
<text x="1952.0" y="1898.0" font-size="20.9" font-family="'Liberation Sans', Arial, sans-serif" textLength="90.0" lengthAdjust="spacingAndGlyphs" >P=0.0002</text>
<text x="1969.0" y="1925.6" font-size="28" font-family="'Liberation Sans', Arial, sans-serif" textLength="32.0" lengthAdjust="spacingAndGlyphs" >***</text>
</svg>
</body></html>
